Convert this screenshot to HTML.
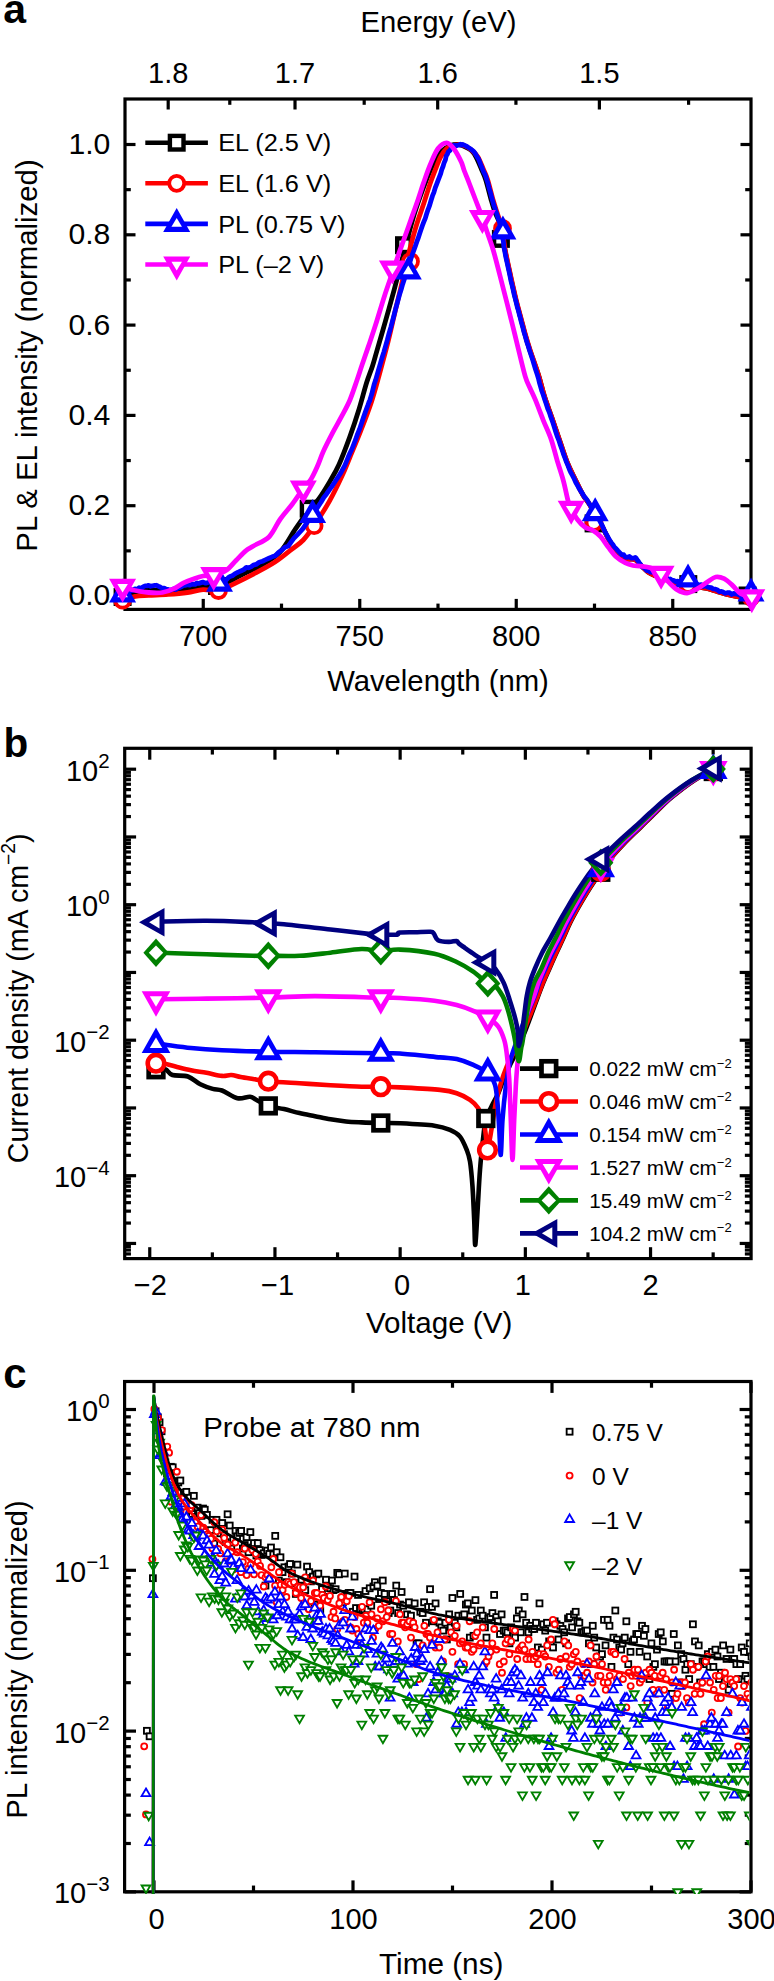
<!DOCTYPE html>
<html><head><meta charset="utf-8"><style>
html,body{margin:0;padding:0;background:#fff;}
svg{display:block;}
text{font-family:"Liberation Sans",sans-serif;fill:#000;}
</style></head><body>
<svg width="774" height="1981" viewBox="0 0 774 1981">
<defs><clipPath id="clipa"><rect x="100" y="99" width="670" height="520"/></clipPath><clipPath id="clipb"><rect x="126" y="749" width="623" height="508"/></clipPath></defs>
<rect width="774" height="1981" fill="#fff"/>
<rect x="125" y="99" width="626" height="510.4" fill="none" stroke="#000" stroke-width="3.2" stroke-linejoin="miter"/>
<line x1="203.25" y1="609.4" x2="203.25" y2="598.9" stroke="#000" stroke-width="3.2"/>
<text x="203.25" y="645.5" font-size="29" text-anchor="middle" >700</text>
<line x1="359.75" y1="609.4" x2="359.75" y2="598.9" stroke="#000" stroke-width="3.2"/>
<text x="359.75" y="645.5" font-size="29" text-anchor="middle" >750</text>
<line x1="516.25" y1="609.4" x2="516.25" y2="598.9" stroke="#000" stroke-width="3.2"/>
<text x="516.25" y="645.5" font-size="29" text-anchor="middle" >800</text>
<line x1="672.75" y1="609.4" x2="672.75" y2="598.9" stroke="#000" stroke-width="3.2"/>
<text x="672.75" y="645.5" font-size="29" text-anchor="middle" >850</text>
<line x1="281.5" y1="609.4" x2="281.5" y2="603.6" stroke="#000" stroke-width="3.2"/>
<line x1="438" y1="609.4" x2="438" y2="603.6" stroke="#000" stroke-width="3.2"/>
<line x1="594.5" y1="609.4" x2="594.5" y2="603.6" stroke="#000" stroke-width="3.2"/>
<line x1="168.19" y1="99" x2="168.19" y2="109.5" stroke="#000" stroke-width="3.2"/>
<text x="168.19" y="83.3" font-size="29" text-anchor="middle" >1.8</text>
<line x1="295.01" y1="99" x2="295.01" y2="109.5" stroke="#000" stroke-width="3.2"/>
<text x="295.01" y="83.3" font-size="29" text-anchor="middle" >1.7</text>
<line x1="437.69" y1="99" x2="437.69" y2="109.5" stroke="#000" stroke-width="3.2"/>
<text x="437.69" y="83.3" font-size="29" text-anchor="middle" >1.6</text>
<line x1="599.38" y1="99" x2="599.38" y2="109.5" stroke="#000" stroke-width="3.2"/>
<text x="599.38" y="83.3" font-size="29" text-anchor="middle" >1.5</text>
<line x1="229.79" y1="99" x2="229.79" y2="104.8" stroke="#000" stroke-width="3.2"/>
<line x1="364.19" y1="99" x2="364.19" y2="104.8" stroke="#000" stroke-width="3.2"/>
<line x1="515.93" y1="99" x2="515.93" y2="104.8" stroke="#000" stroke-width="3.2"/>
<line x1="688.59" y1="99" x2="688.59" y2="104.8" stroke="#000" stroke-width="3.2"/>
<line x1="125" y1="596" x2="135.5" y2="596" stroke="#000" stroke-width="3.2"/>
<line x1="751" y1="596" x2="740.5" y2="596" stroke="#000" stroke-width="3.2"/>
<text transform="translate(110.3,605.4) scale(1.04,1)" font-size="29" text-anchor="end" >0.0</text>
<line x1="125" y1="505.7" x2="135.5" y2="505.7" stroke="#000" stroke-width="3.2"/>
<line x1="751" y1="505.7" x2="740.5" y2="505.7" stroke="#000" stroke-width="3.2"/>
<text transform="translate(110.3,515.1) scale(1.04,1)" font-size="29" text-anchor="end" >0.2</text>
<line x1="125" y1="415.4" x2="135.5" y2="415.4" stroke="#000" stroke-width="3.2"/>
<line x1="751" y1="415.4" x2="740.5" y2="415.4" stroke="#000" stroke-width="3.2"/>
<text transform="translate(110.3,424.8) scale(1.04,1)" font-size="29" text-anchor="end" >0.4</text>
<line x1="125" y1="325.1" x2="135.5" y2="325.1" stroke="#000" stroke-width="3.2"/>
<line x1="751" y1="325.1" x2="740.5" y2="325.1" stroke="#000" stroke-width="3.2"/>
<text transform="translate(110.3,334.5) scale(1.04,1)" font-size="29" text-anchor="end" >0.6</text>
<line x1="125" y1="234.8" x2="135.5" y2="234.8" stroke="#000" stroke-width="3.2"/>
<line x1="751" y1="234.8" x2="740.5" y2="234.8" stroke="#000" stroke-width="3.2"/>
<text transform="translate(110.3,244.2) scale(1.04,1)" font-size="29" text-anchor="end" >0.8</text>
<line x1="125" y1="144.5" x2="135.5" y2="144.5" stroke="#000" stroke-width="3.2"/>
<line x1="751" y1="144.5" x2="740.5" y2="144.5" stroke="#000" stroke-width="3.2"/>
<text transform="translate(110.3,153.9) scale(1.04,1)" font-size="29" text-anchor="end" >1.0</text>
<line x1="125" y1="550.85" x2="130.8" y2="550.85" stroke="#000" stroke-width="3.2"/>
<line x1="751" y1="550.85" x2="745.2" y2="550.85" stroke="#000" stroke-width="3.2"/>
<line x1="125" y1="460.55" x2="130.8" y2="460.55" stroke="#000" stroke-width="3.2"/>
<line x1="751" y1="460.55" x2="745.2" y2="460.55" stroke="#000" stroke-width="3.2"/>
<line x1="125" y1="370.25" x2="130.8" y2="370.25" stroke="#000" stroke-width="3.2"/>
<line x1="751" y1="370.25" x2="745.2" y2="370.25" stroke="#000" stroke-width="3.2"/>
<line x1="125" y1="279.95" x2="130.8" y2="279.95" stroke="#000" stroke-width="3.2"/>
<line x1="751" y1="279.95" x2="745.2" y2="279.95" stroke="#000" stroke-width="3.2"/>
<line x1="125" y1="189.65" x2="130.8" y2="189.65" stroke="#000" stroke-width="3.2"/>
<line x1="751" y1="189.65" x2="745.2" y2="189.65" stroke="#000" stroke-width="3.2"/>
<text transform="translate(438.4,32) scale(1.008,1)" font-size="29" text-anchor="middle" >Energy (eV)</text>
<text transform="translate(438,691) scale(1.009,1)" font-size="29" text-anchor="middle" >Wavelength (nm)</text>
<text transform="translate(36.6,355.5) rotate(-90) scale(1.012,1)" font-size="29" text-anchor="middle">PL &amp; EL intensity (normalized)</text>
<text x="3.3" y="22.6" font-size="41" text-anchor="start" font-weight="bold" >a</text>
<g clip-path="url(#clipa)">
<path d="M122.6,597C124.67,596.17 130.43,593.17 135,592C139.57,590.83 145,590.25 150,590C155,589.75 160,590.5 165,590.5C170,590.5 175,590.58 180,590C185,589.42 190,587.67 195,587C200,586.33 205.83,586.25 210,586C214.17,585.75 216.33,586.5 220,585.5C223.67,584.5 227.83,582.08 232,580C236.17,577.92 240.33,575.33 245,573C249.67,570.67 254.17,569.5 260,566C265.83,562.5 274.08,558.2 280,552C285.92,545.8 290.85,535.5 295.5,528.8C300.15,522.1 304.02,516.78 307.9,511.8C311.78,506.82 315.18,503.88 318.8,498.9C322.42,493.92 326.25,487.58 329.6,481.9C332.95,476.22 335.53,472.3 338.9,464.8C342.27,457.3 346.43,446.2 349.8,436.9C353.17,427.6 356.32,417.98 359.1,409C361.88,400.02 364.27,390.17 366.5,383C368.73,375.83 370.73,371.48 372.5,366C374.27,360.52 374.92,357.65 377.1,350.1C379.28,342.55 382.77,330.68 385.6,320.7C388.43,310.72 391.61,299.32 394.08,290.2C396.54,281.08 398.37,273.87 400.42,266C402.46,258.13 404.29,250.83 406.36,243C408.42,235.17 410.59,226.5 412.81,219C415.02,211.5 417.33,204.67 419.65,198C421.96,191.33 424.29,185 426.71,179C429.14,173 431.63,166.67 434.18,162C436.73,157.33 439.25,153.75 442.01,151C444.78,148.25 448.11,146.58 450.77,145.5C453.44,144.42 455.88,144.42 458,144.5C460.12,144.58 461.23,144.98 463.5,146C465.77,147.02 469.52,148.78 471.6,150.6C473.68,152.42 474.3,153.67 476,156.9C477.7,160.13 480.17,166.15 481.8,170C483.43,173.85 484.23,175 485.8,180C487.37,185 489.62,194.5 491.2,200C492.78,205.5 493.72,208.83 495.3,213C496.88,217.17 499.42,221 500.7,225C501.98,229 502.3,232.83 503,237C503.7,241.17 503.95,244.83 504.9,250C505.85,255.17 507.48,262.33 508.7,268C509.92,273.67 511,278.67 512.2,284C513.4,289.33 514.48,294.33 515.9,300C517.32,305.67 519.15,312.17 520.7,318C522.25,323.83 523.68,329.67 525.2,335C526.72,340.33 527.58,343.33 529.8,350C532.02,356.67 536.05,367.25 538.5,375C540.95,382.75 542.25,389.33 544.5,396.5C546.75,403.67 549.42,410.5 552,418C554.58,425.5 557.42,434 560,441.5C562.58,449 564.92,456.58 567.5,463C570.08,469.42 572.92,474.67 575.5,480C578.08,485.33 580.75,491.08 583,495C585.25,498.92 586.83,500 589,503.5C591.17,507 593.92,512.42 596,516C598.08,519.58 599.33,521 601.5,525C603.67,529 606.42,535.67 609,540C611.58,544.33 614.17,547.92 617,551C619.83,554.08 623,557.08 626,558.5C629,559.92 632.5,558.33 635,559.5C637.5,560.67 638.83,563.42 641,565.5C643.17,567.58 645.5,570.25 648,572C650.5,573.75 653.33,574.83 656,576C658.67,577.17 661.33,578 664,579C666.67,580 669.33,581.17 672,582C674.67,582.83 677.33,583.5 680,584C682.67,584.5 685.17,584.58 688,585C690.83,585.42 693.83,585.92 697,586.5C700.17,587.08 703.67,587.67 707,588.5C710.33,589.33 713.67,590.5 717,591.5C720.33,592.5 723.67,593.67 727,594.5C730.33,595.33 733.67,596.08 737,596.5C740.33,596.92 744.5,596.92 747,597C749.5,597.08 751.17,597 752,597" fill="none" stroke="#000" stroke-width="4.8" stroke-linejoin="round" stroke-linecap="butt"/>
<rect x="115.8" y="590.2" width="13.6" height="13.6" fill="#fff" stroke="#000" stroke-width="4.4"/>
<rect x="210.2" y="579.2" width="13.6" height="13.6" fill="#fff" stroke="#000" stroke-width="4.4"/>
<rect x="301.9" y="501.9" width="13.6" height="13.6" fill="#fff" stroke="#000" stroke-width="4.4"/>
<rect x="397.2" y="238.4" width="13.6" height="13.6" fill="#fff" stroke="#000" stroke-width="4.4"/>
<rect x="494.1" y="232.1" width="13.6" height="13.6" fill="#fff" stroke="#000" stroke-width="4.4"/>
<rect x="586.8" y="516.6" width="13.6" height="13.6" fill="#fff" stroke="#000" stroke-width="4.4"/>
<rect x="681.5" y="577.3" width="13.6" height="13.6" fill="#fff" stroke="#000" stroke-width="4.4"/>
<rect x="740.8" y="588.7" width="13.6" height="13.6" fill="#fff" stroke="#000" stroke-width="4.4"/>
<path d="M122.6,600.2C124.7,599.57 130.83,597.2 135.2,596.4C139.57,595.6 143.32,595.73 148.8,595.4C154.28,595.07 161.65,594.88 168.1,594.4C174.55,593.92 181.68,593.3 187.5,592.5C193.32,591.7 197.83,589.93 203,589.6C208.17,589.27 213.33,591.47 218.5,590.5C223.67,589.53 228.18,586.53 234,583.8C239.82,581.07 246.57,577.73 253.4,574.1C260.23,570.47 268.57,566.18 275,562C281.43,557.82 287.28,552.67 292,549C296.72,545.33 299.62,543.88 303.3,540C306.98,536.12 309.72,532.22 314.1,525.7C318.48,519.18 324.95,509.17 329.6,500.9C334.25,492.63 338.63,483.33 342,476.1C345.37,468.87 346.7,464.98 349.8,457.5C352.9,450.02 356.98,440.5 360.6,431.2C364.22,421.9 368.27,411.57 371.5,401.7C374.73,391.83 377.25,381.95 380,372C382.75,362.05 385.5,352 388,342C390.5,332 392.84,321.17 395,312C397.16,302.83 399.15,294.83 400.97,287C402.79,279.17 404.26,272 405.91,265C407.56,258 409.05,251.83 410.86,245C412.68,238.17 414.63,231 416.81,224C418.99,217 421.72,209.67 423.91,203C426.11,196.33 427.88,190.07 429.99,184C432.1,177.93 434.7,171.27 436.55,166.6C438.4,161.93 439.36,159.02 441.09,156C442.82,152.98 444.61,150.33 446.93,148.5C449.24,146.67 452.24,145.53 455,145C457.76,144.47 460.73,144.43 463.5,145.3C466.27,146.17 469.2,148.27 471.6,150.2C474,152.13 475.88,153.6 477.9,156.9C479.92,160.2 482.07,166.15 483.7,170C485.33,173.85 486.13,175 487.7,180C489.27,185 491.52,194.5 493.1,200C494.68,205.5 495.88,208.83 497.2,213C498.52,217.17 499.98,221 501,225C502.02,229 502.6,232.83 503.3,237C504,241.17 504.25,244.83 505.2,250C506.15,255.17 507.78,262.33 509,268C510.22,273.67 511.3,278.67 512.5,284C513.7,289.33 514.78,294.33 516.2,300C517.62,305.67 519.45,312.17 521,318C522.55,323.83 523.98,329.67 525.5,335C527.02,340.33 527.93,343.33 530.1,350C532.27,356.67 536.1,367.25 538.5,375C540.9,382.75 542.25,389.33 544.5,396.5C546.75,403.67 549.42,410.5 552,418C554.58,425.5 557.42,434 560,441.5C562.58,449 564.92,456.58 567.5,463C570.08,469.42 572.92,474.67 575.5,480C578.08,485.33 580.75,491.08 583,495C585.25,498.92 586.83,500 589,503.5C591.17,507 593.92,512.42 596,516C598.08,519.58 599.33,521 601.5,525C603.67,529 606.42,535.67 609,540C611.58,544.33 614.17,547.92 617,551C619.83,554.08 623,557.08 626,558.5C629,559.92 632.5,558.33 635,559.5C637.5,560.67 638.83,563.42 641,565.5C643.17,567.58 645.5,570.25 648,572C650.5,573.75 653.33,574.83 656,576C658.67,577.17 661.33,578 664,579C666.67,580 669.33,581.17 672,582C674.67,582.83 677.33,583.5 680,584C682.67,584.5 685.17,584.58 688,585C690.83,585.42 693.83,585.92 697,586.5C700.17,587.08 703.67,587.67 707,588.5C710.33,589.33 713.67,590.5 717,591.5C720.33,592.5 723.67,593.67 727,594.5C730.33,595.33 733.67,596.08 737,596.5C740.33,596.92 744.5,596.92 747,597C749.5,597.08 751.17,597 752,597" fill="none" stroke="#f00" stroke-width="4.8" stroke-linejoin="round" stroke-linecap="butt"/>
<circle cx="122.6" cy="600.2" r="7.5" fill="#fff" stroke="#f00" stroke-width="3.8"/>
<circle cx="218.5" cy="590.5" r="7.5" fill="#fff" stroke="#f00" stroke-width="3.8"/>
<circle cx="314.1" cy="525.7" r="7.5" fill="#fff" stroke="#f00" stroke-width="3.8"/>
<circle cx="410.5" cy="261.5" r="7.5" fill="#fff" stroke="#f00" stroke-width="3.8"/>
<circle cx="502.5" cy="228.5" r="7.5" fill="#fff" stroke="#f00" stroke-width="3.8"/>
<circle cx="594" cy="522.5" r="7.5" fill="#fff" stroke="#f00" stroke-width="3.8"/>
<circle cx="688" cy="584.5" r="7.5" fill="#fff" stroke="#f00" stroke-width="3.8"/>
<circle cx="751" cy="597" r="7.5" fill="#fff" stroke="#f00" stroke-width="3.8"/>
<path d="M122.5,593.77 L124.44,592.95 L126.89,592.49 L129.53,591.63 L132.41,590.4 L134.97,588.86 L137.28,589.46 L139.09,587.71 L141.23,588.44 L143.05,586.94 L145.16,585.88 L147.03,585.94 L148.59,585.29 L150.62,586.3 L152.49,585.77 L154.68,585.47 L156.57,585.27 L158.24,586.14 L160.52,587.26 L162.26,588.23 L164.27,588.24 L166.4,589.36 L168.05,589.51 L170.14,590.32 L172.19,589.36 L174.26,588.91 L175.88,589.56 L177.65,588.28 L179.51,587.65 L181.82,586.56 L183.8,585.36 L185.64,585.35 L187.52,584.67 L189.6,585.2 L191.34,584.39 L193.06,584.16 L195.21,584.43 L197.03,582.94 L198.57,583.45 L200.37,582.9 L202.82,582.11 L205.72,583.18 L209.19,582.21 L212.93,583.28 L216.24,582.33 L219.53,582.69 L222.17,581.95 L224.03,580.24 L226.06,580.02 L228.34,577.55 L230.03,576.52 L232.32,575.7 L234.82,573.89 L236.85,572.72 L239.39,571.59 L242.04,570.54 L244.06,569.33 L246.33,567.37 L248.67,567.78 L251.01,566.88 L253.34,565.12 L256.08,564.43 L259.18,562.29 L262.52,561.25 L265.89,559.69 L268.93,558.27 L272.15,556.85 L275.29,555.79 L278.78,552.32 L281.74,550.31 L284.93,547.32 L288.31,546.01 L291.24,541.95 L294.13,537.94 L297.26,534.84 L300.27,531.66 L302.74,528.94 L305.3,525.12 L307.68,521.72 L310.07,518.92 L312.68,515.04 L315.26,510.76 L318.05,506.7 L320.98,502.25 L323.76,497.49 L326.57,493.94 L329.2,490.09 L331.78,486.55 L334.18,483.01 L336.61,479.28 L338.8,475.95 L340.91,472.66 L342.94,468.92 L344.72,465.67 L346.49,461.44 L348.14,457.31 L350,453 L351.95,448.99 L353.85,444.02 L355.67,439.43 L357.41,434.41 L359.54,429.16 L361.54,423.16 L363.42,417.63 L365.26,412.39 L366.9,407.83 L367.83,405.39 L368.59,403.17 L369,401.9 L369.75,400.8 L370.43,398.23 L371.7,394.36 L372.81,389.85 L374.11,384.57 L375.71,379.84 L377.11,374.8 L378.66,369.44 L380.43,363.43 L382.06,357.76 L383.82,352.1 L385.55,346.04 L387.25,340.22 L389.04,333.49 L390.82,327.33 L392.47,321.03 L394.1,314.82 L395.61,308.92 L397.02,303.76 L398.31,299.13 L399.71,293.99 L401.22,289.24 L402.59,284.41 L404.14,279.83 L405.52,275.1 L406.93,270.64 L408.27,267.01 L409.22,264.11 L410.08,261.43 L410.73,259.27 L411.5,257.04 L412.47,254.02 L413.71,250.76 L415.14,246.77 L416.67,242.17 L418.09,238.43 L419.61,233.75 L420.87,229.98 L422.28,225.88 L423.7,222.21 L425.27,218.33 L426.57,214.05 L428.12,209.29 L429.63,205.34 L430.96,200.76 L432.45,195.99 L433.99,192.03 L435.22,187.87 L436.68,184.13 L437.98,180.58 L439.43,176.88 L440.68,173.62 L441.67,169.78 L443.09,166.24 L443.98,163.2 L445.4,159.77 L446.23,155.87 L447.32,154.22 L448.52,151.35 L449.69,150.83 L450.94,148.55 L451.74,148.29 L452.97,147.03 L453.8,145.46 L455.08,145.51 L455.86,145.89 L457.16,145.42 L457.98,145.24 L459,145.05 L460.23,144.24 L461.42,145.17 L462.6,144.38 L464.23,145.13 L465.76,145.84 L467.51,146.88 L469.35,148.14 L471.11,149.31 L472.38,150.35 L473.59,151.38 L474.74,152.76 L476.07,155.06 L477.13,156.88 L478.51,158.92 L479.7,161.82 L480.83,164.94 L481.94,167.49 L483.04,170.34 L483.86,172.27 L484.71,173.84 L485.37,175.32 L486.05,177.15 L486.91,180.17 L487.96,183.24 L489.03,187.85 L490.34,192.14 L491.34,196.11 L492.36,199.97 L493.24,203.03 L494.1,206.08 L495.04,208.24 L495.67,210.9 L496.46,212.9 L497.2,215.38 L498.11,217.87 L498.84,220.25 L499.54,222.45 L500.21,224.93 L500.77,227.05 L501.31,229.56 L501.8,232.15 L502.24,234.65 L502.65,237.27 L502.95,239.33 L503.4,241.64 L503.67,244.49 L503.91,247.3 L504.58,250.09 L505.19,253.53 L505.82,256.95 L506.71,260.94 L507.59,264.68 L508.32,268.27 L509.05,271.46 L509.66,274.22 L510.32,277.6 L511.01,281.07 L511.81,284.09 L512.54,287.29 L513.21,289.96 L513.99,293.63 L514.69,296.7 L515.53,299.7 L516.44,303.31 L517.27,306.94 L518.4,310.57 L519.39,314.77 L520.3,317.92 L521.21,321.62 L522.17,325.05 L523.04,328.1 L523.82,331.57 L524.85,334.86 L525.68,337.64 L526.39,340.55 L527.37,343.58 L528.32,346.31 L529.4,349.98 L530.76,354 L532.41,358.86 L534.08,364.45 L535.51,369.19 L537.17,374.33 L538.4,378.29 L539.56,383.08 L540.72,387.06 L541.91,391.24 L543.4,395.24 L544.81,399.81 L546.35,404.23 L547.78,408.67 L549.43,412.42 L550.9,417.19 L552.54,421.64 L554.04,426.37 L555.64,431.46 L557.14,436.09 L558.87,440.23 L560.43,445.17 L561.97,449.37 L563.39,453.86 L565.06,458.25 L566.47,462.15 L568.01,465.63 L569.53,469.72 L571.14,473.15 L572.69,475.9 L574.3,478.98 L575.84,482.59 L577.54,485.48 L579.06,488.41 L580.65,490.82 L582.05,492.88 L583.37,495.22 L584.6,497.08 L585.69,498.23 L587.02,499.9 L588.19,501.89 L589.53,504.3 L591.12,506.27 L592.51,508.66 L593.9,511.05 L595.13,513.06 L596.28,515.47 L597.36,516.67 L598.43,518.88 L599.38,520.12 L600.54,522.31 L601.97,525.09 L603.5,528.41 L605.19,532.2 L606.86,535.13 L608.38,538.12 L609.89,540.51 L611.32,542.79 L613.01,544.83 L614.46,547.19 L616.18,548.8 L617.8,550.67 L619.67,552.58 L621.83,554.87 L623.7,554.77 L625.15,557.08 L627.59,557.24 L629.48,556.53 L631.41,558.18 L633.54,558.12 L635.26,557.45 L636.07,558.11 L637.3,560.14 L638.4,561.43 L639.13,562.8 L640.08,563.69 L641.06,565.44 L642.44,567.12 L644,567.46 L645.12,568.71 L646.87,570.66 L648.16,570.42 L650.05,572.05 L651.7,572.01 L653.55,572.2 L655.09,573.63 L657.13,574.63 L658.77,574.98 L660.1,575.22 L662.17,576.7 L663.5,576.14 L665.28,578.01 L666.92,578 L668.73,579.92 L670.17,578.99 L671.91,580.26 L673.79,580.34 L675.56,581.74 L677.1,581.14 L679.02,581.6 L680.57,581.62 L681.8,582.55 L683.31,582.7 L684.88,581.09 L686.24,581.33 L688.09,582.31 L689.53,581.55 L691.37,582.97 L693.19,581.79 L695.04,582.95 L697.42,584.39 L699.29,585.2 L701.41,584.67 L703.05,586.47 L705.41,585.56 L707.39,586.88 L709.24,587.49 L711.12,587.61 L713.18,588.94 L715.54,589.2 L717.55,589.97 L719.24,591.65 L721.51,591.48 L723.11,592.05 L725.31,593.32 L727.23,592.76 L729.63,592.6 L731.39,594.46 L733.6,593.47 L735.23,593.8 L737.73,594.26 L739.74,595.28 L741.73,593.82 L744.22,594 L745.82,593.77 L747.5,592.7 L748.65,593.44 L750.21,593.19 L751.07,592.1 L751.35,592.94 L752.25,593.82" fill="none" stroke="#00f" stroke-width="4.8" stroke-linejoin="round"/>
<path d="M122.6,578.4 L136.1,602.4 L109.1,602.4Z" fill="#00f"/><path d="M122.6,588.5 L127.85,597.2 L117.35,597.2Z" fill="#fff"/>
<path d="M219.5,567.8 L233,591.8 L206,591.8Z" fill="#00f"/><path d="M219.5,577.9 L224.75,586.6 L214.25,586.6Z" fill="#fff"/>
<path d="M312.6,498.9 L326.1,522.9 L299.1,522.9Z" fill="#00f"/><path d="M312.6,509 L317.85,517.7 L307.35,517.7Z" fill="#fff"/>
<path d="M408.3,255.5 L421.8,279.5 L394.8,279.5Z" fill="#00f"/><path d="M408.3,265.6 L413.55,274.3 L403.05,274.3Z" fill="#fff"/>
<path d="M502.9,215.4 L516.4,239.4 L489.4,239.4Z" fill="#00f"/><path d="M502.9,225.5 L508.15,234.2 L497.65,234.2Z" fill="#fff"/>
<path d="M595.2,497.3 L608.7,521.3 L581.7,521.3Z" fill="#00f"/><path d="M595.2,507.4 L600.45,516.1 L589.95,516.1Z" fill="#fff"/>
<path d="M688,563.5 L701.5,587.5 L674.5,587.5Z" fill="#00f"/><path d="M688,573.6 L693.25,582.3 L682.75,582.3Z" fill="#fff"/>
<path d="M751,577.5 L764.5,601.5 L737.5,601.5Z" fill="#00f"/><path d="M751,587.6 L756.25,596.3 L745.75,596.3Z" fill="#fff"/>
<path d="M122.6,586.7C124.7,587.33 130.83,589.53 135.2,590.5C139.57,591.47 144.28,592.17 148.8,592.5C153.32,592.83 158.1,593.15 162.3,592.5C166.5,591.85 170.45,590.22 174,588.6C177.55,586.98 180.38,584.42 183.6,582.8C186.82,581.18 190.07,580.03 193.3,578.9C196.53,577.77 199.6,576.65 203,576C206.4,575.35 209.82,575.97 213.7,575C217.58,574.03 222.58,572.62 226.3,570.2C230.02,567.78 232.77,563.73 236,560.5C239.23,557.27 242.8,553.22 245.7,550.8C248.6,548.38 249.48,548.35 253.4,546C257.32,543.65 264.77,541.12 269.2,536.7C273.63,532.28 276.13,524.95 280,519.5C283.87,514.05 288.52,509.17 292.4,504C296.28,498.83 300.2,492.63 303.3,488.5C306.4,484.37 308.68,482.82 311,479.2C313.32,475.58 315.13,471.45 317.2,466.8C319.27,462.15 320.82,456.98 323.4,451.3C325.98,445.62 329.6,438.63 332.7,432.7C335.8,426.77 339.15,421.12 342,415.7C344.85,410.28 347.35,405.98 349.8,400.2C352.25,394.42 354.67,386.87 356.7,381C358.73,375.13 360.03,370.82 362,365C363.97,359.18 366.23,352.8 368.5,346.1C370.77,339.4 372.96,333.08 375.6,324.8C378.24,316.52 381.3,305.77 384.34,296.4C387.38,287.03 391.5,275.5 393.84,268.6C396.17,261.7 396.69,259.85 398.36,255C400.03,250.15 401.78,245.4 403.88,239.5C405.98,233.6 408.59,226.23 410.94,219.6C413.29,212.97 415.88,205.87 418,199.7C420.12,193.53 421.57,188.52 423.64,182.6C425.71,176.68 428.01,169.88 430.41,164.2C432.81,158.52 435.34,152.07 438.05,148.5C440.76,144.93 444.01,142.68 446.7,142.8C449.39,142.92 451.77,146 454.2,149.2C456.63,152.4 459.67,158.53 461.3,162C462.93,165.47 462.63,166.33 464,170C465.37,173.67 467.57,179 469.5,184C471.43,189 473.93,195.67 475.6,200C477.27,204.33 478.37,207.02 479.5,210C480.63,212.98 481.22,214.48 482.4,217.9C483.58,221.32 484.8,225.15 486.6,230.5C488.4,235.85 491,242.58 493.2,250C495.4,257.42 497.63,266.67 499.8,275C501.97,283.33 504.08,291.67 506.2,300C508.32,308.33 510.43,316.67 512.5,325C514.57,333.33 516.47,341.4 518.6,350C520.73,358.6 523.4,370.27 525.3,376.6C527.2,382.93 528.3,384.07 530,388C531.7,391.93 533.28,394.82 535.5,400.2C537.72,405.58 540.72,413.85 543.3,420.3C545.88,426.75 548.68,432.18 551,438.9C553.32,445.62 555.13,453.62 557.2,460.6C559.27,467.58 561.58,474.08 563.4,480.8C565.22,487.52 566.8,496.25 568.1,500.9C569.4,505.55 569.65,505.6 571.2,508.7C572.75,511.8 575.08,516.4 577.4,519.5C579.72,522.6 582.52,525.48 585.1,527.3C587.68,529.12 590.32,528.85 592.9,530.4C595.48,531.95 598.02,533.77 600.6,536.6C603.18,539.43 605.82,544.05 608.4,547.4C610.98,550.75 613.27,554.12 616.1,556.7C618.93,559.28 622.58,561.43 625.4,562.9C628.22,564.37 630.55,564.97 633,565.5C635.45,566.03 637.23,565.72 640.1,566.1C642.97,566.48 646.7,566.53 650.2,567.8C653.7,569.07 658.03,571.32 661.1,573.7C664.17,576.08 665.95,579.45 668.6,582.1C671.25,584.75 673.92,587.78 677,589.6C680.08,591.42 683.73,593.13 687.1,593C690.47,592.87 693.83,590.62 697.2,588.8C700.57,586.98 704.22,584.07 707.3,582.1C710.38,580.13 712.9,577.57 715.7,577C718.5,576.43 721.3,577.3 724.1,578.7C726.9,580.1 729.72,582.88 732.5,585.4C735.28,587.92 737.58,591.83 740.8,593.8C744.02,595.77 749.97,596.63 751.8,597.2" fill="none" stroke="#f0f" stroke-width="4.8" stroke-linejoin="round" stroke-linecap="butt"/>
<path d="M122.6,602.7 L136.1,578.7 L109.1,578.7Z" fill="#f0f"/><path d="M122.6,592.6 L127.85,583.9 L117.35,583.9Z" fill="#fff"/>
<path d="M213.7,591 L227.2,567 L200.2,567Z" fill="#f0f"/><path d="M213.7,580.9 L218.95,572.2 L208.45,572.2Z" fill="#fff"/>
<path d="M303.3,504.5 L316.8,480.5 L289.8,480.5Z" fill="#f0f"/><path d="M303.3,494.4 L308.55,485.7 L298.05,485.7Z" fill="#fff"/>
<path d="M392.4,284.6 L405.9,260.6 L378.9,260.6Z" fill="#f0f"/><path d="M392.4,274.5 L397.65,265.8 L387.15,265.8Z" fill="#fff"/>
<path d="M482.4,233.9 L495.9,209.9 L468.9,209.9Z" fill="#f0f"/><path d="M482.4,223.8 L487.65,215.1 L477.15,215.1Z" fill="#fff"/>
<path d="M571.2,524.7 L584.7,500.7 L557.7,500.7Z" fill="#f0f"/><path d="M571.2,514.6 L576.45,505.9 L565.95,505.9Z" fill="#fff"/>
<path d="M661.1,589.7 L674.6,565.7 L647.6,565.7Z" fill="#f0f"/><path d="M661.1,579.6 L666.35,570.9 L655.85,570.9Z" fill="#fff"/>
<path d="M751.8,613.2 L765.3,589.2 L738.3,589.2Z" fill="#f0f"/><path d="M751.8,603.1 L757.05,594.4 L746.55,594.4Z" fill="#fff"/>
</g>
<line x1="145.3" y1="142.7" x2="207.9" y2="142.7" stroke="#000" stroke-width="4.6"/>
<rect x="169.9" y="135.9" width="13.6" height="13.6" fill="#fff" stroke="#000" stroke-width="4.4"/>
<text transform="translate(218.2,151.3) scale(1.038,1)" font-size="24.4" text-anchor="start" >EL (2.5 V)</text>
<line x1="145.3" y1="183.3" x2="207.9" y2="183.3" stroke="#f00" stroke-width="4.6"/>
<circle cx="176.7" cy="183.3" r="7.5" fill="#fff" stroke="#f00" stroke-width="3.8"/>
<text transform="translate(218.2,191.9) scale(1.038,1)" font-size="24.4" text-anchor="start" >EL (1.6 V)</text>
<line x1="145.3" y1="223.9" x2="207.9" y2="223.9" stroke="#00f" stroke-width="4.6"/>
<path d="M176.7,207.9 L190.2,231.9 L163.2,231.9Z" fill="#00f"/><path d="M176.7,218 L181.95,226.7 L171.45,226.7Z" fill="#fff"/>
<text transform="translate(218.2,232.5) scale(1.038,1)" font-size="24.4" text-anchor="start" >PL (0.75 V)</text>
<line x1="145.3" y1="264.5" x2="207.9" y2="264.5" stroke="#f0f" stroke-width="4.6"/>
<path d="M176.7,280.5 L190.2,256.5 L163.2,256.5Z" fill="#f0f"/><path d="M176.7,270.4 L181.95,261.7 L171.45,261.7Z" fill="#fff"/>
<text transform="translate(218.2,273.1) scale(1.038,1)" font-size="24.4" text-anchor="start" >PL (&#8211;2 V)</text>
<rect x="124.7" y="748.3" width="626.4" height="510.3" fill="none" stroke="#000" stroke-width="3.2" stroke-linejoin="miter"/>
<line x1="149.75" y1="1258.6" x2="149.75" y2="1247.2" stroke="#000" stroke-width="3.2"/>
<line x1="149.75" y1="748.3" x2="149.75" y2="759.7" stroke="#000" stroke-width="3.2"/>
<text x="150.25" y="1295.3" font-size="29" text-anchor="middle" >&#8722;2</text>
<line x1="274.95" y1="1258.6" x2="274.95" y2="1247.2" stroke="#000" stroke-width="3.2"/>
<line x1="274.95" y1="748.3" x2="274.95" y2="759.7" stroke="#000" stroke-width="3.2"/>
<text x="277.55" y="1295.3" font-size="29" text-anchor="middle" >&#8722;1</text>
<line x1="400.15" y1="1258.6" x2="400.15" y2="1247.2" stroke="#000" stroke-width="3.2"/>
<line x1="400.15" y1="748.3" x2="400.15" y2="759.7" stroke="#000" stroke-width="3.2"/>
<text x="402.15" y="1295.3" font-size="29" text-anchor="middle" >0</text>
<line x1="525.35" y1="1258.6" x2="525.35" y2="1247.2" stroke="#000" stroke-width="3.2"/>
<line x1="525.35" y1="748.3" x2="525.35" y2="759.7" stroke="#000" stroke-width="3.2"/>
<text x="522.85" y="1295.3" font-size="29" text-anchor="middle" >1</text>
<line x1="650.55" y1="1258.6" x2="650.55" y2="1247.2" stroke="#000" stroke-width="3.2"/>
<line x1="650.55" y1="748.3" x2="650.55" y2="759.7" stroke="#000" stroke-width="3.2"/>
<text x="650.55" y="1295.3" font-size="29" text-anchor="middle" >2</text>
<line x1="212.35" y1="1258.6" x2="212.35" y2="1252.35" stroke="#000" stroke-width="3.2"/>
<line x1="212.35" y1="748.3" x2="212.35" y2="754.55" stroke="#000" stroke-width="3.2"/>
<line x1="337.55" y1="1258.6" x2="337.55" y2="1252.35" stroke="#000" stroke-width="3.2"/>
<line x1="337.55" y1="748.3" x2="337.55" y2="754.55" stroke="#000" stroke-width="3.2"/>
<line x1="462.75" y1="1258.6" x2="462.75" y2="1252.35" stroke="#000" stroke-width="3.2"/>
<line x1="462.75" y1="748.3" x2="462.75" y2="754.55" stroke="#000" stroke-width="3.2"/>
<line x1="587.95" y1="1258.6" x2="587.95" y2="1252.35" stroke="#000" stroke-width="3.2"/>
<line x1="587.95" y1="748.3" x2="587.95" y2="754.55" stroke="#000" stroke-width="3.2"/>
<line x1="713.15" y1="1258.6" x2="713.15" y2="1252.35" stroke="#000" stroke-width="3.2"/>
<line x1="713.15" y1="748.3" x2="713.15" y2="754.55" stroke="#000" stroke-width="3.2"/>
<line x1="124.7" y1="1253.94" x2="130.95" y2="1253.94" stroke="#000" stroke-width="3.2"/>
<line x1="751.1" y1="1253.94" x2="744.85" y2="1253.94" stroke="#000" stroke-width="3.2"/>
<line x1="124.7" y1="1250.02" x2="130.95" y2="1250.02" stroke="#000" stroke-width="3.2"/>
<line x1="751.1" y1="1250.02" x2="744.85" y2="1250.02" stroke="#000" stroke-width="3.2"/>
<line x1="124.7" y1="1246.55" x2="130.95" y2="1246.55" stroke="#000" stroke-width="3.2"/>
<line x1="751.1" y1="1246.55" x2="744.85" y2="1246.55" stroke="#000" stroke-width="3.2"/>
<line x1="124.7" y1="1243.45" x2="136.1" y2="1243.45" stroke="#000" stroke-width="3.2"/>
<line x1="751.1" y1="1243.45" x2="739.7" y2="1243.45" stroke="#000" stroke-width="3.2"/>
<line x1="124.7" y1="1223.06" x2="130.95" y2="1223.06" stroke="#000" stroke-width="3.2"/>
<line x1="751.1" y1="1223.06" x2="744.85" y2="1223.06" stroke="#000" stroke-width="3.2"/>
<line x1="124.7" y1="1211.13" x2="130.95" y2="1211.13" stroke="#000" stroke-width="3.2"/>
<line x1="751.1" y1="1211.13" x2="744.85" y2="1211.13" stroke="#000" stroke-width="3.2"/>
<line x1="124.7" y1="1202.66" x2="130.95" y2="1202.66" stroke="#000" stroke-width="3.2"/>
<line x1="751.1" y1="1202.66" x2="744.85" y2="1202.66" stroke="#000" stroke-width="3.2"/>
<line x1="124.7" y1="1196.09" x2="130.95" y2="1196.09" stroke="#000" stroke-width="3.2"/>
<line x1="751.1" y1="1196.09" x2="744.85" y2="1196.09" stroke="#000" stroke-width="3.2"/>
<line x1="124.7" y1="1190.73" x2="130.95" y2="1190.73" stroke="#000" stroke-width="3.2"/>
<line x1="751.1" y1="1190.73" x2="744.85" y2="1190.73" stroke="#000" stroke-width="3.2"/>
<line x1="124.7" y1="1186.19" x2="130.95" y2="1186.19" stroke="#000" stroke-width="3.2"/>
<line x1="751.1" y1="1186.19" x2="744.85" y2="1186.19" stroke="#000" stroke-width="3.2"/>
<line x1="124.7" y1="1182.27" x2="130.95" y2="1182.27" stroke="#000" stroke-width="3.2"/>
<line x1="751.1" y1="1182.27" x2="744.85" y2="1182.27" stroke="#000" stroke-width="3.2"/>
<line x1="124.7" y1="1178.8" x2="130.95" y2="1178.8" stroke="#000" stroke-width="3.2"/>
<line x1="751.1" y1="1178.8" x2="744.85" y2="1178.8" stroke="#000" stroke-width="3.2"/>
<line x1="124.7" y1="1175.7" x2="136.1" y2="1175.7" stroke="#000" stroke-width="3.2"/>
<line x1="751.1" y1="1175.7" x2="739.7" y2="1175.7" stroke="#000" stroke-width="3.2"/>
<line x1="124.7" y1="1155.31" x2="130.95" y2="1155.31" stroke="#000" stroke-width="3.2"/>
<line x1="751.1" y1="1155.31" x2="744.85" y2="1155.31" stroke="#000" stroke-width="3.2"/>
<line x1="124.7" y1="1143.38" x2="130.95" y2="1143.38" stroke="#000" stroke-width="3.2"/>
<line x1="751.1" y1="1143.38" x2="744.85" y2="1143.38" stroke="#000" stroke-width="3.2"/>
<line x1="124.7" y1="1134.91" x2="130.95" y2="1134.91" stroke="#000" stroke-width="3.2"/>
<line x1="751.1" y1="1134.91" x2="744.85" y2="1134.91" stroke="#000" stroke-width="3.2"/>
<line x1="124.7" y1="1128.34" x2="130.95" y2="1128.34" stroke="#000" stroke-width="3.2"/>
<line x1="751.1" y1="1128.34" x2="744.85" y2="1128.34" stroke="#000" stroke-width="3.2"/>
<line x1="124.7" y1="1122.98" x2="130.95" y2="1122.98" stroke="#000" stroke-width="3.2"/>
<line x1="751.1" y1="1122.98" x2="744.85" y2="1122.98" stroke="#000" stroke-width="3.2"/>
<line x1="124.7" y1="1118.44" x2="130.95" y2="1118.44" stroke="#000" stroke-width="3.2"/>
<line x1="751.1" y1="1118.44" x2="744.85" y2="1118.44" stroke="#000" stroke-width="3.2"/>
<line x1="124.7" y1="1114.52" x2="130.95" y2="1114.52" stroke="#000" stroke-width="3.2"/>
<line x1="751.1" y1="1114.52" x2="744.85" y2="1114.52" stroke="#000" stroke-width="3.2"/>
<line x1="124.7" y1="1111.05" x2="130.95" y2="1111.05" stroke="#000" stroke-width="3.2"/>
<line x1="751.1" y1="1111.05" x2="744.85" y2="1111.05" stroke="#000" stroke-width="3.2"/>
<line x1="124.7" y1="1107.95" x2="136.1" y2="1107.95" stroke="#000" stroke-width="3.2"/>
<line x1="751.1" y1="1107.95" x2="739.7" y2="1107.95" stroke="#000" stroke-width="3.2"/>
<line x1="124.7" y1="1087.56" x2="130.95" y2="1087.56" stroke="#000" stroke-width="3.2"/>
<line x1="751.1" y1="1087.56" x2="744.85" y2="1087.56" stroke="#000" stroke-width="3.2"/>
<line x1="124.7" y1="1075.63" x2="130.95" y2="1075.63" stroke="#000" stroke-width="3.2"/>
<line x1="751.1" y1="1075.63" x2="744.85" y2="1075.63" stroke="#000" stroke-width="3.2"/>
<line x1="124.7" y1="1067.16" x2="130.95" y2="1067.16" stroke="#000" stroke-width="3.2"/>
<line x1="751.1" y1="1067.16" x2="744.85" y2="1067.16" stroke="#000" stroke-width="3.2"/>
<line x1="124.7" y1="1060.59" x2="130.95" y2="1060.59" stroke="#000" stroke-width="3.2"/>
<line x1="751.1" y1="1060.59" x2="744.85" y2="1060.59" stroke="#000" stroke-width="3.2"/>
<line x1="124.7" y1="1055.23" x2="130.95" y2="1055.23" stroke="#000" stroke-width="3.2"/>
<line x1="751.1" y1="1055.23" x2="744.85" y2="1055.23" stroke="#000" stroke-width="3.2"/>
<line x1="124.7" y1="1050.69" x2="130.95" y2="1050.69" stroke="#000" stroke-width="3.2"/>
<line x1="751.1" y1="1050.69" x2="744.85" y2="1050.69" stroke="#000" stroke-width="3.2"/>
<line x1="124.7" y1="1046.77" x2="130.95" y2="1046.77" stroke="#000" stroke-width="3.2"/>
<line x1="751.1" y1="1046.77" x2="744.85" y2="1046.77" stroke="#000" stroke-width="3.2"/>
<line x1="124.7" y1="1043.3" x2="130.95" y2="1043.3" stroke="#000" stroke-width="3.2"/>
<line x1="751.1" y1="1043.3" x2="744.85" y2="1043.3" stroke="#000" stroke-width="3.2"/>
<line x1="124.7" y1="1040.2" x2="136.1" y2="1040.2" stroke="#000" stroke-width="3.2"/>
<line x1="751.1" y1="1040.2" x2="739.7" y2="1040.2" stroke="#000" stroke-width="3.2"/>
<line x1="124.7" y1="1019.81" x2="130.95" y2="1019.81" stroke="#000" stroke-width="3.2"/>
<line x1="751.1" y1="1019.81" x2="744.85" y2="1019.81" stroke="#000" stroke-width="3.2"/>
<line x1="124.7" y1="1007.88" x2="130.95" y2="1007.88" stroke="#000" stroke-width="3.2"/>
<line x1="751.1" y1="1007.88" x2="744.85" y2="1007.88" stroke="#000" stroke-width="3.2"/>
<line x1="124.7" y1="999.41" x2="130.95" y2="999.41" stroke="#000" stroke-width="3.2"/>
<line x1="751.1" y1="999.41" x2="744.85" y2="999.41" stroke="#000" stroke-width="3.2"/>
<line x1="124.7" y1="992.84" x2="130.95" y2="992.84" stroke="#000" stroke-width="3.2"/>
<line x1="751.1" y1="992.84" x2="744.85" y2="992.84" stroke="#000" stroke-width="3.2"/>
<line x1="124.7" y1="987.48" x2="130.95" y2="987.48" stroke="#000" stroke-width="3.2"/>
<line x1="751.1" y1="987.48" x2="744.85" y2="987.48" stroke="#000" stroke-width="3.2"/>
<line x1="124.7" y1="982.94" x2="130.95" y2="982.94" stroke="#000" stroke-width="3.2"/>
<line x1="751.1" y1="982.94" x2="744.85" y2="982.94" stroke="#000" stroke-width="3.2"/>
<line x1="124.7" y1="979.02" x2="130.95" y2="979.02" stroke="#000" stroke-width="3.2"/>
<line x1="751.1" y1="979.02" x2="744.85" y2="979.02" stroke="#000" stroke-width="3.2"/>
<line x1="124.7" y1="975.55" x2="130.95" y2="975.55" stroke="#000" stroke-width="3.2"/>
<line x1="751.1" y1="975.55" x2="744.85" y2="975.55" stroke="#000" stroke-width="3.2"/>
<line x1="124.7" y1="972.45" x2="136.1" y2="972.45" stroke="#000" stroke-width="3.2"/>
<line x1="751.1" y1="972.45" x2="739.7" y2="972.45" stroke="#000" stroke-width="3.2"/>
<line x1="124.7" y1="952.06" x2="130.95" y2="952.06" stroke="#000" stroke-width="3.2"/>
<line x1="751.1" y1="952.06" x2="744.85" y2="952.06" stroke="#000" stroke-width="3.2"/>
<line x1="124.7" y1="940.13" x2="130.95" y2="940.13" stroke="#000" stroke-width="3.2"/>
<line x1="751.1" y1="940.13" x2="744.85" y2="940.13" stroke="#000" stroke-width="3.2"/>
<line x1="124.7" y1="931.66" x2="130.95" y2="931.66" stroke="#000" stroke-width="3.2"/>
<line x1="751.1" y1="931.66" x2="744.85" y2="931.66" stroke="#000" stroke-width="3.2"/>
<line x1="124.7" y1="925.09" x2="130.95" y2="925.09" stroke="#000" stroke-width="3.2"/>
<line x1="751.1" y1="925.09" x2="744.85" y2="925.09" stroke="#000" stroke-width="3.2"/>
<line x1="124.7" y1="919.73" x2="130.95" y2="919.73" stroke="#000" stroke-width="3.2"/>
<line x1="751.1" y1="919.73" x2="744.85" y2="919.73" stroke="#000" stroke-width="3.2"/>
<line x1="124.7" y1="915.19" x2="130.95" y2="915.19" stroke="#000" stroke-width="3.2"/>
<line x1="751.1" y1="915.19" x2="744.85" y2="915.19" stroke="#000" stroke-width="3.2"/>
<line x1="124.7" y1="911.27" x2="130.95" y2="911.27" stroke="#000" stroke-width="3.2"/>
<line x1="751.1" y1="911.27" x2="744.85" y2="911.27" stroke="#000" stroke-width="3.2"/>
<line x1="124.7" y1="907.8" x2="130.95" y2="907.8" stroke="#000" stroke-width="3.2"/>
<line x1="751.1" y1="907.8" x2="744.85" y2="907.8" stroke="#000" stroke-width="3.2"/>
<line x1="124.7" y1="904.7" x2="136.1" y2="904.7" stroke="#000" stroke-width="3.2"/>
<line x1="751.1" y1="904.7" x2="739.7" y2="904.7" stroke="#000" stroke-width="3.2"/>
<line x1="124.7" y1="884.31" x2="130.95" y2="884.31" stroke="#000" stroke-width="3.2"/>
<line x1="751.1" y1="884.31" x2="744.85" y2="884.31" stroke="#000" stroke-width="3.2"/>
<line x1="124.7" y1="872.38" x2="130.95" y2="872.38" stroke="#000" stroke-width="3.2"/>
<line x1="751.1" y1="872.38" x2="744.85" y2="872.38" stroke="#000" stroke-width="3.2"/>
<line x1="124.7" y1="863.91" x2="130.95" y2="863.91" stroke="#000" stroke-width="3.2"/>
<line x1="751.1" y1="863.91" x2="744.85" y2="863.91" stroke="#000" stroke-width="3.2"/>
<line x1="124.7" y1="857.34" x2="130.95" y2="857.34" stroke="#000" stroke-width="3.2"/>
<line x1="751.1" y1="857.34" x2="744.85" y2="857.34" stroke="#000" stroke-width="3.2"/>
<line x1="124.7" y1="851.98" x2="130.95" y2="851.98" stroke="#000" stroke-width="3.2"/>
<line x1="751.1" y1="851.98" x2="744.85" y2="851.98" stroke="#000" stroke-width="3.2"/>
<line x1="124.7" y1="847.44" x2="130.95" y2="847.44" stroke="#000" stroke-width="3.2"/>
<line x1="751.1" y1="847.44" x2="744.85" y2="847.44" stroke="#000" stroke-width="3.2"/>
<line x1="124.7" y1="843.52" x2="130.95" y2="843.52" stroke="#000" stroke-width="3.2"/>
<line x1="751.1" y1="843.52" x2="744.85" y2="843.52" stroke="#000" stroke-width="3.2"/>
<line x1="124.7" y1="840.05" x2="130.95" y2="840.05" stroke="#000" stroke-width="3.2"/>
<line x1="751.1" y1="840.05" x2="744.85" y2="840.05" stroke="#000" stroke-width="3.2"/>
<line x1="124.7" y1="836.95" x2="136.1" y2="836.95" stroke="#000" stroke-width="3.2"/>
<line x1="751.1" y1="836.95" x2="739.7" y2="836.95" stroke="#000" stroke-width="3.2"/>
<line x1="124.7" y1="816.56" x2="130.95" y2="816.56" stroke="#000" stroke-width="3.2"/>
<line x1="751.1" y1="816.56" x2="744.85" y2="816.56" stroke="#000" stroke-width="3.2"/>
<line x1="124.7" y1="804.63" x2="130.95" y2="804.63" stroke="#000" stroke-width="3.2"/>
<line x1="751.1" y1="804.63" x2="744.85" y2="804.63" stroke="#000" stroke-width="3.2"/>
<line x1="124.7" y1="796.16" x2="130.95" y2="796.16" stroke="#000" stroke-width="3.2"/>
<line x1="751.1" y1="796.16" x2="744.85" y2="796.16" stroke="#000" stroke-width="3.2"/>
<line x1="124.7" y1="789.59" x2="130.95" y2="789.59" stroke="#000" stroke-width="3.2"/>
<line x1="751.1" y1="789.59" x2="744.85" y2="789.59" stroke="#000" stroke-width="3.2"/>
<line x1="124.7" y1="784.23" x2="130.95" y2="784.23" stroke="#000" stroke-width="3.2"/>
<line x1="751.1" y1="784.23" x2="744.85" y2="784.23" stroke="#000" stroke-width="3.2"/>
<line x1="124.7" y1="779.69" x2="130.95" y2="779.69" stroke="#000" stroke-width="3.2"/>
<line x1="751.1" y1="779.69" x2="744.85" y2="779.69" stroke="#000" stroke-width="3.2"/>
<line x1="124.7" y1="775.77" x2="130.95" y2="775.77" stroke="#000" stroke-width="3.2"/>
<line x1="751.1" y1="775.77" x2="744.85" y2="775.77" stroke="#000" stroke-width="3.2"/>
<line x1="124.7" y1="772.3" x2="130.95" y2="772.3" stroke="#000" stroke-width="3.2"/>
<line x1="751.1" y1="772.3" x2="744.85" y2="772.3" stroke="#000" stroke-width="3.2"/>
<line x1="124.7" y1="769.2" x2="136.1" y2="769.2" stroke="#000" stroke-width="3.2"/>
<line x1="751.1" y1="769.2" x2="739.7" y2="769.2" stroke="#000" stroke-width="3.2"/>
<text x="109.6" y="780.7" font-size="29" text-anchor="end">10<tspan font-size="20.5" dy="-12.6">2</tspan></text>
<text x="109.6" y="916.2" font-size="29" text-anchor="end">10<tspan font-size="20.5" dy="-12.6">0</tspan></text>
<text x="109.6" y="1051.7" font-size="29" text-anchor="end">10<tspan font-size="20.5" dy="-12.6">&#8722;2</tspan></text>
<text x="109.6" y="1187.2" font-size="29" text-anchor="end">10<tspan font-size="20.5" dy="-12.6">&#8722;4</tspan></text>
<text transform="translate(439.1,1333) scale(1.02,1)" font-size="29" text-anchor="middle" >Voltage (V)</text>
<text transform="translate(27.6,998.4) rotate(-90) scale(0.985,1)" font-size="29" text-anchor="middle">Current density (mA cm<tspan font-size="19.5" dy="-12.5">&#8722;2</tspan><tspan dy="12.5">)</tspan></text>
<text x="3.4" y="756.6" font-size="40.5" text-anchor="start" font-weight="bold" >b</text>
<g clip-path="url(#clipb)">
<path d="M155.8,1069.7C156.5,1069.92 158.33,1071.03 160,1071C161.67,1070.97 163.73,1068.83 165.8,1069.5C167.87,1070.17 168.72,1073.83 172.4,1075C176.08,1076.17 183.25,1074.95 187.9,1076.5C192.55,1078.05 196.17,1082.23 200.3,1084.3C204.43,1086.37 209.08,1087.87 212.7,1088.9C216.32,1089.93 217.87,1088.95 222,1090.5C226.13,1092.05 232.85,1097.17 237.5,1098.2C242.15,1099.23 246.8,1096.43 249.9,1096.7C253,1096.97 253,1098.25 256.1,1099.8C259.2,1101.35 263.85,1104.45 268.5,1106C273.15,1107.55 278.83,1107.92 284,1109.1C289.17,1110.28 294.33,1111.92 299.5,1113.1C304.67,1114.28 309.83,1115.17 315,1116.2C320.17,1117.23 325.33,1118.42 330.5,1119.3C335.67,1120.18 340.82,1120.98 346,1121.5C351.18,1122.02 355.8,1122.15 361.6,1122.4C367.4,1122.65 374.4,1122.85 380.8,1123C387.2,1123.15 391.07,1122.85 400,1123.3C408.93,1123.75 426.07,1124.6 434.4,1125.7C442.73,1126.8 445.73,1128.08 450,1129.9C454.27,1131.72 457.22,1133.27 460,1136.6C462.78,1139.93 465.03,1145.75 466.7,1149.9C468.37,1154.05 469.03,1155.4 470,1161.5C470.97,1167.6 471.8,1176.77 472.5,1186.5C473.2,1196.23 473.73,1210.18 474.2,1219.9C474.67,1229.62 474.75,1246.2 475.3,1244.8C475.85,1243.4 476.72,1223.98 477.5,1211.5C478.28,1199.02 479.03,1182.38 480,1169.9C480.97,1157.42 482.33,1144.92 483.3,1136.6C484.27,1128.28 484.4,1125.1 485.8,1120C487.2,1114.9 489.62,1110.47 491.7,1106C493.78,1101.53 496.37,1097.55 498.3,1093.2C500.23,1088.85 501.35,1084.62 503.3,1079.9C505.25,1075.18 507.77,1069.62 510,1064.9C512.23,1060.18 514.87,1055.58 516.7,1051.6C518.53,1047.62 519.45,1044.77 521,1041C522.55,1037.23 523.13,1036.5 526,1029C528.87,1021.5 535.26,1003.83 538.2,996C541.14,988.17 541.74,986.58 543.61,982C545.49,977.42 547.34,973.33 549.46,968.5C551.59,963.67 554.03,958.07 556.35,953C558.67,947.93 561.08,943.1 563.36,938.1C565.65,933.1 567.6,928.03 570.06,923C572.51,917.97 575.4,912.73 578.1,907.9C580.8,903.07 583.5,898.48 586.25,894C589,889.52 591.92,885 594.61,881C597.3,877 599.81,873.63 602.4,870C604.99,866.37 606.42,863.7 610.15,859.2C613.88,854.7 619.68,848.32 624.77,843C629.86,837.68 635.47,832.47 640.7,827.3C645.94,822.13 650.96,817.03 656.19,812C661.43,806.97 665.75,802.38 672.11,797.1C678.48,791.82 687.19,785.07 694.39,780.3C701.6,775.53 711.85,770.47 715.34,768.5" fill="none" stroke="#000" stroke-width="4.6" stroke-linejoin="round" stroke-linecap="butt"/>
<path d="M155.7,1063.2C156.42,1063.1 156.7,1062.03 160,1062.6C163.3,1063.17 170.33,1065.32 175.5,1066.6C180.67,1067.88 185.83,1069.27 191,1070.3C196.17,1071.33 201.33,1071.87 206.5,1072.8C211.67,1073.73 217.87,1075.53 222,1075.9C226.13,1076.27 228.2,1074.8 231.3,1075C234.4,1075.2 236.98,1076.43 240.6,1077.1C244.22,1077.77 248.35,1078.32 253,1079C257.65,1079.68 260.75,1080.48 268.5,1081.2C276.25,1081.92 289.17,1082.63 299.5,1083.3C309.83,1083.97 320.15,1084.63 330.5,1085.2C340.85,1085.77 353.22,1086.45 361.6,1086.7C369.98,1086.95 374.4,1086.58 380.8,1086.7C387.2,1086.82 390.13,1086.87 400,1087.4C409.87,1087.93 430.55,1088.93 440,1089.9C449.45,1090.87 451.7,1091.53 456.7,1093.2C461.7,1094.87 466.4,1097.4 470,1099.9C473.6,1102.4 476.08,1104.87 478.3,1108.2C480.52,1111.53 482.05,1115.45 483.3,1119.9C484.55,1124.35 485.1,1129.9 485.8,1134.9C486.5,1139.9 486.52,1151.02 487.5,1149.9C488.48,1148.78 490.32,1135.98 491.7,1128.2C493.08,1120.42 494.28,1110.68 495.8,1103.2C497.32,1095.72 498.98,1089.4 500.8,1083.3C502.62,1077.2 504.62,1071.6 506.7,1066.6C508.78,1061.6 511.25,1057.57 513.3,1053.3C515.35,1049.03 517.22,1044.88 519,1041C520.78,1037.12 520.88,1037.5 524,1030C527.12,1022.5 534.51,1004 537.7,996C540.89,988 541.24,986.58 543.11,982C544.99,977.42 546.84,973.33 548.96,968.5C551.09,963.67 553.53,958.07 555.85,953C558.17,947.93 560.58,943.1 562.86,938.1C565.15,933.1 567.1,928.03 569.56,923C572.01,917.97 574.9,912.73 577.6,907.9C580.3,903.07 583,898.48 585.75,894C588.5,889.52 591.42,885 594.11,881C596.8,877 599.31,873.63 601.9,870C604.49,866.37 605.92,863.7 609.65,859.2C613.38,854.7 619.18,848.32 624.27,843C629.36,837.68 634.97,832.47 640.2,827.3C645.44,822.13 650.46,817.03 655.69,812C660.93,806.97 665.25,802.38 671.61,797.1C677.98,791.82 686.69,785.07 693.89,780.3C701.1,775.53 711.35,770.47 714.84,768.5" fill="none" stroke="#f00" stroke-width="4.6" stroke-linejoin="round" stroke-linecap="butt"/>
<path d="M156,1044.4C156.67,1044.33 154.17,1043.4 160,1044C165.83,1044.6 180.67,1046.97 191,1048C201.33,1049.03 209.08,1049.58 222,1050.2C234.92,1050.82 253,1051.35 268.5,1051.7C284,1052.05 296.28,1052.03 315,1052.3C333.72,1052.57 366.63,1053.1 380.8,1053.3C394.97,1053.5 390.13,1052.82 400,1053.5C409.87,1054.18 430.55,1056.47 440,1057.4C449.45,1058.33 451.15,1057.85 456.7,1059.1C462.25,1060.35 468.03,1062.53 473.3,1064.9C478.57,1067.27 484.68,1069.97 488.3,1073.3C491.92,1076.63 493.47,1079.92 495,1084.9C496.53,1089.88 496.8,1095.98 497.5,1103.2C498.2,1110.42 498.65,1119.58 499.2,1128.2C499.75,1136.82 500.25,1156.28 500.8,1154.9C501.35,1153.52 501.67,1131.28 502.5,1119.9C503.33,1108.52 504.55,1096.32 505.8,1086.6C507.05,1076.88 508.6,1067.98 510,1061.6C511.4,1055.22 512.7,1052.73 514.2,1048.3C515.7,1043.87 517.53,1039.05 519,1035C520.47,1030.95 521.54,1027.67 523,1024C524.46,1020.33 525.81,1017.67 527.78,1013C529.74,1008.33 532.84,1001.17 534.8,996C536.76,990.83 537.77,986.58 539.56,982C541.34,977.42 543.35,973.33 545.53,968.5C547.7,963.67 550.16,958.07 552.59,953C555.03,947.93 557.67,943.1 560.13,938.1C562.59,933.1 564.77,928.03 567.35,923C569.93,917.97 572.87,912.73 575.6,907.9C578.33,903.07 581,898.48 583.75,894C586.5,889.52 589.41,885 592.11,881C594.8,877 597.29,873.63 599.93,870C602.56,866.37 604.1,863.7 607.94,859.2C611.77,854.7 617.74,848.32 622.95,843C628.17,837.68 633.91,832.47 639.23,827.3C644.54,822.13 649.56,817.03 654.84,812C660.11,806.97 664.47,802.38 670.88,797.1C677.29,791.82 686.05,785.07 693.29,780.3C700.54,775.53 710.83,770.47 714.33,768.5" fill="none" stroke="#00f" stroke-width="4.6" stroke-linejoin="round" stroke-linecap="butt"/>
<path d="M156,999.8C156.67,999.7 151.58,999.4 160,999.2C168.42,999 188.42,998.85 206.5,998.6C224.58,998.35 250.42,998.12 268.5,997.7C286.58,997.28 296.28,996.1 315,996.1C333.72,996.1 366.63,997.38 380.8,997.7C394.97,998.02 391.07,997.5 400,998C408.93,998.5 424.95,999.53 434.4,1000.7C443.85,1001.87 450.22,1003.32 456.7,1005C463.18,1006.68 468.03,1008.58 473.3,1010.8C478.57,1013.02 484.13,1015.67 488.3,1018.3C492.47,1020.93 495.65,1023 498.3,1026.6C500.95,1030.2 502.8,1035.45 504.2,1039.9C505.6,1044.35 505.87,1046.9 506.7,1053.3C507.53,1059.7 508.52,1067.2 509.2,1078.3C509.88,1089.4 510.25,1106.3 510.8,1119.9C511.35,1133.5 511.93,1159.9 512.5,1159.9C513.07,1159.9 513.65,1132.12 514.2,1119.9C514.75,1107.68 515.25,1096.03 515.8,1086.6C516.35,1077.17 516.85,1070.23 517.5,1063.3C518.15,1056.37 518.87,1050.55 519.7,1045C520.53,1039.45 521.21,1035.33 522.5,1030C523.79,1024.67 525.53,1018.67 527.45,1013C529.37,1007.33 532.14,1001.17 534,996C535.86,990.83 536.92,986.58 538.6,982C540.28,977.42 542.03,973.33 544.05,968.5C546.08,963.67 548.36,958.07 550.76,953C553.15,947.93 555.92,943.1 558.43,938.1C560.94,933.1 563.2,928.03 565.79,923C568.39,917.97 571.3,912.73 574,907.9C576.7,903.07 579.3,898.48 582,894C584.7,889.52 587.56,885 590.22,881C592.88,877 595.28,873.63 597.95,870C600.62,866.37 602.28,863.7 606.22,859.2C610.17,854.7 616.3,848.32 621.63,843C626.97,837.68 632.86,832.47 638.25,827.3C643.64,822.13 648.67,817.03 653.98,812C659.3,806.97 663.69,802.38 670.14,797.1C676.59,791.82 685.41,785.07 692.69,780.3C699.98,775.53 710.31,770.47 713.83,768.5" fill="none" stroke="#f0f" stroke-width="4.6" stroke-linejoin="round" stroke-linecap="butt"/>
<path d="M154.7,952.8C155.58,952.78 151.37,952.45 160,952.7C168.63,952.95 191,953.78 206.5,954.3C222,954.82 242.67,955.55 253,955.8C263.33,956.05 260.75,955.8 268.5,955.8C276.25,955.8 289.17,956.32 299.5,955.8C309.83,955.28 320.15,953.83 330.5,952.7C340.85,951.57 353.22,949.25 361.6,949C369.98,948.75 374.4,951.1 380.8,951.2C387.2,951.3 391.07,949.18 400,949.6C408.93,950.02 424.95,951.63 434.4,953.7C443.85,955.77 450.22,959.02 456.7,962C463.18,964.98 468.17,968.05 473.3,971.6C478.43,975.15 483.97,981.02 487.5,983.3C491.03,985.58 491.97,983.15 494.5,985.3C497.03,987.45 500.43,991.98 502.7,996.2C504.97,1000.42 506.3,1004.57 508.1,1010.6C509.9,1016.63 512.1,1026 513.5,1032.4C514.9,1038.8 515.6,1044.18 516.5,1049C517.4,1053.82 518.12,1061.47 518.9,1061.3C519.68,1061.13 520.58,1051.32 521.2,1048C521.82,1044.68 521.64,1047.23 522.6,1041.4C523.56,1035.57 525.71,1020.57 526.97,1013C528.23,1005.43 528.9,1001.17 530.15,996C531.4,990.83 532.58,986.58 534.45,982C536.33,977.42 539.14,973.33 541.4,968.5C543.66,963.67 545.65,958.07 548.01,953C550.37,947.93 553.11,943.1 555.58,938.1C558.05,933.1 560.26,928.03 562.83,923C565.41,917.97 568.31,912.73 571,907.9C573.7,903.07 576.3,898.48 579,894C581.7,889.52 584.55,885 587.22,881C589.88,877 592.26,873.63 594.98,870C597.69,866.37 599.46,863.7 603.51,859.2C607.57,854.7 613.85,848.32 619.32,843C624.78,837.68 630.8,832.47 636.31,827.3C641.83,822.13 646.98,817.03 652.42,812C657.86,806.97 662.36,802.38 668.94,797.1C675.52,791.82 684.5,785.07 691.9,780.3C699.29,775.53 709.75,770.47 713.32,768.5" fill="none" stroke="#008000" stroke-width="4.6" stroke-linejoin="round" stroke-linecap="butt"/>
<path d="M156.2,922.2C156.83,922.12 151.62,921.93 160,921.7C168.38,921.47 191,920.7 206.5,920.8C222,920.9 242.92,921.88 253,922.3C263.08,922.72 261.83,922.98 267,923.3C272.17,923.62 273.42,923.17 284,924.2C294.58,925.23 316.02,927.85 330.5,929.5C344.98,931.15 362.52,933.23 370.9,934.1C379.28,934.97 377.58,934.58 380.8,934.7C384.02,934.82 387.37,934.85 390.2,934.8C393.03,934.75 396.27,934.77 397.8,934.4C399.33,934.03 396.53,932.97 399.4,932.6C402.27,932.23 409.82,932.33 415,932.2C420.18,932.07 427.37,931.58 430.5,931.8C433.63,932.02 432.55,932.1 433.8,933.5C435.05,934.9 435.48,938.8 438,940.2C440.52,941.6 445.82,941.77 448.9,941.9C451.98,942.03 454.82,940.72 456.5,941C458.18,941.28 457.62,942.47 459,943.6C460.38,944.73 462.83,946.4 464.8,947.8C466.77,949.2 468.13,950.18 470.8,952C473.47,953.82 477.97,956.95 480.8,958.7C483.63,960.45 485.37,960.78 487.8,962.5C490.23,964.22 492.77,965.65 495.4,969C498.03,972.35 501.18,977.32 503.6,982.6C506.02,987.88 507.95,994.67 509.9,1000.7C511.85,1006.73 513.95,1013.52 515.3,1018.8C516.65,1024.08 517.4,1027.88 518,1032.4C518.6,1036.92 518.18,1046.3 518.9,1045.9C519.62,1045.5 521.37,1035.48 522.3,1030C523.23,1024.52 523.75,1018.67 524.5,1013C525.25,1007.33 525.88,1001.17 526.8,996C527.72,990.83 528.63,986.58 530,982C531.37,977.42 533,973.33 535,968.5C537,963.67 539.43,958.07 542,953C544.57,947.93 547.65,943.1 550.4,938.1C553.15,933.1 555.7,928.03 558.5,923C561.3,917.97 564.37,912.73 567.2,907.9C570.03,903.07 572.7,898.48 575.5,894C578.3,889.52 581.25,885 584,881C586.75,877 589.2,873.63 592,870C594.8,866.37 596.63,863.7 600.8,859.2C604.97,854.7 611.4,848.32 617,843C622.6,837.68 628.73,832.47 634.4,827.3C640.07,822.13 645.4,817.03 651,812C656.6,806.97 661.25,802.38 668,797.1C674.75,791.82 683.95,785.07 691.5,780.3C699.05,775.53 709.67,770.47 713.3,768.5" fill="none" stroke="#000080" stroke-width="4.6" stroke-linejoin="round" stroke-linecap="butt"/>
<rect x="148.7" y="1062.46" width="14.6" height="14.6" fill="#fff" stroke="#000" stroke-width="4.7"/>
<rect x="261" y="1098.6" width="14.6" height="14.6" fill="#fff" stroke="#000" stroke-width="4.7"/>
<rect x="373.5" y="1115.7" width="14.6" height="14.6" fill="#fff" stroke="#000" stroke-width="4.7"/>
<rect x="478.5" y="1111.2" width="14.6" height="14.6" fill="#fff" stroke="#000" stroke-width="4.7"/>
<rect x="593.5" y="864.96" width="14.6" height="14.6" fill="#fff" stroke="#000" stroke-width="4.7"/>
<rect x="706" y="764.2" width="14.6" height="14.6" fill="#fff" stroke="#000" stroke-width="4.7"/>
<circle cx="156" cy="1063.16" r="8.3" fill="#fff" stroke="#f00" stroke-width="4.6"/>
<circle cx="268.3" cy="1081.17" r="8.3" fill="#fff" stroke="#f00" stroke-width="4.6"/>
<circle cx="380.8" cy="1086.7" r="8.3" fill="#fff" stroke="#f00" stroke-width="4.6"/>
<circle cx="487.5" cy="1149.9" r="8.3" fill="#fff" stroke="#f00" stroke-width="4.6"/>
<circle cx="600.8" cy="871.56" r="8.3" fill="#fff" stroke="#f00" stroke-width="4.6"/>
<circle cx="713.3" cy="771" r="8.3" fill="#fff" stroke="#f00" stroke-width="4.6"/>
<path d="M156,1027.4 L170.3,1052.9 L141.7,1052.9Z" fill="#00f"/><path d="M156,1037.5 L162.2,1047.9 L149.8,1047.9Z" fill="#fff"/>
<path d="M268.3,1034.69 L282.6,1060.19 L254,1060.19Z" fill="#00f"/><path d="M268.3,1044.79 L274.5,1055.19 L262.1,1055.19Z" fill="#fff"/>
<path d="M380.8,1036.3 L395.1,1061.8 L366.5,1061.8Z" fill="#00f"/><path d="M380.8,1046.4 L387,1056.8 L374.6,1056.8Z" fill="#fff"/>
<path d="M487.8,1056.02 L502.1,1081.52 L473.5,1081.52Z" fill="#00f"/><path d="M487.8,1066.12 L494,1076.52 L481.6,1076.52Z" fill="#fff"/>
<path d="M600.8,851.82 L615.1,877.32 L586.5,877.32Z" fill="#00f"/><path d="M600.8,861.92 L607,872.32 L594.6,872.32Z" fill="#fff"/>
<path d="M713.3,753.5 L727.6,779 L699,779Z" fill="#00f"/><path d="M713.3,763.6 L719.5,774 L707.1,774Z" fill="#fff"/>
<path d="M156,1016.8 L170.3,991.3 L141.7,991.3Z" fill="#f0f"/><path d="M156,1006.7 L162.2,996.3 L149.8,996.3Z" fill="#fff"/>
<path d="M268.3,1014.7 L282.6,989.2 L254,989.2Z" fill="#f0f"/><path d="M268.3,1004.6 L274.5,994.2 L262.1,994.2Z" fill="#fff"/>
<path d="M380.8,1014.7 L395.1,989.2 L366.5,989.2Z" fill="#f0f"/><path d="M380.8,1004.6 L387,994.2 L374.6,994.2Z" fill="#fff"/>
<path d="M487.8,1035.05 L502.1,1009.55 L473.5,1009.55Z" fill="#f0f"/><path d="M487.8,1024.95 L494,1014.55 L481.6,1014.55Z" fill="#fff"/>
<path d="M600.8,883.28 L615.1,857.78 L586.5,857.78Z" fill="#f0f"/><path d="M600.8,873.18 L607,862.78 L594.6,862.78Z" fill="#fff"/>
<path d="M713.3,786.5 L727.6,761 L699,761Z" fill="#f0f"/><path d="M713.3,776.4 L719.5,766 L707.1,766Z" fill="#fff"/>
<path d="M156,938.58 L168.6,952.78 L156,966.98 L143.4,952.78Z" fill="#008000"/><path d="M156,945.58 L163.2,952.78 L156,959.98 L148.8,952.78Z" fill="#fff"/>
<path d="M268.3,941.6 L280.9,955.8 L268.3,970 L255.7,955.8Z" fill="#008000"/><path d="M268.3,948.6 L275.5,955.8 L268.3,963 L261.1,955.8Z" fill="#fff"/>
<path d="M380.8,937 L393.4,951.2 L380.8,965.4 L368.2,951.2Z" fill="#008000"/><path d="M380.8,944 L388,951.2 L380.8,958.4 L373.6,951.2Z" fill="#fff"/>
<path d="M487.8,969.19 L500.4,983.39 L487.8,997.59 L475.2,983.39Z" fill="#008000"/><path d="M487.8,976.19 L495,983.39 L487.8,990.59 L480.6,983.39Z" fill="#fff"/>
<path d="M600.8,848.43 L613.4,862.63 L600.8,876.83 L588.2,862.63Z" fill="#008000"/><path d="M600.8,855.43 L608,862.63 L600.8,869.83 L593.6,862.63Z" fill="#fff"/>
<path d="M713.3,754.8 L725.9,769 L713.3,783.2 L700.7,769Z" fill="#008000"/><path d="M713.3,761.8 L720.5,769 L713.3,776.2 L706.1,769Z" fill="#fff"/>
<path d="M139,922.2 L164.5,936.5 L164.5,907.9Z" fill="#000080"/><path d="M149.1,922.2 L159.5,928.4 L159.5,916Z" fill="#fff"/>
<path d="M251.3,923.37 L276.8,937.67 L276.8,909.07Z" fill="#000080"/><path d="M261.4,923.37 L271.8,929.57 L271.8,917.17Z" fill="#fff"/>
<path d="M363.8,934.7 L389.3,949 L389.3,920.4Z" fill="#000080"/><path d="M373.9,934.7 L384.3,940.9 L384.3,928.5Z" fill="#fff"/>
<path d="M470.8,962.5 L496.3,976.8 L496.3,948.2Z" fill="#000080"/><path d="M480.9,962.5 L491.3,968.7 L491.3,956.3Z" fill="#fff"/>
<path d="M583.8,859.2 L609.3,873.5 L609.3,844.9Z" fill="#000080"/><path d="M593.9,859.2 L604.3,865.4 L604.3,853Z" fill="#fff"/>
<path d="M696.3,768.5 L721.8,782.8 L721.8,754.2Z" fill="#000080"/><path d="M706.4,768.5 L716.8,774.7 L716.8,762.3Z" fill="#fff"/>
</g>
<line x1="520" y1="1068.6" x2="578" y2="1068.6" stroke="#000" stroke-width="4.6"/>
<rect x="541.5" y="1061.3" width="14.6" height="14.6" fill="#fff" stroke="#000" stroke-width="4.7"/>
<text x="589.2" y="1076" font-size="20.7">0.022 mW cm<tspan font-size="13" dy="-8.3">&#8722;2</tspan></text>
<line x1="520" y1="1101.55" x2="578" y2="1101.55" stroke="#f00" stroke-width="4.6"/>
<circle cx="548.8" cy="1101.55" r="8.3" fill="#fff" stroke="#f00" stroke-width="4.6"/>
<text x="589.2" y="1108.95" font-size="20.7">0.046 mW cm<tspan font-size="13" dy="-8.3">&#8722;2</tspan></text>
<line x1="520" y1="1134.5" x2="578" y2="1134.5" stroke="#00f" stroke-width="4.6"/>
<path d="M548.8,1117.5 L563.1,1143 L534.5,1143Z" fill="#00f"/><path d="M548.8,1127.6 L555,1138 L542.6,1138Z" fill="#fff"/>
<text x="589.2" y="1141.9" font-size="20.7">0.154 mW cm<tspan font-size="13" dy="-8.3">&#8722;2</tspan></text>
<line x1="520" y1="1167.45" x2="578" y2="1167.45" stroke="#f0f" stroke-width="4.6"/>
<path d="M548.8,1184.45 L563.1,1158.95 L534.5,1158.95Z" fill="#f0f"/><path d="M548.8,1174.35 L555,1163.95 L542.6,1163.95Z" fill="#fff"/>
<text x="589.2" y="1174.85" font-size="20.7">1.527 mW cm<tspan font-size="13" dy="-8.3">&#8722;2</tspan></text>
<line x1="520" y1="1200.4" x2="578" y2="1200.4" stroke="#008000" stroke-width="4.6"/>
<path d="M548.8,1186.2 L561.4,1200.4 L548.8,1214.6 L536.2,1200.4Z" fill="#008000"/><path d="M548.8,1193.2 L556,1200.4 L548.8,1207.6 L541.6,1200.4Z" fill="#fff"/>
<text x="589.2" y="1207.8" font-size="20.7">15.49 mW cm<tspan font-size="13" dy="-8.3">&#8722;2</tspan></text>
<line x1="520" y1="1233.35" x2="578" y2="1233.35" stroke="#000080" stroke-width="4.6"/>
<path d="M531.8,1233.35 L557.3,1247.65 L557.3,1219.05Z" fill="#000080"/><path d="M541.9,1233.35 L552.3,1239.55 L552.3,1227.15Z" fill="#fff"/>
<text x="589.2" y="1240.75" font-size="20.7">104.2 mW cm<tspan font-size="13" dy="-8.3">&#8722;2</tspan></text>
<rect x="124.6" y="1381.5" width="626.4" height="510.3" fill="none" stroke="#000" stroke-width="3.2" stroke-linejoin="miter"/>
<line x1="154" y1="1891.8" x2="154" y2="1880.4" stroke="#000" stroke-width="3.2"/>
<line x1="154" y1="1381.5" x2="154" y2="1392.9" stroke="#000" stroke-width="3.2"/>
<text x="156.5" y="1928.7" font-size="29" text-anchor="middle" >0</text>
<line x1="353" y1="1891.8" x2="353" y2="1880.4" stroke="#000" stroke-width="3.2"/>
<line x1="353" y1="1381.5" x2="353" y2="1392.9" stroke="#000" stroke-width="3.2"/>
<text x="353.5" y="1928.7" font-size="29" text-anchor="middle" >100</text>
<line x1="552" y1="1891.8" x2="552" y2="1880.4" stroke="#000" stroke-width="3.2"/>
<line x1="552" y1="1381.5" x2="552" y2="1392.9" stroke="#000" stroke-width="3.2"/>
<text x="552.5" y="1928.7" font-size="29" text-anchor="middle" >200</text>
<line x1="751" y1="1891.8" x2="751" y2="1880.4" stroke="#000" stroke-width="3.2"/>
<line x1="751" y1="1381.5" x2="751" y2="1392.9" stroke="#000" stroke-width="3.2"/>
<text x="751.5" y="1928.7" font-size="29" text-anchor="middle" >300</text>
<line x1="253.5" y1="1891.8" x2="253.5" y2="1885.55" stroke="#000" stroke-width="3.2"/>
<line x1="253.5" y1="1381.5" x2="253.5" y2="1387.75" stroke="#000" stroke-width="3.2"/>
<line x1="452.5" y1="1891.8" x2="452.5" y2="1885.55" stroke="#000" stroke-width="3.2"/>
<line x1="452.5" y1="1381.5" x2="452.5" y2="1387.75" stroke="#000" stroke-width="3.2"/>
<line x1="651.5" y1="1891.8" x2="651.5" y2="1885.55" stroke="#000" stroke-width="3.2"/>
<line x1="651.5" y1="1381.5" x2="651.5" y2="1387.75" stroke="#000" stroke-width="3.2"/>
<line x1="124.6" y1="1891.9" x2="136" y2="1891.9" stroke="#000" stroke-width="3.2"/>
<line x1="751" y1="1891.9" x2="739.6" y2="1891.9" stroke="#000" stroke-width="3.2"/>
<line x1="124.6" y1="1843.49" x2="130.85" y2="1843.49" stroke="#000" stroke-width="3.2"/>
<line x1="751" y1="1843.49" x2="744.75" y2="1843.49" stroke="#000" stroke-width="3.2"/>
<line x1="124.6" y1="1815.18" x2="130.85" y2="1815.18" stroke="#000" stroke-width="3.2"/>
<line x1="751" y1="1815.18" x2="744.75" y2="1815.18" stroke="#000" stroke-width="3.2"/>
<line x1="124.6" y1="1795.09" x2="130.85" y2="1795.09" stroke="#000" stroke-width="3.2"/>
<line x1="751" y1="1795.09" x2="744.75" y2="1795.09" stroke="#000" stroke-width="3.2"/>
<line x1="124.6" y1="1779.51" x2="130.85" y2="1779.51" stroke="#000" stroke-width="3.2"/>
<line x1="751" y1="1779.51" x2="744.75" y2="1779.51" stroke="#000" stroke-width="3.2"/>
<line x1="124.6" y1="1766.77" x2="130.85" y2="1766.77" stroke="#000" stroke-width="3.2"/>
<line x1="751" y1="1766.77" x2="744.75" y2="1766.77" stroke="#000" stroke-width="3.2"/>
<line x1="124.6" y1="1756.01" x2="130.85" y2="1756.01" stroke="#000" stroke-width="3.2"/>
<line x1="751" y1="1756.01" x2="744.75" y2="1756.01" stroke="#000" stroke-width="3.2"/>
<line x1="124.6" y1="1746.68" x2="130.85" y2="1746.68" stroke="#000" stroke-width="3.2"/>
<line x1="751" y1="1746.68" x2="744.75" y2="1746.68" stroke="#000" stroke-width="3.2"/>
<line x1="124.6" y1="1738.46" x2="130.85" y2="1738.46" stroke="#000" stroke-width="3.2"/>
<line x1="751" y1="1738.46" x2="744.75" y2="1738.46" stroke="#000" stroke-width="3.2"/>
<line x1="124.6" y1="1731.1" x2="136" y2="1731.1" stroke="#000" stroke-width="3.2"/>
<line x1="751" y1="1731.1" x2="739.6" y2="1731.1" stroke="#000" stroke-width="3.2"/>
<line x1="124.6" y1="1682.69" x2="130.85" y2="1682.69" stroke="#000" stroke-width="3.2"/>
<line x1="751" y1="1682.69" x2="744.75" y2="1682.69" stroke="#000" stroke-width="3.2"/>
<line x1="124.6" y1="1654.38" x2="130.85" y2="1654.38" stroke="#000" stroke-width="3.2"/>
<line x1="751" y1="1654.38" x2="744.75" y2="1654.38" stroke="#000" stroke-width="3.2"/>
<line x1="124.6" y1="1634.29" x2="130.85" y2="1634.29" stroke="#000" stroke-width="3.2"/>
<line x1="751" y1="1634.29" x2="744.75" y2="1634.29" stroke="#000" stroke-width="3.2"/>
<line x1="124.6" y1="1618.71" x2="130.85" y2="1618.71" stroke="#000" stroke-width="3.2"/>
<line x1="751" y1="1618.71" x2="744.75" y2="1618.71" stroke="#000" stroke-width="3.2"/>
<line x1="124.6" y1="1605.97" x2="130.85" y2="1605.97" stroke="#000" stroke-width="3.2"/>
<line x1="751" y1="1605.97" x2="744.75" y2="1605.97" stroke="#000" stroke-width="3.2"/>
<line x1="124.6" y1="1595.21" x2="130.85" y2="1595.21" stroke="#000" stroke-width="3.2"/>
<line x1="751" y1="1595.21" x2="744.75" y2="1595.21" stroke="#000" stroke-width="3.2"/>
<line x1="124.6" y1="1585.88" x2="130.85" y2="1585.88" stroke="#000" stroke-width="3.2"/>
<line x1="751" y1="1585.88" x2="744.75" y2="1585.88" stroke="#000" stroke-width="3.2"/>
<line x1="124.6" y1="1577.66" x2="130.85" y2="1577.66" stroke="#000" stroke-width="3.2"/>
<line x1="751" y1="1577.66" x2="744.75" y2="1577.66" stroke="#000" stroke-width="3.2"/>
<line x1="124.6" y1="1570.3" x2="136" y2="1570.3" stroke="#000" stroke-width="3.2"/>
<line x1="751" y1="1570.3" x2="739.6" y2="1570.3" stroke="#000" stroke-width="3.2"/>
<line x1="124.6" y1="1521.89" x2="130.85" y2="1521.89" stroke="#000" stroke-width="3.2"/>
<line x1="751" y1="1521.89" x2="744.75" y2="1521.89" stroke="#000" stroke-width="3.2"/>
<line x1="124.6" y1="1493.58" x2="130.85" y2="1493.58" stroke="#000" stroke-width="3.2"/>
<line x1="751" y1="1493.58" x2="744.75" y2="1493.58" stroke="#000" stroke-width="3.2"/>
<line x1="124.6" y1="1473.49" x2="130.85" y2="1473.49" stroke="#000" stroke-width="3.2"/>
<line x1="751" y1="1473.49" x2="744.75" y2="1473.49" stroke="#000" stroke-width="3.2"/>
<line x1="124.6" y1="1457.91" x2="130.85" y2="1457.91" stroke="#000" stroke-width="3.2"/>
<line x1="751" y1="1457.91" x2="744.75" y2="1457.91" stroke="#000" stroke-width="3.2"/>
<line x1="124.6" y1="1445.17" x2="130.85" y2="1445.17" stroke="#000" stroke-width="3.2"/>
<line x1="751" y1="1445.17" x2="744.75" y2="1445.17" stroke="#000" stroke-width="3.2"/>
<line x1="124.6" y1="1434.41" x2="130.85" y2="1434.41" stroke="#000" stroke-width="3.2"/>
<line x1="751" y1="1434.41" x2="744.75" y2="1434.41" stroke="#000" stroke-width="3.2"/>
<line x1="124.6" y1="1425.08" x2="130.85" y2="1425.08" stroke="#000" stroke-width="3.2"/>
<line x1="751" y1="1425.08" x2="744.75" y2="1425.08" stroke="#000" stroke-width="3.2"/>
<line x1="124.6" y1="1416.86" x2="130.85" y2="1416.86" stroke="#000" stroke-width="3.2"/>
<line x1="751" y1="1416.86" x2="744.75" y2="1416.86" stroke="#000" stroke-width="3.2"/>
<line x1="124.6" y1="1409.5" x2="136" y2="1409.5" stroke="#000" stroke-width="3.2"/>
<line x1="751" y1="1409.5" x2="739.6" y2="1409.5" stroke="#000" stroke-width="3.2"/>
<text x="109.6" y="1421" font-size="29" text-anchor="end">10<tspan font-size="20.5" dy="-12.6">0</tspan></text>
<text x="109.6" y="1581.8" font-size="29" text-anchor="end">10<tspan font-size="20.5" dy="-12.6">&#8722;1</tspan></text>
<text x="109.6" y="1742.6" font-size="29" text-anchor="end">10<tspan font-size="20.5" dy="-12.6">&#8722;2</tspan></text>
<text x="109.6" y="1903.4" font-size="29" text-anchor="end">10<tspan font-size="20.5" dy="-12.6">&#8722;3</tspan></text>
<text transform="translate(441.2,1973.5) scale(1.025,1)" font-size="29" text-anchor="middle" >Time (ns)</text>
<text transform="translate(27.4,1659.4) rotate(-90)" font-size="29" text-anchor="middle">PL intensity (normalized)</text>
<text x="3.3" y="1388.3" font-size="42" text-anchor="start" font-weight="bold" >c</text>
<text transform="translate(203.2,1437.3) scale(1.035,1)" font-size="28.4" text-anchor="start" >Probe at 780 nm</text>
<defs><clipPath id="clipc"><rect x="126.9" y="1384" width="622.5" height="510"/></clipPath></defs>
<g clip-path="url(#clipc)">
<rect x="152.66" y="1408.28" width="5.9" height="5.9" fill="#fff" stroke="#000" stroke-width="1.85"/><rect x="154.9" y="1414.37" width="5.9" height="5.9" fill="#fff" stroke="#000" stroke-width="1.85"/><rect x="156.59" y="1419.34" width="5.9" height="5.9" fill="#fff" stroke="#000" stroke-width="1.85"/><rect x="158.62" y="1428.33" width="5.9" height="5.9" fill="#fff" stroke="#000" stroke-width="1.85"/><rect x="160.33" y="1444.46" width="5.9" height="5.9" fill="#fff" stroke="#000" stroke-width="1.85"/><rect x="162.45" y="1463.52" width="5.9" height="5.9" fill="#fff" stroke="#000" stroke-width="1.85"/><rect x="164.06" y="1470.53" width="5.9" height="5.9" fill="#fff" stroke="#000" stroke-width="1.85"/><rect x="166.41" y="1468.62" width="5.9" height="5.9" fill="#fff" stroke="#000" stroke-width="1.85"/><rect x="167.89" y="1463.84" width="5.9" height="5.9" fill="#fff" stroke="#000" stroke-width="1.85"/><rect x="169.78" y="1464.32" width="5.9" height="5.9" fill="#fff" stroke="#000" stroke-width="1.85"/><rect x="171.96" y="1484.05" width="5.9" height="5.9" fill="#fff" stroke="#000" stroke-width="1.85"/><rect x="174.03" y="1478.13" width="5.9" height="5.9" fill="#fff" stroke="#000" stroke-width="1.85"/><rect x="175.35" y="1479.51" width="5.9" height="5.9" fill="#fff" stroke="#000" stroke-width="1.85"/><rect x="177.41" y="1477.54" width="5.9" height="5.9" fill="#fff" stroke="#000" stroke-width="1.85"/><rect x="179.61" y="1498.69" width="5.9" height="5.9" fill="#fff" stroke="#000" stroke-width="1.85"/><rect x="181.04" y="1489.82" width="5.9" height="5.9" fill="#fff" stroke="#000" stroke-width="1.85"/><rect x="183.37" y="1488.9" width="5.9" height="5.9" fill="#fff" stroke="#000" stroke-width="1.85"/><rect x="184.95" y="1502.19" width="5.9" height="5.9" fill="#fff" stroke="#000" stroke-width="1.85"/><rect x="186.8" y="1508.54" width="5.9" height="5.9" fill="#fff" stroke="#000" stroke-width="1.85"/><rect x="189.12" y="1511.01" width="5.9" height="5.9" fill="#fff" stroke="#000" stroke-width="1.85"/><rect x="190.9" y="1492.89" width="5.9" height="5.9" fill="#fff" stroke="#000" stroke-width="1.85"/><rect x="192.49" y="1513.89" width="5.9" height="5.9" fill="#fff" stroke="#000" stroke-width="1.85"/><rect x="194.63" y="1504.72" width="5.9" height="5.9" fill="#fff" stroke="#000" stroke-width="1.85"/><rect x="196.21" y="1510.38" width="5.9" height="5.9" fill="#fff" stroke="#000" stroke-width="1.85"/><rect x="198.48" y="1512.91" width="5.9" height="5.9" fill="#fff" stroke="#000" stroke-width="1.85"/><rect x="200.12" y="1505.58" width="5.9" height="5.9" fill="#fff" stroke="#000" stroke-width="1.85"/><rect x="201.83" y="1506.75" width="5.9" height="5.9" fill="#fff" stroke="#000" stroke-width="1.85"/><rect x="203.98" y="1511.95" width="5.9" height="5.9" fill="#fff" stroke="#000" stroke-width="1.85"/><rect x="205.6" y="1531.21" width="5.9" height="5.9" fill="#fff" stroke="#000" stroke-width="1.85"/><rect x="207.66" y="1527.15" width="5.9" height="5.9" fill="#fff" stroke="#000" stroke-width="1.85"/><rect x="209.54" y="1516.89" width="5.9" height="5.9" fill="#fff" stroke="#000" stroke-width="1.85"/><rect x="211.3" y="1540.61" width="5.9" height="5.9" fill="#fff" stroke="#000" stroke-width="1.85"/><rect x="213.56" y="1516.89" width="5.9" height="5.9" fill="#fff" stroke="#000" stroke-width="1.85"/><rect x="215.11" y="1525.98" width="5.9" height="5.9" fill="#fff" stroke="#000" stroke-width="1.85"/><rect x="217.35" y="1530.38" width="5.9" height="5.9" fill="#fff" stroke="#000" stroke-width="1.85"/><rect x="219.28" y="1520.03" width="5.9" height="5.9" fill="#fff" stroke="#000" stroke-width="1.85"/><rect x="221" y="1531.21" width="5.9" height="5.9" fill="#fff" stroke="#000" stroke-width="1.85"/><rect x="222.73" y="1539.18" width="5.9" height="5.9" fill="#fff" stroke="#000" stroke-width="1.85"/><rect x="224.65" y="1511.32" width="5.9" height="5.9" fill="#fff" stroke="#000" stroke-width="1.85"/><rect x="226.77" y="1522.57" width="5.9" height="5.9" fill="#fff" stroke="#000" stroke-width="1.85"/><rect x="228.32" y="1545.56" width="5.9" height="5.9" fill="#fff" stroke="#000" stroke-width="1.85"/><rect x="230.24" y="1536.43" width="5.9" height="5.9" fill="#fff" stroke="#000" stroke-width="1.85"/><rect x="232.58" y="1527.95" width="5.9" height="5.9" fill="#fff" stroke="#000" stroke-width="1.85"/><rect x="234.14" y="1533.34" width="5.9" height="5.9" fill="#fff" stroke="#000" stroke-width="1.85"/><rect x="236.35" y="1529.97" width="5.9" height="5.9" fill="#fff" stroke="#000" stroke-width="1.85"/><rect x="238.18" y="1527.95" width="5.9" height="5.9" fill="#fff" stroke="#000" stroke-width="1.85"/><rect x="239.94" y="1545.56" width="5.9" height="5.9" fill="#fff" stroke="#000" stroke-width="1.85"/><rect x="241.79" y="1542.06" width="5.9" height="5.9" fill="#fff" stroke="#000" stroke-width="1.85"/><rect x="243.61" y="1534.21" width="5.9" height="5.9" fill="#fff" stroke="#000" stroke-width="1.85"/><rect x="245.53" y="1549.26" width="5.9" height="5.9" fill="#fff" stroke="#000" stroke-width="1.85"/><rect x="247.41" y="1529.15" width="5.9" height="5.9" fill="#fff" stroke="#000" stroke-width="1.85"/><rect x="249.36" y="1544.54" width="5.9" height="5.9" fill="#fff" stroke="#000" stroke-width="1.85"/><rect x="250.99" y="1540.13" width="5.9" height="5.9" fill="#fff" stroke="#000" stroke-width="1.85"/><rect x="253.43" y="1552.58" width="5.9" height="5.9" fill="#fff" stroke="#000" stroke-width="1.85"/><rect x="254.85" y="1540.13" width="5.9" height="5.9" fill="#fff" stroke="#000" stroke-width="1.85"/><rect x="256.77" y="1547.12" width="5.9" height="5.9" fill="#fff" stroke="#000" stroke-width="1.85"/><rect x="258.75" y="1552.02" width="5.9" height="5.9" fill="#fff" stroke="#000" stroke-width="1.85"/><rect x="260.7" y="1550.35" width="5.9" height="5.9" fill="#fff" stroke="#000" stroke-width="1.85"/><rect x="262.52" y="1582.64" width="5.9" height="5.9" fill="#fff" stroke="#000" stroke-width="1.85"/><rect x="264.21" y="1547.65" width="5.9" height="5.9" fill="#fff" stroke="#000" stroke-width="1.85"/><rect x="266.29" y="1550.9" width="5.9" height="5.9" fill="#fff" stroke="#000" stroke-width="1.85"/><rect x="268.05" y="1544.54" width="5.9" height="5.9" fill="#fff" stroke="#000" stroke-width="1.85"/><rect x="270.34" y="1551.46" width="5.9" height="5.9" fill="#fff" stroke="#000" stroke-width="1.85"/><rect x="272.28" y="1532.91" width="5.9" height="5.9" fill="#fff" stroke="#000" stroke-width="1.85"/><rect x="273.74" y="1549.26" width="5.9" height="5.9" fill="#fff" stroke="#000" stroke-width="1.85"/><rect x="275.94" y="1577.59" width="5.9" height="5.9" fill="#fff" stroke="#000" stroke-width="1.85"/><rect x="277.51" y="1554.31" width="5.9" height="5.9" fill="#fff" stroke="#000" stroke-width="1.85"/><rect x="279.6" y="1569.18" width="5.9" height="5.9" fill="#fff" stroke="#000" stroke-width="1.85"/><rect x="281.43" y="1564.31" width="5.9" height="5.9" fill="#fff" stroke="#000" stroke-width="1.85"/><rect x="283.43" y="1579.23" width="5.9" height="5.9" fill="#fff" stroke="#000" stroke-width="1.85"/><rect x="285.54" y="1563.64" width="5.9" height="5.9" fill="#fff" stroke="#000" stroke-width="1.85"/><rect x="287.1" y="1561.03" width="5.9" height="5.9" fill="#fff" stroke="#000" stroke-width="1.85"/><rect x="288.9" y="1570.63" width="5.9" height="5.9" fill="#fff" stroke="#000" stroke-width="1.85"/><rect x="291.04" y="1580.07" width="5.9" height="5.9" fill="#fff" stroke="#000" stroke-width="1.85"/><rect x="292.86" y="1590.98" width="5.9" height="5.9" fill="#fff" stroke="#000" stroke-width="1.85"/><rect x="294.44" y="1561.67" width="5.9" height="5.9" fill="#fff" stroke="#000" stroke-width="1.85"/><rect x="296.54" y="1580.92" width="5.9" height="5.9" fill="#fff" stroke="#000" stroke-width="1.85"/><rect x="298.43" y="1576.78" width="5.9" height="5.9" fill="#fff" stroke="#000" stroke-width="1.85"/><rect x="300.33" y="1583.52" width="5.9" height="5.9" fill="#fff" stroke="#000" stroke-width="1.85"/><rect x="302.32" y="1587.15" width="5.9" height="5.9" fill="#fff" stroke="#000" stroke-width="1.85"/><rect x="304.09" y="1563.64" width="5.9" height="5.9" fill="#fff" stroke="#000" stroke-width="1.85"/><rect x="306.3" y="1569.18" width="5.9" height="5.9" fill="#fff" stroke="#000" stroke-width="1.85"/><rect x="307.91" y="1578.41" width="5.9" height="5.9" fill="#fff" stroke="#000" stroke-width="1.85"/><rect x="310.01" y="1573.64" width="5.9" height="5.9" fill="#fff" stroke="#000" stroke-width="1.85"/><rect x="311.59" y="1601.59" width="5.9" height="5.9" fill="#fff" stroke="#000" stroke-width="1.85"/><rect x="313.51" y="1571.37" width="5.9" height="5.9" fill="#fff" stroke="#000" stroke-width="1.85"/><rect x="315.37" y="1570.63" width="5.9" height="5.9" fill="#fff" stroke="#000" stroke-width="1.85"/><rect x="317.3" y="1607.57" width="5.9" height="5.9" fill="#fff" stroke="#000" stroke-width="1.85"/><rect x="319.02" y="1586.23" width="5.9" height="5.9" fill="#fff" stroke="#000" stroke-width="1.85"/><rect x="321.06" y="1594" width="5.9" height="5.9" fill="#fff" stroke="#000" stroke-width="1.85"/><rect x="323.01" y="1576.78" width="5.9" height="5.9" fill="#fff" stroke="#000" stroke-width="1.85"/><rect x="324.78" y="1583.52" width="5.9" height="5.9" fill="#fff" stroke="#000" stroke-width="1.85"/><rect x="327.1" y="1585.31" width="5.9" height="5.9" fill="#fff" stroke="#000" stroke-width="1.85"/><rect x="328.99" y="1577.59" width="5.9" height="5.9" fill="#fff" stroke="#000" stroke-width="1.85"/><rect x="330.58" y="1587.15" width="5.9" height="5.9" fill="#fff" stroke="#000" stroke-width="1.85"/><rect x="332.66" y="1586.23" width="5.9" height="5.9" fill="#fff" stroke="#000" stroke-width="1.85"/><rect x="334.35" y="1569.9" width="5.9" height="5.9" fill="#fff" stroke="#000" stroke-width="1.85"/><rect x="336.07" y="1571.37" width="5.9" height="5.9" fill="#fff" stroke="#000" stroke-width="1.85"/><rect x="338.44" y="1596.09" width="5.9" height="5.9" fill="#fff" stroke="#000" stroke-width="1.85"/><rect x="339.89" y="1599.34" width="5.9" height="5.9" fill="#fff" stroke="#000" stroke-width="1.85"/><rect x="341.8" y="1570.63" width="5.9" height="5.9" fill="#fff" stroke="#000" stroke-width="1.85"/><rect x="343.95" y="1590.98" width="5.9" height="5.9" fill="#fff" stroke="#000" stroke-width="1.85"/><rect x="345.69" y="1590.01" width="5.9" height="5.9" fill="#fff" stroke="#000" stroke-width="1.85"/><rect x="347.52" y="1590.01" width="5.9" height="5.9" fill="#fff" stroke="#000" stroke-width="1.85"/><rect x="349.84" y="1608.83" width="5.9" height="5.9" fill="#fff" stroke="#000" stroke-width="1.85"/><rect x="351.58" y="1573.64" width="5.9" height="5.9" fill="#fff" stroke="#000" stroke-width="1.85"/><rect x="353.05" y="1605.11" width="5.9" height="5.9" fill="#fff" stroke="#000" stroke-width="1.85"/><rect x="355.08" y="1591.97" width="5.9" height="5.9" fill="#fff" stroke="#000" stroke-width="1.85"/><rect x="357.03" y="1606.33" width="5.9" height="5.9" fill="#fff" stroke="#000" stroke-width="1.85"/><rect x="359.26" y="1607.57" width="5.9" height="5.9" fill="#fff" stroke="#000" stroke-width="1.85"/><rect x="361.04" y="1606.33" width="5.9" height="5.9" fill="#fff" stroke="#000" stroke-width="1.85"/><rect x="362.54" y="1588.09" width="5.9" height="5.9" fill="#fff" stroke="#000" stroke-width="1.85"/><rect x="364.57" y="1606.33" width="5.9" height="5.9" fill="#fff" stroke="#000" stroke-width="1.85"/><rect x="366.77" y="1585.31" width="5.9" height="5.9" fill="#fff" stroke="#000" stroke-width="1.85"/><rect x="368.29" y="1602.75" width="5.9" height="5.9" fill="#fff" stroke="#000" stroke-width="1.85"/><rect x="370.46" y="1583.52" width="5.9" height="5.9" fill="#fff" stroke="#000" stroke-width="1.85"/><rect x="371.97" y="1579.23" width="5.9" height="5.9" fill="#fff" stroke="#000" stroke-width="1.85"/><rect x="374.37" y="1582.64" width="5.9" height="5.9" fill="#fff" stroke="#000" stroke-width="1.85"/><rect x="376.08" y="1596.09" width="5.9" height="5.9" fill="#fff" stroke="#000" stroke-width="1.85"/><rect x="377.99" y="1590.01" width="5.9" height="5.9" fill="#fff" stroke="#000" stroke-width="1.85"/><rect x="379.81" y="1577.59" width="5.9" height="5.9" fill="#fff" stroke="#000" stroke-width="1.85"/><rect x="381.65" y="1590.98" width="5.9" height="5.9" fill="#fff" stroke="#000" stroke-width="1.85"/><rect x="383.71" y="1598.24" width="5.9" height="5.9" fill="#fff" stroke="#000" stroke-width="1.85"/><rect x="385.74" y="1610.11" width="5.9" height="5.9" fill="#fff" stroke="#000" stroke-width="1.85"/><rect x="387.33" y="1607.57" width="5.9" height="5.9" fill="#fff" stroke="#000" stroke-width="1.85"/><rect x="389.12" y="1590.98" width="5.9" height="5.9" fill="#fff" stroke="#000" stroke-width="1.85"/><rect x="391.05" y="1597.15" width="5.9" height="5.9" fill="#fff" stroke="#000" stroke-width="1.85"/><rect x="393.29" y="1582.64" width="5.9" height="5.9" fill="#fff" stroke="#000" stroke-width="1.85"/><rect x="395.16" y="1610.11" width="5.9" height="5.9" fill="#fff" stroke="#000" stroke-width="1.85"/><rect x="397.11" y="1601.59" width="5.9" height="5.9" fill="#fff" stroke="#000" stroke-width="1.85"/><rect x="398.64" y="1589.04" width="5.9" height="5.9" fill="#fff" stroke="#000" stroke-width="1.85"/><rect x="400.31" y="1602.75" width="5.9" height="5.9" fill="#fff" stroke="#000" stroke-width="1.85"/><rect x="402.75" y="1622.85" width="5.9" height="5.9" fill="#fff" stroke="#000" stroke-width="1.85"/><rect x="404.13" y="1611.41" width="5.9" height="5.9" fill="#fff" stroke="#000" stroke-width="1.85"/><rect x="405.97" y="1599.34" width="5.9" height="5.9" fill="#fff" stroke="#000" stroke-width="1.85"/><rect x="408.01" y="1612.75" width="5.9" height="5.9" fill="#fff" stroke="#000" stroke-width="1.85"/><rect x="409.85" y="1621.31" width="5.9" height="5.9" fill="#fff" stroke="#000" stroke-width="1.85"/><rect x="411.71" y="1600.45" width="5.9" height="5.9" fill="#fff" stroke="#000" stroke-width="1.85"/><rect x="413.63" y="1640.41" width="5.9" height="5.9" fill="#fff" stroke="#000" stroke-width="1.85"/><rect x="415.71" y="1640.41" width="5.9" height="5.9" fill="#fff" stroke="#000" stroke-width="1.85"/><rect x="417.37" y="1608.83" width="5.9" height="5.9" fill="#fff" stroke="#000" stroke-width="1.85"/><rect x="419.72" y="1610.11" width="5.9" height="5.9" fill="#fff" stroke="#000" stroke-width="1.85"/><rect x="421.13" y="1599.34" width="5.9" height="5.9" fill="#fff" stroke="#000" stroke-width="1.85"/><rect x="423.03" y="1619.81" width="5.9" height="5.9" fill="#fff" stroke="#000" stroke-width="1.85"/><rect x="425.18" y="1603.92" width="5.9" height="5.9" fill="#fff" stroke="#000" stroke-width="1.85"/><rect x="427.1" y="1586.23" width="5.9" height="5.9" fill="#fff" stroke="#000" stroke-width="1.85"/><rect x="429.01" y="1603.92" width="5.9" height="5.9" fill="#fff" stroke="#000" stroke-width="1.85"/><rect x="430.55" y="1618.34" width="5.9" height="5.9" fill="#fff" stroke="#000" stroke-width="1.85"/><rect x="432.61" y="1600.45" width="5.9" height="5.9" fill="#fff" stroke="#000" stroke-width="1.85"/><rect x="434.83" y="1618.34" width="5.9" height="5.9" fill="#fff" stroke="#000" stroke-width="1.85"/><rect x="436.54" y="1619.81" width="5.9" height="5.9" fill="#fff" stroke="#000" stroke-width="1.85"/><rect x="438.31" y="1624.42" width="5.9" height="5.9" fill="#fff" stroke="#000" stroke-width="1.85"/><rect x="440.24" y="1627.67" width="5.9" height="5.9" fill="#fff" stroke="#000" stroke-width="1.85"/><rect x="442.47" y="1619.81" width="5.9" height="5.9" fill="#fff" stroke="#000" stroke-width="1.85"/><rect x="443.91" y="1636.53" width="5.9" height="5.9" fill="#fff" stroke="#000" stroke-width="1.85"/><rect x="446.24" y="1611.41" width="5.9" height="5.9" fill="#fff" stroke="#000" stroke-width="1.85"/><rect x="447.69" y="1624.42" width="5.9" height="5.9" fill="#fff" stroke="#000" stroke-width="1.85"/><rect x="449.48" y="1595.03" width="5.9" height="5.9" fill="#fff" stroke="#000" stroke-width="1.85"/><rect x="451.84" y="1619.81" width="5.9" height="5.9" fill="#fff" stroke="#000" stroke-width="1.85"/><rect x="453.39" y="1624.42" width="5.9" height="5.9" fill="#fff" stroke="#000" stroke-width="1.85"/><rect x="455.36" y="1612.75" width="5.9" height="5.9" fill="#fff" stroke="#000" stroke-width="1.85"/><rect x="457.25" y="1590.98" width="5.9" height="5.9" fill="#fff" stroke="#000" stroke-width="1.85"/><rect x="459.45" y="1612.75" width="5.9" height="5.9" fill="#fff" stroke="#000" stroke-width="1.85"/><rect x="461.34" y="1611.41" width="5.9" height="5.9" fill="#fff" stroke="#000" stroke-width="1.85"/><rect x="462.94" y="1601.59" width="5.9" height="5.9" fill="#fff" stroke="#000" stroke-width="1.85"/><rect x="464.9" y="1600.45" width="5.9" height="5.9" fill="#fff" stroke="#000" stroke-width="1.85"/><rect x="466.87" y="1634.66" width="5.9" height="5.9" fill="#fff" stroke="#000" stroke-width="1.85"/><rect x="468.82" y="1607.57" width="5.9" height="5.9" fill="#fff" stroke="#000" stroke-width="1.85"/><rect x="470.59" y="1632.85" width="5.9" height="5.9" fill="#fff" stroke="#000" stroke-width="1.85"/><rect x="472.48" y="1597.15" width="5.9" height="5.9" fill="#fff" stroke="#000" stroke-width="1.85"/><rect x="474.13" y="1616.9" width="5.9" height="5.9" fill="#fff" stroke="#000" stroke-width="1.85"/><rect x="476.27" y="1615.49" width="5.9" height="5.9" fill="#fff" stroke="#000" stroke-width="1.85"/><rect x="477.85" y="1607.57" width="5.9" height="5.9" fill="#fff" stroke="#000" stroke-width="1.85"/><rect x="479.76" y="1612.75" width="5.9" height="5.9" fill="#fff" stroke="#000" stroke-width="1.85"/><rect x="482.03" y="1624.42" width="5.9" height="5.9" fill="#fff" stroke="#000" stroke-width="1.85"/><rect x="483.52" y="1634.66" width="5.9" height="5.9" fill="#fff" stroke="#000" stroke-width="1.85"/><rect x="485.4" y="1615.49" width="5.9" height="5.9" fill="#fff" stroke="#000" stroke-width="1.85"/><rect x="487.29" y="1614.1" width="5.9" height="5.9" fill="#fff" stroke="#000" stroke-width="1.85"/><rect x="489.47" y="1610.11" width="5.9" height="5.9" fill="#fff" stroke="#000" stroke-width="1.85"/><rect x="491.18" y="1591.97" width="5.9" height="5.9" fill="#fff" stroke="#000" stroke-width="1.85"/><rect x="493.31" y="1614.1" width="5.9" height="5.9" fill="#fff" stroke="#000" stroke-width="1.85"/><rect x="494.87" y="1618.34" width="5.9" height="5.9" fill="#fff" stroke="#000" stroke-width="1.85"/><rect x="497.05" y="1631.08" width="5.9" height="5.9" fill="#fff" stroke="#000" stroke-width="1.85"/><rect x="498.64" y="1611.41" width="5.9" height="5.9" fill="#fff" stroke="#000" stroke-width="1.85"/><rect x="500.76" y="1627.67" width="5.9" height="5.9" fill="#fff" stroke="#000" stroke-width="1.85"/><rect x="502.52" y="1627.67" width="5.9" height="5.9" fill="#fff" stroke="#000" stroke-width="1.85"/><rect x="504.49" y="1629.35" width="5.9" height="5.9" fill="#fff" stroke="#000" stroke-width="1.85"/><rect x="506.52" y="1640.41" width="5.9" height="5.9" fill="#fff" stroke="#000" stroke-width="1.85"/><rect x="508.21" y="1624.42" width="5.9" height="5.9" fill="#fff" stroke="#000" stroke-width="1.85"/><rect x="510.13" y="1632.85" width="5.9" height="5.9" fill="#fff" stroke="#000" stroke-width="1.85"/><rect x="512.15" y="1634.66" width="5.9" height="5.9" fill="#fff" stroke="#000" stroke-width="1.85"/><rect x="513.94" y="1615.49" width="5.9" height="5.9" fill="#fff" stroke="#000" stroke-width="1.85"/><rect x="515.88" y="1607.57" width="5.9" height="5.9" fill="#fff" stroke="#000" stroke-width="1.85"/><rect x="517.84" y="1629.35" width="5.9" height="5.9" fill="#fff" stroke="#000" stroke-width="1.85"/><rect x="519.71" y="1611.41" width="5.9" height="5.9" fill="#fff" stroke="#000" stroke-width="1.85"/><rect x="521.53" y="1594" width="5.9" height="5.9" fill="#fff" stroke="#000" stroke-width="1.85"/><rect x="523.19" y="1619.81" width="5.9" height="5.9" fill="#fff" stroke="#000" stroke-width="1.85"/><rect x="525.45" y="1629.35" width="5.9" height="5.9" fill="#fff" stroke="#000" stroke-width="1.85"/><rect x="527.27" y="1622.85" width="5.9" height="5.9" fill="#fff" stroke="#000" stroke-width="1.85"/><rect x="529.14" y="1626.02" width="5.9" height="5.9" fill="#fff" stroke="#000" stroke-width="1.85"/><rect x="531.26" y="1626.02" width="5.9" height="5.9" fill="#fff" stroke="#000" stroke-width="1.85"/><rect x="533.04" y="1619.81" width="5.9" height="5.9" fill="#fff" stroke="#000" stroke-width="1.85"/><rect x="534.9" y="1644.52" width="5.9" height="5.9" fill="#fff" stroke="#000" stroke-width="1.85"/><rect x="536.54" y="1600.45" width="5.9" height="5.9" fill="#fff" stroke="#000" stroke-width="1.85"/><rect x="538.88" y="1646.67" width="5.9" height="5.9" fill="#fff" stroke="#000" stroke-width="1.85"/><rect x="540.34" y="1621.31" width="5.9" height="5.9" fill="#fff" stroke="#000" stroke-width="1.85"/><rect x="542.26" y="1627.67" width="5.9" height="5.9" fill="#fff" stroke="#000" stroke-width="1.85"/><rect x="544" y="1619.81" width="5.9" height="5.9" fill="#fff" stroke="#000" stroke-width="1.85"/><rect x="546.19" y="1638.44" width="5.9" height="5.9" fill="#fff" stroke="#000" stroke-width="1.85"/><rect x="547.88" y="1640.41" width="5.9" height="5.9" fill="#fff" stroke="#000" stroke-width="1.85"/><rect x="550.1" y="1644.52" width="5.9" height="5.9" fill="#fff" stroke="#000" stroke-width="1.85"/><rect x="551.74" y="1618.34" width="5.9" height="5.9" fill="#fff" stroke="#000" stroke-width="1.85"/><rect x="553.64" y="1621.31" width="5.9" height="5.9" fill="#fff" stroke="#000" stroke-width="1.85"/><rect x="555.52" y="1636.53" width="5.9" height="5.9" fill="#fff" stroke="#000" stroke-width="1.85"/><rect x="557.45" y="1622.85" width="5.9" height="5.9" fill="#fff" stroke="#000" stroke-width="1.85"/><rect x="559.63" y="1626.02" width="5.9" height="5.9" fill="#fff" stroke="#000" stroke-width="1.85"/><rect x="561.19" y="1629.35" width="5.9" height="5.9" fill="#fff" stroke="#000" stroke-width="1.85"/><rect x="563.13" y="1640.41" width="5.9" height="5.9" fill="#fff" stroke="#000" stroke-width="1.85"/><rect x="565.06" y="1615.49" width="5.9" height="5.9" fill="#fff" stroke="#000" stroke-width="1.85"/><rect x="566.84" y="1614.1" width="5.9" height="5.9" fill="#fff" stroke="#000" stroke-width="1.85"/><rect x="569.11" y="1624.42" width="5.9" height="5.9" fill="#fff" stroke="#000" stroke-width="1.85"/><rect x="571" y="1611.41" width="5.9" height="5.9" fill="#fff" stroke="#000" stroke-width="1.85"/><rect x="572.74" y="1608.83" width="5.9" height="5.9" fill="#fff" stroke="#000" stroke-width="1.85"/><rect x="574.56" y="1618.34" width="5.9" height="5.9" fill="#fff" stroke="#000" stroke-width="1.85"/><rect x="576.39" y="1619.81" width="5.9" height="5.9" fill="#fff" stroke="#000" stroke-width="1.85"/><rect x="578.46" y="1629.35" width="5.9" height="5.9" fill="#fff" stroke="#000" stroke-width="1.85"/><rect x="580.09" y="1629.35" width="5.9" height="5.9" fill="#fff" stroke="#000" stroke-width="1.85"/><rect x="582.25" y="1627.67" width="5.9" height="5.9" fill="#fff" stroke="#000" stroke-width="1.85"/><rect x="584.09" y="1627.67" width="5.9" height="5.9" fill="#fff" stroke="#000" stroke-width="1.85"/><rect x="585.97" y="1640.41" width="5.9" height="5.9" fill="#fff" stroke="#000" stroke-width="1.85"/><rect x="587.9" y="1661.18" width="5.9" height="5.9" fill="#fff" stroke="#000" stroke-width="1.85"/><rect x="589.8" y="1622.85" width="5.9" height="5.9" fill="#fff" stroke="#000" stroke-width="1.85"/><rect x="591.27" y="1634.66" width="5.9" height="5.9" fill="#fff" stroke="#000" stroke-width="1.85"/><rect x="593.27" y="1644.52" width="5.9" height="5.9" fill="#fff" stroke="#000" stroke-width="1.85"/><rect x="595.61" y="1658.54" width="5.9" height="5.9" fill="#fff" stroke="#000" stroke-width="1.85"/><rect x="597.15" y="1653.55" width="5.9" height="5.9" fill="#fff" stroke="#000" stroke-width="1.85"/><rect x="599.03" y="1651.18" width="5.9" height="5.9" fill="#fff" stroke="#000" stroke-width="1.85"/><rect x="601.03" y="1616.9" width="5.9" height="5.9" fill="#fff" stroke="#000" stroke-width="1.85"/><rect x="602.61" y="1642.44" width="5.9" height="5.9" fill="#fff" stroke="#000" stroke-width="1.85"/><rect x="604.7" y="1616.9" width="5.9" height="5.9" fill="#fff" stroke="#000" stroke-width="1.85"/><rect x="606.53" y="1622.85" width="5.9" height="5.9" fill="#fff" stroke="#000" stroke-width="1.85"/><rect x="608.51" y="1663.92" width="5.9" height="5.9" fill="#fff" stroke="#000" stroke-width="1.85"/><rect x="610.45" y="1634.66" width="5.9" height="5.9" fill="#fff" stroke="#000" stroke-width="1.85"/><rect x="612.38" y="1607.57" width="5.9" height="5.9" fill="#fff" stroke="#000" stroke-width="1.85"/><rect x="614.08" y="1636.53" width="5.9" height="5.9" fill="#fff" stroke="#000" stroke-width="1.85"/><rect x="616.33" y="1644.52" width="5.9" height="5.9" fill="#fff" stroke="#000" stroke-width="1.85"/><rect x="618.17" y="1646.67" width="5.9" height="5.9" fill="#fff" stroke="#000" stroke-width="1.85"/><rect x="619.61" y="1640.41" width="5.9" height="5.9" fill="#fff" stroke="#000" stroke-width="1.85"/><rect x="621.8" y="1634.66" width="5.9" height="5.9" fill="#fff" stroke="#000" stroke-width="1.85"/><rect x="623.41" y="1618.34" width="5.9" height="5.9" fill="#fff" stroke="#000" stroke-width="1.85"/><rect x="625.31" y="1661.18" width="5.9" height="5.9" fill="#fff" stroke="#000" stroke-width="1.85"/><rect x="627.52" y="1648.89" width="5.9" height="5.9" fill="#fff" stroke="#000" stroke-width="1.85"/><rect x="629.42" y="1638.44" width="5.9" height="5.9" fill="#fff" stroke="#000" stroke-width="1.85"/><rect x="631.08" y="1636.53" width="5.9" height="5.9" fill="#fff" stroke="#000" stroke-width="1.85"/><rect x="633.31" y="1631.08" width="5.9" height="5.9" fill="#fff" stroke="#000" stroke-width="1.85"/><rect x="635.05" y="1631.08" width="5.9" height="5.9" fill="#fff" stroke="#000" stroke-width="1.85"/><rect x="636.72" y="1648.89" width="5.9" height="5.9" fill="#fff" stroke="#000" stroke-width="1.85"/><rect x="639.05" y="1622.85" width="5.9" height="5.9" fill="#fff" stroke="#000" stroke-width="1.85"/><rect x="640.98" y="1632.85" width="5.9" height="5.9" fill="#fff" stroke="#000" stroke-width="1.85"/><rect x="642.45" y="1626.02" width="5.9" height="5.9" fill="#fff" stroke="#000" stroke-width="1.85"/><rect x="644.25" y="1653.55" width="5.9" height="5.9" fill="#fff" stroke="#000" stroke-width="1.85"/><rect x="646.52" y="1676.1" width="5.9" height="5.9" fill="#fff" stroke="#000" stroke-width="1.85"/><rect x="648.48" y="1640.41" width="5.9" height="5.9" fill="#fff" stroke="#000" stroke-width="1.85"/><rect x="650.39" y="1663.92" width="5.9" height="5.9" fill="#fff" stroke="#000" stroke-width="1.85"/><rect x="651.95" y="1661.18" width="5.9" height="5.9" fill="#fff" stroke="#000" stroke-width="1.85"/><rect x="654.03" y="1646.67" width="5.9" height="5.9" fill="#fff" stroke="#000" stroke-width="1.85"/><rect x="655.75" y="1631.08" width="5.9" height="5.9" fill="#fff" stroke="#000" stroke-width="1.85"/><rect x="657.78" y="1629.35" width="5.9" height="5.9" fill="#fff" stroke="#000" stroke-width="1.85"/><rect x="659.85" y="1638.44" width="5.9" height="5.9" fill="#fff" stroke="#000" stroke-width="1.85"/><rect x="661.57" y="1658.54" width="5.9" height="5.9" fill="#fff" stroke="#000" stroke-width="1.85"/><rect x="663.49" y="1658.54" width="5.9" height="5.9" fill="#fff" stroke="#000" stroke-width="1.85"/><rect x="665.39" y="1658.54" width="5.9" height="5.9" fill="#fff" stroke="#000" stroke-width="1.85"/><rect x="667.23" y="1658.54" width="5.9" height="5.9" fill="#fff" stroke="#000" stroke-width="1.85"/><rect x="668.92" y="1690.87" width="5.9" height="5.9" fill="#fff" stroke="#000" stroke-width="1.85"/><rect x="670.82" y="1631.08" width="5.9" height="5.9" fill="#fff" stroke="#000" stroke-width="1.85"/><rect x="672.6" y="1658.54" width="5.9" height="5.9" fill="#fff" stroke="#000" stroke-width="1.85"/><rect x="674.93" y="1642.44" width="5.9" height="5.9" fill="#fff" stroke="#000" stroke-width="1.85"/><rect x="676.48" y="1679.51" width="5.9" height="5.9" fill="#fff" stroke="#000" stroke-width="1.85"/><rect x="678.24" y="1651.18" width="5.9" height="5.9" fill="#fff" stroke="#000" stroke-width="1.85"/><rect x="680.54" y="1656" width="5.9" height="5.9" fill="#fff" stroke="#000" stroke-width="1.85"/><rect x="682.44" y="1666.77" width="5.9" height="5.9" fill="#fff" stroke="#000" stroke-width="1.85"/><rect x="684.22" y="1661.18" width="5.9" height="5.9" fill="#fff" stroke="#000" stroke-width="1.85"/><rect x="686.22" y="1676.1" width="5.9" height="5.9" fill="#fff" stroke="#000" stroke-width="1.85"/><rect x="687.86" y="1661.18" width="5.9" height="5.9" fill="#fff" stroke="#000" stroke-width="1.85"/><rect x="689.96" y="1621.31" width="5.9" height="5.9" fill="#fff" stroke="#000" stroke-width="1.85"/><rect x="692.03" y="1638.44" width="5.9" height="5.9" fill="#fff" stroke="#000" stroke-width="1.85"/><rect x="693.47" y="1663.92" width="5.9" height="5.9" fill="#fff" stroke="#000" stroke-width="1.85"/><rect x="695.77" y="1642.44" width="5.9" height="5.9" fill="#fff" stroke="#000" stroke-width="1.85"/><rect x="697.15" y="1679.51" width="5.9" height="5.9" fill="#fff" stroke="#000" stroke-width="1.85"/><rect x="699.56" y="1658.54" width="5.9" height="5.9" fill="#fff" stroke="#000" stroke-width="1.85"/><rect x="701.29" y="1658.54" width="5.9" height="5.9" fill="#fff" stroke="#000" stroke-width="1.85"/><rect x="703.08" y="1661.18" width="5.9" height="5.9" fill="#fff" stroke="#000" stroke-width="1.85"/><rect x="704.87" y="1651.18" width="5.9" height="5.9" fill="#fff" stroke="#000" stroke-width="1.85"/><rect x="706.71" y="1663.92" width="5.9" height="5.9" fill="#fff" stroke="#000" stroke-width="1.85"/><rect x="709.02" y="1648.89" width="5.9" height="5.9" fill="#fff" stroke="#000" stroke-width="1.85"/><rect x="710.44" y="1663.92" width="5.9" height="5.9" fill="#fff" stroke="#000" stroke-width="1.85"/><rect x="712.46" y="1646.67" width="5.9" height="5.9" fill="#fff" stroke="#000" stroke-width="1.85"/><rect x="714.53" y="1653.55" width="5.9" height="5.9" fill="#fff" stroke="#000" stroke-width="1.85"/><rect x="716.05" y="1676.1" width="5.9" height="5.9" fill="#fff" stroke="#000" stroke-width="1.85"/><rect x="718.01" y="1669.75" width="5.9" height="5.9" fill="#fff" stroke="#000" stroke-width="1.85"/><rect x="720.18" y="1642.44" width="5.9" height="5.9" fill="#fff" stroke="#000" stroke-width="1.85"/><rect x="721.76" y="1679.51" width="5.9" height="5.9" fill="#fff" stroke="#000" stroke-width="1.85"/><rect x="723.58" y="1656" width="5.9" height="5.9" fill="#fff" stroke="#000" stroke-width="1.85"/><rect x="725.7" y="1686.88" width="5.9" height="5.9" fill="#fff" stroke="#000" stroke-width="1.85"/><rect x="727.44" y="1646.67" width="5.9" height="5.9" fill="#fff" stroke="#000" stroke-width="1.85"/><rect x="729.53" y="1656" width="5.9" height="5.9" fill="#fff" stroke="#000" stroke-width="1.85"/><rect x="731.25" y="1656" width="5.9" height="5.9" fill="#fff" stroke="#000" stroke-width="1.85"/><rect x="733.41" y="1661.18" width="5.9" height="5.9" fill="#fff" stroke="#000" stroke-width="1.85"/><rect x="735.48" y="1676.1" width="5.9" height="5.9" fill="#fff" stroke="#000" stroke-width="1.85"/><rect x="737.21" y="1661.18" width="5.9" height="5.9" fill="#fff" stroke="#000" stroke-width="1.85"/><rect x="738.78" y="1644.52" width="5.9" height="5.9" fill="#fff" stroke="#000" stroke-width="1.85"/><rect x="741.04" y="1648.89" width="5.9" height="5.9" fill="#fff" stroke="#000" stroke-width="1.85"/><rect x="742.54" y="1672.85" width="5.9" height="5.9" fill="#fff" stroke="#000" stroke-width="1.85"/><rect x="744.5" y="1676.1" width="5.9" height="5.9" fill="#fff" stroke="#000" stroke-width="1.85"/><rect x="746.8" y="1640.41" width="5.9" height="5.9" fill="#fff" stroke="#000" stroke-width="1.85"/><rect x="748.59" y="1653.55" width="5.9" height="5.9" fill="#fff" stroke="#000" stroke-width="1.85"/><rect x="149.95" y="1575.25" width="5.9" height="5.9" fill="#fff" stroke="#000" stroke-width="1.85"/><rect x="143.95" y="1727.85" width="5.9" height="5.9" fill="#fff" stroke="#000" stroke-width="1.85"/><rect x="146.65" y="1733.35" width="5.9" height="5.9" fill="#fff" stroke="#000" stroke-width="1.85"/>
<circle cx="155.98" cy="1425.66" r="3.0" fill="#fff" stroke="#f00" stroke-width="1.85"/><circle cx="157.98" cy="1417.95" r="3.0" fill="#fff" stroke="#f00" stroke-width="1.85"/><circle cx="159.4" cy="1437.19" r="3.0" fill="#fff" stroke="#f00" stroke-width="1.85"/><circle cx="161.74" cy="1430.14" r="3.0" fill="#fff" stroke="#f00" stroke-width="1.85"/><circle cx="163.7" cy="1461.41" r="3.0" fill="#fff" stroke="#f00" stroke-width="1.85"/><circle cx="165.35" cy="1452.55" r="3.0" fill="#fff" stroke="#f00" stroke-width="1.85"/><circle cx="167.25" cy="1446.56" r="3.0" fill="#fff" stroke="#f00" stroke-width="1.85"/><circle cx="169.07" cy="1452.68" r="3.0" fill="#fff" stroke="#f00" stroke-width="1.85"/><circle cx="171.15" cy="1501.64" r="3.0" fill="#fff" stroke="#f00" stroke-width="1.85"/><circle cx="172.94" cy="1487.21" r="3.0" fill="#fff" stroke="#f00" stroke-width="1.85"/><circle cx="174.92" cy="1490.71" r="3.0" fill="#fff" stroke="#f00" stroke-width="1.85"/><circle cx="176.8" cy="1471.74" r="3.0" fill="#fff" stroke="#f00" stroke-width="1.85"/><circle cx="178.85" cy="1501.64" r="3.0" fill="#fff" stroke="#f00" stroke-width="1.85"/><circle cx="180.46" cy="1511.49" r="3.0" fill="#fff" stroke="#f00" stroke-width="1.85"/><circle cx="182.24" cy="1498.55" r="3.0" fill="#fff" stroke="#f00" stroke-width="1.85"/><circle cx="184.12" cy="1506.53" r="3.0" fill="#fff" stroke="#f00" stroke-width="1.85"/><circle cx="186.43" cy="1503.5" r="3.0" fill="#fff" stroke="#f00" stroke-width="1.85"/><circle cx="188.19" cy="1506.53" r="3.0" fill="#fff" stroke="#f00" stroke-width="1.85"/><circle cx="189.8" cy="1509.12" r="3.0" fill="#fff" stroke="#f00" stroke-width="1.85"/><circle cx="191.58" cy="1505.14" r="3.0" fill="#fff" stroke="#f00" stroke-width="1.85"/><circle cx="193.58" cy="1521.91" r="3.0" fill="#fff" stroke="#f00" stroke-width="1.85"/><circle cx="195.38" cy="1522.27" r="3.0" fill="#fff" stroke="#f00" stroke-width="1.85"/><circle cx="197.69" cy="1526.64" r="3.0" fill="#fff" stroke="#f00" stroke-width="1.85"/><circle cx="199.31" cy="1535.01" r="3.0" fill="#fff" stroke="#f00" stroke-width="1.85"/><circle cx="201.08" cy="1515.22" r="3.0" fill="#fff" stroke="#f00" stroke-width="1.85"/><circle cx="203.45" cy="1527.77" r="3.0" fill="#fff" stroke="#f00" stroke-width="1.85"/><circle cx="205.09" cy="1531.7" r="3.0" fill="#fff" stroke="#f00" stroke-width="1.85"/><circle cx="206.84" cy="1534.58" r="3.0" fill="#fff" stroke="#f00" stroke-width="1.85"/><circle cx="208.87" cy="1535.86" r="3.0" fill="#fff" stroke="#f00" stroke-width="1.85"/><circle cx="210.82" cy="1538.93" r="3.0" fill="#fff" stroke="#f00" stroke-width="1.85"/><circle cx="212.39" cy="1548.51" r="3.0" fill="#fff" stroke="#f00" stroke-width="1.85"/><circle cx="214.39" cy="1522.27" r="3.0" fill="#fff" stroke="#f00" stroke-width="1.85"/><circle cx="216.69" cy="1531.3" r="3.0" fill="#fff" stroke="#f00" stroke-width="1.85"/><circle cx="218.22" cy="1549.03" r="3.0" fill="#fff" stroke="#f00" stroke-width="1.85"/><circle cx="220.23" cy="1553.3" r="3.0" fill="#fff" stroke="#f00" stroke-width="1.85"/><circle cx="222.27" cy="1529.71" r="3.0" fill="#fff" stroke="#f00" stroke-width="1.85"/><circle cx="224.23" cy="1538.04" r="3.0" fill="#fff" stroke="#f00" stroke-width="1.85"/><circle cx="225.58" cy="1561.46" r="3.0" fill="#fff" stroke="#f00" stroke-width="1.85"/><circle cx="227.64" cy="1544.52" r="3.0" fill="#fff" stroke="#f00" stroke-width="1.85"/><circle cx="229.39" cy="1560.84" r="3.0" fill="#fff" stroke="#f00" stroke-width="1.85"/><circle cx="231.24" cy="1551.67" r="3.0" fill="#fff" stroke="#f00" stroke-width="1.85"/><circle cx="233.6" cy="1569.3" r="3.0" fill="#fff" stroke="#f00" stroke-width="1.85"/><circle cx="235.31" cy="1542.6" r="3.0" fill="#fff" stroke="#f00" stroke-width="1.85"/><circle cx="237.25" cy="1552.21" r="3.0" fill="#fff" stroke="#f00" stroke-width="1.85"/><circle cx="239.3" cy="1565.27" r="3.0" fill="#fff" stroke="#f00" stroke-width="1.85"/><circle cx="240.89" cy="1572.13" r="3.0" fill="#fff" stroke="#f00" stroke-width="1.85"/><circle cx="242.87" cy="1562.08" r="3.0" fill="#fff" stroke="#f00" stroke-width="1.85"/><circle cx="244.78" cy="1548.51" r="3.0" fill="#fff" stroke="#f00" stroke-width="1.85"/><circle cx="246.67" cy="1575.07" r="3.0" fill="#fff" stroke="#f00" stroke-width="1.85"/><circle cx="248.41" cy="1568.62" r="3.0" fill="#fff" stroke="#f00" stroke-width="1.85"/><circle cx="250.59" cy="1564.62" r="3.0" fill="#fff" stroke="#f00" stroke-width="1.85"/><circle cx="252.41" cy="1550.07" r="3.0" fill="#fff" stroke="#f00" stroke-width="1.85"/><circle cx="254.01" cy="1574.32" r="3.0" fill="#fff" stroke="#f00" stroke-width="1.85"/><circle cx="255.8" cy="1553.85" r="3.0" fill="#fff" stroke="#f00" stroke-width="1.85"/><circle cx="257.7" cy="1561.46" r="3.0" fill="#fff" stroke="#f00" stroke-width="1.85"/><circle cx="260.04" cy="1565.93" r="3.0" fill="#fff" stroke="#f00" stroke-width="1.85"/><circle cx="261.51" cy="1575.07" r="3.0" fill="#fff" stroke="#f00" stroke-width="1.85"/><circle cx="263.77" cy="1586.47" r="3.0" fill="#fff" stroke="#f00" stroke-width="1.85"/><circle cx="265.52" cy="1577.36" r="3.0" fill="#fff" stroke="#f00" stroke-width="1.85"/><circle cx="267.4" cy="1575.07" r="3.0" fill="#fff" stroke="#f00" stroke-width="1.85"/><circle cx="269.32" cy="1578.93" r="3.0" fill="#fff" stroke="#f00" stroke-width="1.85"/><circle cx="271.36" cy="1567.26" r="3.0" fill="#fff" stroke="#f00" stroke-width="1.85"/><circle cx="273.25" cy="1559.03" r="3.0" fill="#fff" stroke="#f00" stroke-width="1.85"/><circle cx="275.11" cy="1585.59" r="3.0" fill="#fff" stroke="#f00" stroke-width="1.85"/><circle cx="276.69" cy="1602.29" r="3.0" fill="#fff" stroke="#f00" stroke-width="1.85"/><circle cx="278.99" cy="1572.13" r="3.0" fill="#fff" stroke="#f00" stroke-width="1.85"/><circle cx="280.7" cy="1584.72" r="3.0" fill="#fff" stroke="#f00" stroke-width="1.85"/><circle cx="282.63" cy="1590.1" r="3.0" fill="#fff" stroke="#f00" stroke-width="1.85"/><circle cx="284.7" cy="1584.72" r="3.0" fill="#fff" stroke="#f00" stroke-width="1.85"/><circle cx="286.33" cy="1596.95" r="3.0" fill="#fff" stroke="#f00" stroke-width="1.85"/><circle cx="288.34" cy="1582.18" r="3.0" fill="#fff" stroke="#f00" stroke-width="1.85"/><circle cx="290.31" cy="1583.87" r="3.0" fill="#fff" stroke="#f00" stroke-width="1.85"/><circle cx="291.8" cy="1573.58" r="3.0" fill="#fff" stroke="#f00" stroke-width="1.85"/><circle cx="293.98" cy="1582.18" r="3.0" fill="#fff" stroke="#f00" stroke-width="1.85"/><circle cx="295.82" cy="1592.96" r="3.0" fill="#fff" stroke="#f00" stroke-width="1.85"/><circle cx="297.76" cy="1586.47" r="3.0" fill="#fff" stroke="#f00" stroke-width="1.85"/><circle cx="299.87" cy="1587.36" r="3.0" fill="#fff" stroke="#f00" stroke-width="1.85"/><circle cx="301.18" cy="1597.98" r="3.0" fill="#fff" stroke="#f00" stroke-width="1.85"/><circle cx="303.16" cy="1587.36" r="3.0" fill="#fff" stroke="#f00" stroke-width="1.85"/><circle cx="305.18" cy="1577.36" r="3.0" fill="#fff" stroke="#f00" stroke-width="1.85"/><circle cx="307.28" cy="1581.36" r="3.0" fill="#fff" stroke="#f00" stroke-width="1.85"/><circle cx="308.79" cy="1609.28" r="3.0" fill="#fff" stroke="#f00" stroke-width="1.85"/><circle cx="310.98" cy="1601.19" r="3.0" fill="#fff" stroke="#f00" stroke-width="1.85"/><circle cx="313" cy="1580.54" r="3.0" fill="#fff" stroke="#f00" stroke-width="1.85"/><circle cx="314.84" cy="1592.96" r="3.0" fill="#fff" stroke="#f00" stroke-width="1.85"/><circle cx="316.8" cy="1592.96" r="3.0" fill="#fff" stroke="#f00" stroke-width="1.85"/><circle cx="318.4" cy="1621.29" r="3.0" fill="#fff" stroke="#f00" stroke-width="1.85"/><circle cx="320.18" cy="1605.7" r="3.0" fill="#fff" stroke="#f00" stroke-width="1.85"/><circle cx="322.27" cy="1594.92" r="3.0" fill="#fff" stroke="#f00" stroke-width="1.85"/><circle cx="323.94" cy="1597.98" r="3.0" fill="#fff" stroke="#f00" stroke-width="1.85"/><circle cx="325.79" cy="1586.47" r="3.0" fill="#fff" stroke="#f00" stroke-width="1.85"/><circle cx="327.83" cy="1600.1" r="3.0" fill="#fff" stroke="#f00" stroke-width="1.85"/><circle cx="329.93" cy="1595.93" r="3.0" fill="#fff" stroke="#f00" stroke-width="1.85"/><circle cx="331.47" cy="1617.05" r="3.0" fill="#fff" stroke="#f00" stroke-width="1.85"/><circle cx="333.54" cy="1611.78" r="3.0" fill="#fff" stroke="#f00" stroke-width="1.85"/><circle cx="335.21" cy="1618.44" r="3.0" fill="#fff" stroke="#f00" stroke-width="1.85"/><circle cx="337.28" cy="1628.97" r="3.0" fill="#fff" stroke="#f00" stroke-width="1.85"/><circle cx="339.34" cy="1603.4" r="3.0" fill="#fff" stroke="#f00" stroke-width="1.85"/><circle cx="341.33" cy="1596.95" r="3.0" fill="#fff" stroke="#f00" stroke-width="1.85"/><circle cx="343.21" cy="1621.29" r="3.0" fill="#fff" stroke="#f00" stroke-width="1.85"/><circle cx="344.9" cy="1619.85" r="3.0" fill="#fff" stroke="#f00" stroke-width="1.85"/><circle cx="346.76" cy="1601.19" r="3.0" fill="#fff" stroke="#f00" stroke-width="1.85"/><circle cx="348.83" cy="1595.93" r="3.0" fill="#fff" stroke="#f00" stroke-width="1.85"/><circle cx="350.5" cy="1627.37" r="3.0" fill="#fff" stroke="#f00" stroke-width="1.85"/><circle cx="352.24" cy="1630.62" r="3.0" fill="#fff" stroke="#f00" stroke-width="1.85"/><circle cx="354.61" cy="1617.05" r="3.0" fill="#fff" stroke="#f00" stroke-width="1.85"/><circle cx="356.43" cy="1628.97" r="3.0" fill="#fff" stroke="#f00" stroke-width="1.85"/><circle cx="358.21" cy="1634.03" r="3.0" fill="#fff" stroke="#f00" stroke-width="1.85"/><circle cx="359.83" cy="1639.48" r="3.0" fill="#fff" stroke="#f00" stroke-width="1.85"/><circle cx="362" cy="1606.87" r="3.0" fill="#fff" stroke="#f00" stroke-width="1.85"/><circle cx="363.83" cy="1622.76" r="3.0" fill="#fff" stroke="#f00" stroke-width="1.85"/><circle cx="365.95" cy="1615.7" r="3.0" fill="#fff" stroke="#f00" stroke-width="1.85"/><circle cx="367.38" cy="1622.76" r="3.0" fill="#fff" stroke="#f00" stroke-width="1.85"/><circle cx="369.62" cy="1602.29" r="3.0" fill="#fff" stroke="#f00" stroke-width="1.85"/><circle cx="371.51" cy="1614.36" r="3.0" fill="#fff" stroke="#f00" stroke-width="1.85"/><circle cx="373.01" cy="1637.61" r="3.0" fill="#fff" stroke="#f00" stroke-width="1.85"/><circle cx="375.19" cy="1628.97" r="3.0" fill="#fff" stroke="#f00" stroke-width="1.85"/><circle cx="377.25" cy="1618.44" r="3.0" fill="#fff" stroke="#f00" stroke-width="1.85"/><circle cx="378.72" cy="1625.8" r="3.0" fill="#fff" stroke="#f00" stroke-width="1.85"/><circle cx="380.89" cy="1609.28" r="3.0" fill="#fff" stroke="#f00" stroke-width="1.85"/><circle cx="382.8" cy="1621.29" r="3.0" fill="#fff" stroke="#f00" stroke-width="1.85"/><circle cx="384.84" cy="1602.29" r="3.0" fill="#fff" stroke="#f00" stroke-width="1.85"/><circle cx="386.73" cy="1617.05" r="3.0" fill="#fff" stroke="#f00" stroke-width="1.85"/><circle cx="388.28" cy="1610.52" r="3.0" fill="#fff" stroke="#f00" stroke-width="1.85"/><circle cx="390.08" cy="1634.03" r="3.0" fill="#fff" stroke="#f00" stroke-width="1.85"/><circle cx="392.27" cy="1634.03" r="3.0" fill="#fff" stroke="#f00" stroke-width="1.85"/><circle cx="394.07" cy="1666.87" r="3.0" fill="#fff" stroke="#f00" stroke-width="1.85"/><circle cx="395.9" cy="1601.19" r="3.0" fill="#fff" stroke="#f00" stroke-width="1.85"/><circle cx="397.8" cy="1641.39" r="3.0" fill="#fff" stroke="#f00" stroke-width="1.85"/><circle cx="399.99" cy="1614.36" r="3.0" fill="#fff" stroke="#f00" stroke-width="1.85"/><circle cx="401.72" cy="1622.76" r="3.0" fill="#fff" stroke="#f00" stroke-width="1.85"/><circle cx="403.5" cy="1622.76" r="3.0" fill="#fff" stroke="#f00" stroke-width="1.85"/><circle cx="405.25" cy="1627.37" r="3.0" fill="#fff" stroke="#f00" stroke-width="1.85"/><circle cx="407.33" cy="1624.26" r="3.0" fill="#fff" stroke="#f00" stroke-width="1.85"/><circle cx="409.43" cy="1621.29" r="3.0" fill="#fff" stroke="#f00" stroke-width="1.85"/><circle cx="410.99" cy="1637.61" r="3.0" fill="#fff" stroke="#f00" stroke-width="1.85"/><circle cx="413.17" cy="1622.76" r="3.0" fill="#fff" stroke="#f00" stroke-width="1.85"/><circle cx="414.62" cy="1627.37" r="3.0" fill="#fff" stroke="#f00" stroke-width="1.85"/><circle cx="416.63" cy="1664.13" r="3.0" fill="#fff" stroke="#f00" stroke-width="1.85"/><circle cx="418.68" cy="1679.05" r="3.0" fill="#fff" stroke="#f00" stroke-width="1.85"/><circle cx="420.74" cy="1649.62" r="3.0" fill="#fff" stroke="#f00" stroke-width="1.85"/><circle cx="422.71" cy="1645.39" r="3.0" fill="#fff" stroke="#f00" stroke-width="1.85"/><circle cx="424.36" cy="1625.8" r="3.0" fill="#fff" stroke="#f00" stroke-width="1.85"/><circle cx="426.43" cy="1634.03" r="3.0" fill="#fff" stroke="#f00" stroke-width="1.85"/><circle cx="427.97" cy="1634.03" r="3.0" fill="#fff" stroke="#f00" stroke-width="1.85"/><circle cx="429.89" cy="1637.61" r="3.0" fill="#fff" stroke="#f00" stroke-width="1.85"/><circle cx="432.06" cy="1643.36" r="3.0" fill="#fff" stroke="#f00" stroke-width="1.85"/><circle cx="433.89" cy="1619.85" r="3.0" fill="#fff" stroke="#f00" stroke-width="1.85"/><circle cx="435.58" cy="1647.47" r="3.0" fill="#fff" stroke="#f00" stroke-width="1.85"/><circle cx="437.5" cy="1632.3" r="3.0" fill="#fff" stroke="#f00" stroke-width="1.85"/><circle cx="439.36" cy="1647.47" r="3.0" fill="#fff" stroke="#f00" stroke-width="1.85"/><circle cx="441.29" cy="1689.83" r="3.0" fill="#fff" stroke="#f00" stroke-width="1.85"/><circle cx="443.02" cy="1661.49" r="3.0" fill="#fff" stroke="#f00" stroke-width="1.85"/><circle cx="444.91" cy="1639.48" r="3.0" fill="#fff" stroke="#f00" stroke-width="1.85"/><circle cx="447.27" cy="1675.8" r="3.0" fill="#fff" stroke="#f00" stroke-width="1.85"/><circle cx="448.89" cy="1619.85" r="3.0" fill="#fff" stroke="#f00" stroke-width="1.85"/><circle cx="451.08" cy="1632.3" r="3.0" fill="#fff" stroke="#f00" stroke-width="1.85"/><circle cx="452.43" cy="1651.84" r="3.0" fill="#fff" stroke="#f00" stroke-width="1.85"/><circle cx="454.81" cy="1635.8" r="3.0" fill="#fff" stroke="#f00" stroke-width="1.85"/><circle cx="456.56" cy="1625.8" r="3.0" fill="#fff" stroke="#f00" stroke-width="1.85"/><circle cx="458.13" cy="1664.13" r="3.0" fill="#fff" stroke="#f00" stroke-width="1.85"/><circle cx="459.96" cy="1643.36" r="3.0" fill="#fff" stroke="#f00" stroke-width="1.85"/><circle cx="462.25" cy="1641.39" r="3.0" fill="#fff" stroke="#f00" stroke-width="1.85"/><circle cx="464.03" cy="1664.13" r="3.0" fill="#fff" stroke="#f00" stroke-width="1.85"/><circle cx="465.64" cy="1647.47" r="3.0" fill="#fff" stroke="#f00" stroke-width="1.85"/><circle cx="467.54" cy="1647.47" r="3.0" fill="#fff" stroke="#f00" stroke-width="1.85"/><circle cx="469.63" cy="1621.29" r="3.0" fill="#fff" stroke="#f00" stroke-width="1.85"/><circle cx="471.75" cy="1651.84" r="3.0" fill="#fff" stroke="#f00" stroke-width="1.85"/><circle cx="473.53" cy="1649.62" r="3.0" fill="#fff" stroke="#f00" stroke-width="1.85"/><circle cx="475.32" cy="1635.8" r="3.0" fill="#fff" stroke="#f00" stroke-width="1.85"/><circle cx="477.09" cy="1632.3" r="3.0" fill="#fff" stroke="#f00" stroke-width="1.85"/><circle cx="479.32" cy="1645.39" r="3.0" fill="#fff" stroke="#f00" stroke-width="1.85"/><circle cx="480.77" cy="1643.36" r="3.0" fill="#fff" stroke="#f00" stroke-width="1.85"/><circle cx="482.77" cy="1627.37" r="3.0" fill="#fff" stroke="#f00" stroke-width="1.85"/><circle cx="484.58" cy="1664.13" r="3.0" fill="#fff" stroke="#f00" stroke-width="1.85"/><circle cx="486.5" cy="1661.49" r="3.0" fill="#fff" stroke="#f00" stroke-width="1.85"/><circle cx="488.51" cy="1656.5" r="3.0" fill="#fff" stroke="#f00" stroke-width="1.85"/><circle cx="490.48" cy="1651.84" r="3.0" fill="#fff" stroke="#f00" stroke-width="1.85"/><circle cx="492.35" cy="1643.36" r="3.0" fill="#fff" stroke="#f00" stroke-width="1.85"/><circle cx="494.24" cy="1628.97" r="3.0" fill="#fff" stroke="#f00" stroke-width="1.85"/><circle cx="496.43" cy="1649.62" r="3.0" fill="#fff" stroke="#f00" stroke-width="1.85"/><circle cx="498.25" cy="1707.39" r="3.0" fill="#fff" stroke="#f00" stroke-width="1.85"/><circle cx="499.75" cy="1664.13" r="3.0" fill="#fff" stroke="#f00" stroke-width="1.85"/><circle cx="501.99" cy="1672.7" r="3.0" fill="#fff" stroke="#f00" stroke-width="1.85"/><circle cx="503.81" cy="1661.49" r="3.0" fill="#fff" stroke="#f00" stroke-width="1.85"/><circle cx="505.57" cy="1643.36" r="3.0" fill="#fff" stroke="#f00" stroke-width="1.85"/><circle cx="507.55" cy="1639.48" r="3.0" fill="#fff" stroke="#f00" stroke-width="1.85"/><circle cx="509.39" cy="1654.13" r="3.0" fill="#fff" stroke="#f00" stroke-width="1.85"/><circle cx="511.17" cy="1641.39" r="3.0" fill="#fff" stroke="#f00" stroke-width="1.85"/><circle cx="513.01" cy="1628.97" r="3.0" fill="#fff" stroke="#f00" stroke-width="1.85"/><circle cx="514.95" cy="1630.62" r="3.0" fill="#fff" stroke="#f00" stroke-width="1.85"/><circle cx="517.22" cy="1658.95" r="3.0" fill="#fff" stroke="#f00" stroke-width="1.85"/><circle cx="518.87" cy="1649.62" r="3.0" fill="#fff" stroke="#f00" stroke-width="1.85"/><circle cx="520.84" cy="1647.47" r="3.0" fill="#fff" stroke="#f00" stroke-width="1.85"/><circle cx="522.4" cy="1645.39" r="3.0" fill="#fff" stroke="#f00" stroke-width="1.85"/><circle cx="524.61" cy="1649.62" r="3.0" fill="#fff" stroke="#f00" stroke-width="1.85"/><circle cx="526.37" cy="1658.95" r="3.0" fill="#fff" stroke="#f00" stroke-width="1.85"/><circle cx="528.61" cy="1639.48" r="3.0" fill="#fff" stroke="#f00" stroke-width="1.85"/><circle cx="530.32" cy="1658.95" r="3.0" fill="#fff" stroke="#f00" stroke-width="1.85"/><circle cx="532.36" cy="1651.84" r="3.0" fill="#fff" stroke="#f00" stroke-width="1.85"/><circle cx="533.7" cy="1658.95" r="3.0" fill="#fff" stroke="#f00" stroke-width="1.85"/><circle cx="536.11" cy="1656.5" r="3.0" fill="#fff" stroke="#f00" stroke-width="1.85"/><circle cx="537.85" cy="1664.13" r="3.0" fill="#fff" stroke="#f00" stroke-width="1.85"/><circle cx="539.68" cy="1654.13" r="3.0" fill="#fff" stroke="#f00" stroke-width="1.85"/><circle cx="541.57" cy="1689.83" r="3.0" fill="#fff" stroke="#f00" stroke-width="1.85"/><circle cx="543.66" cy="1654.13" r="3.0" fill="#fff" stroke="#f00" stroke-width="1.85"/><circle cx="545.23" cy="1656.5" r="3.0" fill="#fff" stroke="#f00" stroke-width="1.85"/><circle cx="547.14" cy="1645.39" r="3.0" fill="#fff" stroke="#f00" stroke-width="1.85"/><circle cx="548.82" cy="1666.87" r="3.0" fill="#fff" stroke="#f00" stroke-width="1.85"/><circle cx="551.06" cy="1639.48" r="3.0" fill="#fff" stroke="#f00" stroke-width="1.85"/><circle cx="552.95" cy="1619.85" r="3.0" fill="#fff" stroke="#f00" stroke-width="1.85"/><circle cx="554.67" cy="1624.26" r="3.0" fill="#fff" stroke="#f00" stroke-width="1.85"/><circle cx="556.49" cy="1672.7" r="3.0" fill="#fff" stroke="#f00" stroke-width="1.85"/><circle cx="558.73" cy="1669.72" r="3.0" fill="#fff" stroke="#f00" stroke-width="1.85"/><circle cx="560.39" cy="1658.95" r="3.0" fill="#fff" stroke="#f00" stroke-width="1.85"/><circle cx="562.15" cy="1689.83" r="3.0" fill="#fff" stroke="#f00" stroke-width="1.85"/><circle cx="564.46" cy="1641.39" r="3.0" fill="#fff" stroke="#f00" stroke-width="1.85"/><circle cx="565.99" cy="1656.5" r="3.0" fill="#fff" stroke="#f00" stroke-width="1.85"/><circle cx="568.22" cy="1645.39" r="3.0" fill="#fff" stroke="#f00" stroke-width="1.85"/><circle cx="569.75" cy="1666.87" r="3.0" fill="#fff" stroke="#f00" stroke-width="1.85"/><circle cx="571.74" cy="1664.13" r="3.0" fill="#fff" stroke="#f00" stroke-width="1.85"/><circle cx="573.81" cy="1654.13" r="3.0" fill="#fff" stroke="#f00" stroke-width="1.85"/><circle cx="575.76" cy="1651.84" r="3.0" fill="#fff" stroke="#f00" stroke-width="1.85"/><circle cx="577.34" cy="1661.49" r="3.0" fill="#fff" stroke="#f00" stroke-width="1.85"/><circle cx="579.57" cy="1698.06" r="3.0" fill="#fff" stroke="#f00" stroke-width="1.85"/><circle cx="581.35" cy="1675.8" r="3.0" fill="#fff" stroke="#f00" stroke-width="1.85"/><circle cx="583.22" cy="1664.13" r="3.0" fill="#fff" stroke="#f00" stroke-width="1.85"/><circle cx="584.82" cy="1675.8" r="3.0" fill="#fff" stroke="#f00" stroke-width="1.85"/><circle cx="587.09" cy="1672.7" r="3.0" fill="#fff" stroke="#f00" stroke-width="1.85"/><circle cx="588.83" cy="1661.49" r="3.0" fill="#fff" stroke="#f00" stroke-width="1.85"/><circle cx="590.61" cy="1645.39" r="3.0" fill="#fff" stroke="#f00" stroke-width="1.85"/><circle cx="592.56" cy="1682.46" r="3.0" fill="#fff" stroke="#f00" stroke-width="1.85"/><circle cx="594.2" cy="1664.13" r="3.0" fill="#fff" stroke="#f00" stroke-width="1.85"/><circle cx="596.39" cy="1656.5" r="3.0" fill="#fff" stroke="#f00" stroke-width="1.85"/><circle cx="597.98" cy="1675.8" r="3.0" fill="#fff" stroke="#f00" stroke-width="1.85"/><circle cx="600.44" cy="1675.8" r="3.0" fill="#fff" stroke="#f00" stroke-width="1.85"/><circle cx="602" cy="1664.13" r="3.0" fill="#fff" stroke="#f00" stroke-width="1.85"/><circle cx="603.64" cy="1682.46" r="3.0" fill="#fff" stroke="#f00" stroke-width="1.85"/><circle cx="605.73" cy="1689.83" r="3.0" fill="#fff" stroke="#f00" stroke-width="1.85"/><circle cx="607.91" cy="1682.46" r="3.0" fill="#fff" stroke="#f00" stroke-width="1.85"/><circle cx="609.68" cy="1675.8" r="3.0" fill="#fff" stroke="#f00" stroke-width="1.85"/><circle cx="611.31" cy="1651.84" r="3.0" fill="#fff" stroke="#f00" stroke-width="1.85"/><circle cx="613.4" cy="1651.84" r="3.0" fill="#fff" stroke="#f00" stroke-width="1.85"/><circle cx="615.22" cy="1654.13" r="3.0" fill="#fff" stroke="#f00" stroke-width="1.85"/><circle cx="616.92" cy="1679.05" r="3.0" fill="#fff" stroke="#f00" stroke-width="1.85"/><circle cx="619.31" cy="1675.8" r="3.0" fill="#fff" stroke="#f00" stroke-width="1.85"/><circle cx="621.12" cy="1712.57" r="3.0" fill="#fff" stroke="#f00" stroke-width="1.85"/><circle cx="622.97" cy="1679.05" r="3.0" fill="#fff" stroke="#f00" stroke-width="1.85"/><circle cx="624.56" cy="1658.95" r="3.0" fill="#fff" stroke="#f00" stroke-width="1.85"/><circle cx="626.34" cy="1707.39" r="3.0" fill="#fff" stroke="#f00" stroke-width="1.85"/><circle cx="628.79" cy="1672.7" r="3.0" fill="#fff" stroke="#f00" stroke-width="1.85"/><circle cx="630.67" cy="1686.05" r="3.0" fill="#fff" stroke="#f00" stroke-width="1.85"/><circle cx="632.02" cy="1675.8" r="3.0" fill="#fff" stroke="#f00" stroke-width="1.85"/><circle cx="634.42" cy="1669.72" r="3.0" fill="#fff" stroke="#f00" stroke-width="1.85"/><circle cx="635.9" cy="1675.8" r="3.0" fill="#fff" stroke="#f00" stroke-width="1.85"/><circle cx="637.97" cy="1669.72" r="3.0" fill="#fff" stroke="#f00" stroke-width="1.85"/><circle cx="639.85" cy="1682.46" r="3.0" fill="#fff" stroke="#f00" stroke-width="1.85"/><circle cx="641.87" cy="1679.05" r="3.0" fill="#fff" stroke="#f00" stroke-width="1.85"/><circle cx="643.58" cy="1675.8" r="3.0" fill="#fff" stroke="#f00" stroke-width="1.85"/><circle cx="645.67" cy="1672.7" r="3.0" fill="#fff" stroke="#f00" stroke-width="1.85"/><circle cx="647.31" cy="1702.57" r="3.0" fill="#fff" stroke="#f00" stroke-width="1.85"/><circle cx="649.44" cy="1669.72" r="3.0" fill="#fff" stroke="#f00" stroke-width="1.85"/><circle cx="651.41" cy="1672.7" r="3.0" fill="#fff" stroke="#f00" stroke-width="1.85"/><circle cx="653.07" cy="1689.83" r="3.0" fill="#fff" stroke="#f00" stroke-width="1.85"/><circle cx="654.79" cy="1675.8" r="3.0" fill="#fff" stroke="#f00" stroke-width="1.85"/><circle cx="656.75" cy="1693.82" r="3.0" fill="#fff" stroke="#f00" stroke-width="1.85"/><circle cx="658.94" cy="1689.83" r="3.0" fill="#fff" stroke="#f00" stroke-width="1.85"/><circle cx="660.38" cy="1675.8" r="3.0" fill="#fff" stroke="#f00" stroke-width="1.85"/><circle cx="662.71" cy="1672.7" r="3.0" fill="#fff" stroke="#f00" stroke-width="1.85"/><circle cx="664.25" cy="1689.83" r="3.0" fill="#fff" stroke="#f00" stroke-width="1.85"/><circle cx="666.1" cy="1679.05" r="3.0" fill="#fff" stroke="#f00" stroke-width="1.85"/><circle cx="667.92" cy="1707.39" r="3.0" fill="#fff" stroke="#f00" stroke-width="1.85"/><circle cx="669.89" cy="1702.57" r="3.0" fill="#fff" stroke="#f00" stroke-width="1.85"/><circle cx="672.07" cy="1682.46" r="3.0" fill="#fff" stroke="#f00" stroke-width="1.85"/><circle cx="674.12" cy="1669.72" r="3.0" fill="#fff" stroke="#f00" stroke-width="1.85"/><circle cx="675.96" cy="1698.06" r="3.0" fill="#fff" stroke="#f00" stroke-width="1.85"/><circle cx="677.55" cy="1693.82" r="3.0" fill="#fff" stroke="#f00" stroke-width="1.85"/><circle cx="679.84" cy="1686.05" r="3.0" fill="#fff" stroke="#f00" stroke-width="1.85"/><circle cx="681.24" cy="1682.46" r="3.0" fill="#fff" stroke="#f00" stroke-width="1.85"/><circle cx="683.38" cy="1686.05" r="3.0" fill="#fff" stroke="#f00" stroke-width="1.85"/><circle cx="684.98" cy="1682.46" r="3.0" fill="#fff" stroke="#f00" stroke-width="1.85"/><circle cx="686.98" cy="1698.06" r="3.0" fill="#fff" stroke="#f00" stroke-width="1.85"/><circle cx="688.74" cy="1702.57" r="3.0" fill="#fff" stroke="#f00" stroke-width="1.85"/><circle cx="690.95" cy="1664.13" r="3.0" fill="#fff" stroke="#f00" stroke-width="1.85"/><circle cx="692.94" cy="1669.72" r="3.0" fill="#fff" stroke="#f00" stroke-width="1.85"/><circle cx="694.7" cy="1693.82" r="3.0" fill="#fff" stroke="#f00" stroke-width="1.85"/><circle cx="696.78" cy="1686.05" r="3.0" fill="#fff" stroke="#f00" stroke-width="1.85"/><circle cx="698.35" cy="1666.87" r="3.0" fill="#fff" stroke="#f00" stroke-width="1.85"/><circle cx="700.48" cy="1693.82" r="3.0" fill="#fff" stroke="#f00" stroke-width="1.85"/><circle cx="702.31" cy="1682.46" r="3.0" fill="#fff" stroke="#f00" stroke-width="1.85"/><circle cx="704.08" cy="1724.24" r="3.0" fill="#fff" stroke="#f00" stroke-width="1.85"/><circle cx="705.73" cy="1661.49" r="3.0" fill="#fff" stroke="#f00" stroke-width="1.85"/><circle cx="707.64" cy="1656.5" r="3.0" fill="#fff" stroke="#f00" stroke-width="1.85"/><circle cx="710.05" cy="1682.46" r="3.0" fill="#fff" stroke="#f00" stroke-width="1.85"/><circle cx="711.78" cy="1712.57" r="3.0" fill="#fff" stroke="#f00" stroke-width="1.85"/><circle cx="713.74" cy="1689.83" r="3.0" fill="#fff" stroke="#f00" stroke-width="1.85"/><circle cx="715.75" cy="1675.8" r="3.0" fill="#fff" stroke="#f00" stroke-width="1.85"/><circle cx="717.65" cy="1698.06" r="3.0" fill="#fff" stroke="#f00" stroke-width="1.85"/><circle cx="719.13" cy="1675.8" r="3.0" fill="#fff" stroke="#f00" stroke-width="1.85"/><circle cx="720.89" cy="1698.06" r="3.0" fill="#fff" stroke="#f00" stroke-width="1.85"/><circle cx="722.97" cy="1686.05" r="3.0" fill="#fff" stroke="#f00" stroke-width="1.85"/><circle cx="725.04" cy="1672.7" r="3.0" fill="#fff" stroke="#f00" stroke-width="1.85"/><circle cx="726.55" cy="1679.05" r="3.0" fill="#fff" stroke="#f00" stroke-width="1.85"/><circle cx="728.6" cy="1712.57" r="3.0" fill="#fff" stroke="#f00" stroke-width="1.85"/><circle cx="730.33" cy="1679.05" r="3.0" fill="#fff" stroke="#f00" stroke-width="1.85"/><circle cx="732.47" cy="1682.46" r="3.0" fill="#fff" stroke="#f00" stroke-width="1.85"/><circle cx="734.18" cy="1686.05" r="3.0" fill="#fff" stroke="#f00" stroke-width="1.85"/><circle cx="736.23" cy="1679.05" r="3.0" fill="#fff" stroke="#f00" stroke-width="1.85"/><circle cx="738.08" cy="1746.49" r="3.0" fill="#fff" stroke="#f00" stroke-width="1.85"/><circle cx="740.21" cy="1698.06" r="3.0" fill="#fff" stroke="#f00" stroke-width="1.85"/><circle cx="742.14" cy="1702.57" r="3.0" fill="#fff" stroke="#f00" stroke-width="1.85"/><circle cx="744.03" cy="1686.05" r="3.0" fill="#fff" stroke="#f00" stroke-width="1.85"/><circle cx="745.52" cy="1730.9" r="3.0" fill="#fff" stroke="#f00" stroke-width="1.85"/><circle cx="747.49" cy="1693.82" r="3.0" fill="#fff" stroke="#f00" stroke-width="1.85"/><circle cx="749.71" cy="1698.06" r="3.0" fill="#fff" stroke="#f00" stroke-width="1.85"/><circle cx="751.42" cy="1682.46" r="3.0" fill="#fff" stroke="#f00" stroke-width="1.85"/><circle cx="152.4" cy="1559.1" r="3.0" fill="#fff" stroke="#f00" stroke-width="1.85"/><circle cx="144.2" cy="1746.3" r="3.0" fill="#fff" stroke="#f00" stroke-width="1.85"/><circle cx="146" cy="1814.4" r="3.0" fill="#fff" stroke="#f00" stroke-width="1.85"/><circle cx="154.4" cy="1408.9" r="3.0" fill="#fff" stroke="#f00" stroke-width="1.85"/>
<path d="M155.74,1406.23L160.14,1413.78L151.34,1413.78Z" fill="#fff" stroke="#00f" stroke-width="1.85"/><path d="M157.81,1425.8L162.21,1433.35L153.41,1433.35Z" fill="#fff" stroke="#00f" stroke-width="1.85"/><path d="M159.4,1450.61L163.8,1458.16L155,1458.16Z" fill="#fff" stroke="#00f" stroke-width="1.85"/><path d="M161.73,1448.86L166.13,1456.41L157.33,1456.41Z" fill="#fff" stroke="#00f" stroke-width="1.85"/><path d="M163.41,1446.9L167.81,1454.45L159.01,1454.45Z" fill="#fff" stroke="#00f" stroke-width="1.85"/><path d="M165.22,1476.67L169.62,1484.22L160.82,1484.22Z" fill="#fff" stroke="#00f" stroke-width="1.85"/><path d="M167.08,1477.46L171.48,1485.01L162.68,1485.01Z" fill="#fff" stroke="#00f" stroke-width="1.85"/><path d="M169.31,1471.35L173.71,1478.9L164.91,1478.9Z" fill="#fff" stroke="#00f" stroke-width="1.85"/><path d="M171.14,1491.57L175.54,1499.12L166.74,1499.12Z" fill="#fff" stroke="#00f" stroke-width="1.85"/><path d="M172.91,1487.54L177.31,1495.09L168.51,1495.09Z" fill="#fff" stroke="#00f" stroke-width="1.85"/><path d="M175.08,1501.25L179.48,1508.8L170.68,1508.8Z" fill="#fff" stroke="#00f" stroke-width="1.85"/><path d="M176.81,1493.3L181.21,1500.85L172.41,1500.85Z" fill="#fff" stroke="#00f" stroke-width="1.85"/><path d="M178.36,1502.38L182.76,1509.93L173.96,1509.93Z" fill="#fff" stroke="#00f" stroke-width="1.85"/><path d="M180.41,1509.27L184.81,1516.82L176.01,1516.82Z" fill="#fff" stroke="#00f" stroke-width="1.85"/><path d="M182.57,1513.82L186.97,1521.37L178.17,1521.37Z" fill="#fff" stroke="#00f" stroke-width="1.85"/><path d="M184.55,1498.77L188.95,1506.32L180.15,1506.32Z" fill="#fff" stroke="#00f" stroke-width="1.85"/><path d="M186.35,1512.16L190.75,1519.71L181.95,1519.71Z" fill="#fff" stroke="#00f" stroke-width="1.85"/><path d="M188,1524.71L192.4,1532.26L183.6,1532.26Z" fill="#fff" stroke="#00f" stroke-width="1.85"/><path d="M189.87,1525.9L194.27,1533.45L185.47,1533.45Z" fill="#fff" stroke="#00f" stroke-width="1.85"/><path d="M191.87,1518.33L196.27,1525.88L187.47,1525.88Z" fill="#fff" stroke="#00f" stroke-width="1.85"/><path d="M193.7,1530.43L198.1,1537.98L189.3,1537.98Z" fill="#fff" stroke="#00f" stroke-width="1.85"/><path d="M195.82,1532.16L200.22,1539.71L191.42,1539.71Z" fill="#fff" stroke="#00f" stroke-width="1.85"/><path d="M197.75,1528.75L202.15,1536.3L193.35,1536.3Z" fill="#fff" stroke="#00f" stroke-width="1.85"/><path d="M199.09,1541.49L203.49,1549.04L194.69,1549.04Z" fill="#fff" stroke="#00f" stroke-width="1.85"/><path d="M201.06,1530.43L205.46,1537.98L196.66,1537.98Z" fill="#fff" stroke="#00f" stroke-width="1.85"/><path d="M203.07,1530.86L207.47,1538.41L198.67,1538.41Z" fill="#fff" stroke="#00f" stroke-width="1.85"/><path d="M204.92,1549.41L209.32,1556.96L200.52,1556.96Z" fill="#fff" stroke="#00f" stroke-width="1.85"/><path d="M207.02,1535.74L211.42,1543.29L202.62,1543.29Z" fill="#fff" stroke="#00f" stroke-width="1.85"/><path d="M208.93,1540.01L213.33,1547.56L204.53,1547.56Z" fill="#fff" stroke="#00f" stroke-width="1.85"/><path d="M210.42,1558.34L214.82,1565.89L206.02,1565.89Z" fill="#fff" stroke="#00f" stroke-width="1.85"/><path d="M212.84,1552.84L217.24,1560.39L208.44,1560.39Z" fill="#fff" stroke="#00f" stroke-width="1.85"/><path d="M214.46,1569.32L218.86,1576.87L210.06,1576.87Z" fill="#fff" stroke="#00f" stroke-width="1.85"/><path d="M216.21,1545.6L220.61,1553.15L211.81,1553.15Z" fill="#fff" stroke="#00f" stroke-width="1.85"/><path d="M218.18,1560.27L222.58,1567.82L213.78,1567.82Z" fill="#fff" stroke="#00f" stroke-width="1.85"/><path d="M219.88,1575.54L224.28,1583.09L215.48,1583.09Z" fill="#fff" stroke="#00f" stroke-width="1.85"/><path d="M222.2,1571.59L226.6,1579.14L217.8,1579.14Z" fill="#fff" stroke="#00f" stroke-width="1.85"/><path d="M224.14,1558.98L228.54,1566.53L219.74,1566.53Z" fill="#fff" stroke="#00f" stroke-width="1.85"/><path d="M225.72,1578.02L230.12,1585.57L221.32,1585.57Z" fill="#fff" stroke="#00f" stroke-width="1.85"/><path d="M227.62,1548.85L232.02,1556.4L223.22,1556.4Z" fill="#fff" stroke="#00f" stroke-width="1.85"/><path d="M229.78,1555.84L234.18,1563.39L225.38,1563.39Z" fill="#fff" stroke="#00f" stroke-width="1.85"/><path d="M231.27,1555.23L235.67,1562.78L226.87,1562.78Z" fill="#fff" stroke="#00f" stroke-width="1.85"/><path d="M233.21,1562.26L237.61,1569.81L228.81,1569.81Z" fill="#fff" stroke="#00f" stroke-width="1.85"/><path d="M235.4,1594.04L239.8,1601.59L231,1601.59Z" fill="#fff" stroke="#00f" stroke-width="1.85"/><path d="M236.99,1575.54L241.39,1583.09L232.59,1583.09Z" fill="#fff" stroke="#00f" stroke-width="1.85"/><path d="M239.22,1558.34L243.62,1565.89L234.82,1565.89Z" fill="#fff" stroke="#00f" stroke-width="1.85"/><path d="M241.15,1563.62L245.55,1571.17L236.75,1571.17Z" fill="#fff" stroke="#00f" stroke-width="1.85"/><path d="M243.02,1586.99L247.42,1594.54L238.62,1594.54Z" fill="#fff" stroke="#00f" stroke-width="1.85"/><path d="M244.79,1591.95L249.19,1599.5L240.39,1599.5Z" fill="#fff" stroke="#00f" stroke-width="1.85"/><path d="M246.8,1600.7L251.2,1608.25L242.4,1608.25Z" fill="#fff" stroke="#00f" stroke-width="1.85"/><path d="M248.63,1586.04L253.03,1593.59L244.23,1593.59Z" fill="#fff" stroke="#00f" stroke-width="1.85"/><path d="M250.54,1565L254.94,1572.55L246.14,1572.55Z" fill="#fff" stroke="#00f" stroke-width="1.85"/><path d="M252.01,1590.93L256.41,1598.48L247.61,1598.48Z" fill="#fff" stroke="#00f" stroke-width="1.85"/><path d="M254.21,1597.29L258.61,1604.84L249.81,1604.84Z" fill="#fff" stroke="#00f" stroke-width="1.85"/><path d="M256.35,1585.1L260.75,1592.65L251.95,1592.65Z" fill="#fff" stroke="#00f" stroke-width="1.85"/><path d="M258.2,1606.78L262.6,1614.33L253.8,1614.33Z" fill="#fff" stroke="#00f" stroke-width="1.85"/><path d="M259.76,1617.76L264.16,1625.31L255.36,1625.31Z" fill="#fff" stroke="#00f" stroke-width="1.85"/><path d="M261.47,1613.44L265.87,1620.99L257.07,1620.99Z" fill="#fff" stroke="#00f" stroke-width="1.85"/><path d="M263.71,1605.52L268.11,1613.07L259.31,1613.07Z" fill="#fff" stroke="#00f" stroke-width="1.85"/><path d="M265.56,1592.98L269.96,1600.53L261.16,1600.53Z" fill="#fff" stroke="#00f" stroke-width="1.85"/><path d="M267.47,1595.1L271.87,1602.65L263.07,1602.65Z" fill="#fff" stroke="#00f" stroke-width="1.85"/><path d="M269.21,1573.93L273.61,1581.48L264.81,1581.48Z" fill="#fff" stroke="#00f" stroke-width="1.85"/><path d="M270.99,1592.98L275.39,1600.53L266.59,1600.53Z" fill="#fff" stroke="#00f" stroke-width="1.85"/><path d="M273.18,1614.85L277.58,1622.4L268.78,1622.4Z" fill="#fff" stroke="#00f" stroke-width="1.85"/><path d="M274.86,1586.99L279.26,1594.54L270.46,1594.54Z" fill="#fff" stroke="#00f" stroke-width="1.85"/><path d="M277.14,1610.7L281.54,1618.25L272.74,1618.25Z" fill="#fff" stroke="#00f" stroke-width="1.85"/><path d="M278.74,1599.54L283.14,1607.09L274.34,1607.09Z" fill="#fff" stroke="#00f" stroke-width="1.85"/><path d="M280.4,1591.95L284.8,1599.5L276,1599.5Z" fill="#fff" stroke="#00f" stroke-width="1.85"/><path d="M282.74,1606.78L287.14,1614.33L278.34,1614.33Z" fill="#fff" stroke="#00f" stroke-width="1.85"/><path d="M284.42,1599.54L288.82,1607.09L280.02,1607.09Z" fill="#fff" stroke="#00f" stroke-width="1.85"/><path d="M286.62,1612.05L291.02,1619.6L282.22,1619.6Z" fill="#fff" stroke="#00f" stroke-width="1.85"/><path d="M288.06,1606.78L292.46,1614.33L283.66,1614.33Z" fill="#fff" stroke="#00f" stroke-width="1.85"/><path d="M290.16,1614.85L294.56,1622.4L285.76,1622.4Z" fill="#fff" stroke="#00f" stroke-width="1.85"/><path d="M292.05,1623.97L296.45,1631.52L287.65,1631.52Z" fill="#fff" stroke="#00f" stroke-width="1.85"/><path d="M293.96,1614.85L298.36,1622.4L289.56,1622.4Z" fill="#fff" stroke="#00f" stroke-width="1.85"/><path d="M295.96,1614.85L300.36,1622.4L291.56,1622.4Z" fill="#fff" stroke="#00f" stroke-width="1.85"/><path d="M297.73,1630.8L302.13,1638.35L293.33,1638.35Z" fill="#fff" stroke="#00f" stroke-width="1.85"/><path d="M299.6,1609.36L304,1616.91L295.2,1616.91Z" fill="#fff" stroke="#00f" stroke-width="1.85"/><path d="M301.37,1601.87L305.77,1609.42L296.97,1609.42Z" fill="#fff" stroke="#00f" stroke-width="1.85"/><path d="M303.07,1632.61L307.47,1640.16L298.67,1640.16Z" fill="#fff" stroke="#00f" stroke-width="1.85"/><path d="M305.08,1599.54L309.48,1607.09L300.68,1607.09Z" fill="#fff" stroke="#00f" stroke-width="1.85"/><path d="M306.87,1622.37L311.27,1629.92L302.47,1629.92Z" fill="#fff" stroke="#00f" stroke-width="1.85"/><path d="M309.26,1614.85L313.66,1622.4L304.86,1622.4Z" fill="#fff" stroke="#00f" stroke-width="1.85"/><path d="M310.77,1634.48L315.17,1642.03L306.37,1642.03Z" fill="#fff" stroke="#00f" stroke-width="1.85"/><path d="M312.72,1623.97L317.12,1631.52L308.32,1631.52Z" fill="#fff" stroke="#00f" stroke-width="1.85"/><path d="M314.73,1603.06L319.13,1610.61L310.33,1610.61Z" fill="#fff" stroke="#00f" stroke-width="1.85"/><path d="M316.59,1610.7L320.99,1618.25L312.19,1618.25Z" fill="#fff" stroke="#00f" stroke-width="1.85"/><path d="M318.19,1616.29L322.59,1623.84L313.79,1623.84Z" fill="#fff" stroke="#00f" stroke-width="1.85"/><path d="M320.58,1609.36L324.98,1616.91L316.18,1616.91Z" fill="#fff" stroke="#00f" stroke-width="1.85"/><path d="M322.27,1627.3L326.67,1634.85L317.87,1634.85Z" fill="#fff" stroke="#00f" stroke-width="1.85"/><path d="M324.2,1629.03L328.6,1636.58L319.8,1636.58Z" fill="#fff" stroke="#00f" stroke-width="1.85"/><path d="M325.97,1623.97L330.37,1631.52L321.57,1631.52Z" fill="#fff" stroke="#00f" stroke-width="1.85"/><path d="M327.92,1630.8L332.32,1638.35L323.52,1638.35Z" fill="#fff" stroke="#00f" stroke-width="1.85"/><path d="M329.55,1623.97L333.95,1631.52L325.15,1631.52Z" fill="#fff" stroke="#00f" stroke-width="1.85"/><path d="M331.71,1634.48L336.11,1642.03L327.31,1642.03Z" fill="#fff" stroke="#00f" stroke-width="1.85"/><path d="M333.35,1636.39L337.75,1643.94L328.95,1643.94Z" fill="#fff" stroke="#00f" stroke-width="1.85"/><path d="M335.6,1638.36L340,1645.91L331.2,1645.91Z" fill="#fff" stroke="#00f" stroke-width="1.85"/><path d="M337.65,1630.8L342.05,1638.35L333.25,1638.35Z" fill="#fff" stroke="#00f" stroke-width="1.85"/><path d="M339.06,1620.8L343.46,1628.35L334.66,1628.35Z" fill="#fff" stroke="#00f" stroke-width="1.85"/><path d="M341.27,1646.84L345.67,1654.39L336.87,1654.39Z" fill="#fff" stroke="#00f" stroke-width="1.85"/><path d="M343.1,1617.76L347.5,1625.31L338.7,1625.31Z" fill="#fff" stroke="#00f" stroke-width="1.85"/><path d="M344.66,1605.52L349.06,1613.07L340.26,1613.07Z" fill="#fff" stroke="#00f" stroke-width="1.85"/><path d="M346.72,1640.39L351.12,1647.94L342.32,1647.94Z" fill="#fff" stroke="#00f" stroke-width="1.85"/><path d="M348.8,1646.84L353.2,1654.39L344.4,1654.39Z" fill="#fff" stroke="#00f" stroke-width="1.85"/><path d="M350.46,1623.97L354.86,1631.52L346.06,1631.52Z" fill="#fff" stroke="#00f" stroke-width="1.85"/><path d="M352.33,1612.05L356.73,1619.6L347.93,1619.6Z" fill="#fff" stroke="#00f" stroke-width="1.85"/><path d="M354.2,1659.13L358.6,1666.68L349.8,1666.68Z" fill="#fff" stroke="#00f" stroke-width="1.85"/><path d="M356.44,1640.39L360.84,1647.94L352.04,1647.94Z" fill="#fff" stroke="#00f" stroke-width="1.85"/><path d="M357.98,1656.49L362.38,1664.04L353.58,1664.04Z" fill="#fff" stroke="#00f" stroke-width="1.85"/><path d="M359.93,1632.61L364.33,1640.16L355.53,1640.16Z" fill="#fff" stroke="#00f" stroke-width="1.85"/><path d="M361.85,1640.39L366.25,1647.94L357.45,1647.94Z" fill="#fff" stroke="#00f" stroke-width="1.85"/><path d="M363.85,1649.13L368.25,1656.68L359.45,1656.68Z" fill="#fff" stroke="#00f" stroke-width="1.85"/><path d="M365.69,1623.97L370.09,1631.52L361.29,1631.52Z" fill="#fff" stroke="#00f" stroke-width="1.85"/><path d="M367.52,1644.62L371.92,1652.17L363.12,1652.17Z" fill="#fff" stroke="#00f" stroke-width="1.85"/><path d="M369.66,1625.62L374.06,1633.17L365.26,1633.17Z" fill="#fff" stroke="#00f" stroke-width="1.85"/><path d="M371.54,1636.39L375.94,1643.94L367.14,1643.94Z" fill="#fff" stroke="#00f" stroke-width="1.85"/><path d="M373.3,1625.62L377.7,1633.17L368.9,1633.17Z" fill="#fff" stroke="#00f" stroke-width="1.85"/><path d="M375.24,1661.87L379.64,1669.42L370.84,1669.42Z" fill="#fff" stroke="#00f" stroke-width="1.85"/><path d="M377,1649.13L381.4,1656.68L372.6,1656.68Z" fill="#fff" stroke="#00f" stroke-width="1.85"/><path d="M379.08,1661.87L383.48,1669.42L374.68,1669.42Z" fill="#fff" stroke="#00f" stroke-width="1.85"/><path d="M381.15,1642.47L385.55,1650.02L376.75,1650.02Z" fill="#fff" stroke="#00f" stroke-width="1.85"/><path d="M382.87,1644.62L387.27,1652.17L378.47,1652.17Z" fill="#fff" stroke="#00f" stroke-width="1.85"/><path d="M384.88,1661.87L389.28,1669.42L380.48,1669.42Z" fill="#fff" stroke="#00f" stroke-width="1.85"/><path d="M386.37,1653.95L390.77,1661.5L381.97,1661.5Z" fill="#fff" stroke="#00f" stroke-width="1.85"/><path d="M388.53,1664.72L392.93,1672.27L384.13,1672.27Z" fill="#fff" stroke="#00f" stroke-width="1.85"/><path d="M390.14,1693.06L394.54,1700.61L385.74,1700.61Z" fill="#fff" stroke="#00f" stroke-width="1.85"/><path d="M392.46,1638.36L396.86,1645.91L388.06,1645.91Z" fill="#fff" stroke="#00f" stroke-width="1.85"/><path d="M394.34,1659.13L398.74,1666.68L389.94,1666.68Z" fill="#fff" stroke="#00f" stroke-width="1.85"/><path d="M395.89,1656.49L400.29,1664.04L391.49,1664.04Z" fill="#fff" stroke="#00f" stroke-width="1.85"/><path d="M397.84,1674.05L402.24,1681.6L393.44,1681.6Z" fill="#fff" stroke="#00f" stroke-width="1.85"/><path d="M399.64,1646.84L404.04,1654.39L395.24,1654.39Z" fill="#fff" stroke="#00f" stroke-width="1.85"/><path d="M401.78,1670.8L406.18,1678.35L397.38,1678.35Z" fill="#fff" stroke="#00f" stroke-width="1.85"/><path d="M403.51,1670.8L407.91,1678.35L399.11,1678.35Z" fill="#fff" stroke="#00f" stroke-width="1.85"/><path d="M405.48,1656.49L409.88,1664.04L401.08,1664.04Z" fill="#fff" stroke="#00f" stroke-width="1.85"/><path d="M407.38,1659.13L411.78,1666.68L402.98,1666.68Z" fill="#fff" stroke="#00f" stroke-width="1.85"/><path d="M409.39,1693.06L413.79,1700.61L404.99,1700.61Z" fill="#fff" stroke="#00f" stroke-width="1.85"/><path d="M411.27,1653.95L415.67,1661.5L406.87,1661.5Z" fill="#fff" stroke="#00f" stroke-width="1.85"/><path d="M413.13,1677.46L417.53,1685.01L408.73,1685.01Z" fill="#fff" stroke="#00f" stroke-width="1.85"/><path d="M415.1,1642.47L419.5,1650.02L410.7,1650.02Z" fill="#fff" stroke="#00f" stroke-width="1.85"/><path d="M416.72,1649.13L421.12,1656.68L412.32,1656.68Z" fill="#fff" stroke="#00f" stroke-width="1.85"/><path d="M418.57,1656.49L422.97,1664.04L414.17,1664.04Z" fill="#fff" stroke="#00f" stroke-width="1.85"/><path d="M420.41,1656.49L424.81,1664.04L416.01,1664.04Z" fill="#fff" stroke="#00f" stroke-width="1.85"/><path d="M422.34,1653.95L426.74,1661.5L417.94,1661.5Z" fill="#fff" stroke="#00f" stroke-width="1.85"/><path d="M424.33,1644.62L428.73,1652.17L419.93,1652.17Z" fill="#fff" stroke="#00f" stroke-width="1.85"/><path d="M426.49,1713.16L430.89,1720.71L422.09,1720.71Z" fill="#fff" stroke="#00f" stroke-width="1.85"/><path d="M428.01,1688.82L432.41,1696.37L423.61,1696.37Z" fill="#fff" stroke="#00f" stroke-width="1.85"/><path d="M430.11,1661.87L434.51,1669.42L425.71,1669.42Z" fill="#fff" stroke="#00f" stroke-width="1.85"/><path d="M432.02,1640.39L436.42,1647.94L427.62,1647.94Z" fill="#fff" stroke="#00f" stroke-width="1.85"/><path d="M433.71,1677.46L438.11,1685.01L429.31,1685.01Z" fill="#fff" stroke="#00f" stroke-width="1.85"/><path d="M435.83,1684.83L440.23,1692.38L431.43,1692.38Z" fill="#fff" stroke="#00f" stroke-width="1.85"/><path d="M437.8,1667.7L442.2,1675.25L433.4,1675.25Z" fill="#fff" stroke="#00f" stroke-width="1.85"/><path d="M439.27,1634.48L443.67,1642.03L434.87,1642.03Z" fill="#fff" stroke="#00f" stroke-width="1.85"/><path d="M441.27,1656.49L445.67,1664.04L436.87,1664.04Z" fill="#fff" stroke="#00f" stroke-width="1.85"/><path d="M443.45,1688.82L447.85,1696.37L439.05,1696.37Z" fill="#fff" stroke="#00f" stroke-width="1.85"/><path d="M444.92,1688.82L449.32,1696.37L440.52,1696.37Z" fill="#fff" stroke="#00f" stroke-width="1.85"/><path d="M446.78,1681.05L451.18,1688.6L442.38,1688.6Z" fill="#fff" stroke="#00f" stroke-width="1.85"/><path d="M448.74,1674.05L453.14,1681.6L444.34,1681.6Z" fill="#fff" stroke="#00f" stroke-width="1.85"/><path d="M450.95,1674.05L455.35,1681.6L446.55,1681.6Z" fill="#fff" stroke="#00f" stroke-width="1.85"/><path d="M452.59,1688.82L456.99,1696.37L448.19,1696.37Z" fill="#fff" stroke="#00f" stroke-width="1.85"/><path d="M454.82,1670.8L459.22,1678.35L450.42,1678.35Z" fill="#fff" stroke="#00f" stroke-width="1.85"/><path d="M456.66,1719.24L461.06,1726.79L452.26,1726.79Z" fill="#fff" stroke="#00f" stroke-width="1.85"/><path d="M458.29,1707.57L462.69,1715.12L453.89,1715.12Z" fill="#fff" stroke="#00f" stroke-width="1.85"/><path d="M459.97,1659.13L464.37,1666.68L455.57,1666.68Z" fill="#fff" stroke="#00f" stroke-width="1.85"/><path d="M461.89,1707.57L466.29,1715.12L457.49,1715.12Z" fill="#fff" stroke="#00f" stroke-width="1.85"/><path d="M463.79,1664.72L468.19,1672.27L459.39,1672.27Z" fill="#fff" stroke="#00f" stroke-width="1.85"/><path d="M466.03,1707.57L470.43,1715.12L461.63,1715.12Z" fill="#fff" stroke="#00f" stroke-width="1.85"/><path d="M468.04,1684.83L472.44,1692.38L463.64,1692.38Z" fill="#fff" stroke="#00f" stroke-width="1.85"/><path d="M469.5,1697.57L473.9,1705.12L465.1,1705.12Z" fill="#fff" stroke="#00f" stroke-width="1.85"/><path d="M471.78,1693.06L476.18,1700.61L467.38,1700.61Z" fill="#fff" stroke="#00f" stroke-width="1.85"/><path d="M473.73,1661.87L478.13,1669.42L469.33,1669.42Z" fill="#fff" stroke="#00f" stroke-width="1.85"/><path d="M475.29,1677.46L479.69,1685.01L470.89,1685.01Z" fill="#fff" stroke="#00f" stroke-width="1.85"/><path d="M477.55,1681.05L481.95,1688.6L473.15,1688.6Z" fill="#fff" stroke="#00f" stroke-width="1.85"/><path d="M479.09,1670.8L483.49,1678.35L474.69,1678.35Z" fill="#fff" stroke="#00f" stroke-width="1.85"/><path d="M480.82,1684.83L485.22,1692.38L476.42,1692.38Z" fill="#fff" stroke="#00f" stroke-width="1.85"/><path d="M482.67,1661.87L487.07,1669.42L478.27,1669.42Z" fill="#fff" stroke="#00f" stroke-width="1.85"/><path d="M484.9,1646.84L489.3,1654.39L480.5,1654.39Z" fill="#fff" stroke="#00f" stroke-width="1.85"/><path d="M486.43,1719.24L490.83,1726.79L482.03,1726.79Z" fill="#fff" stroke="#00f" stroke-width="1.85"/><path d="M488.83,1684.83L493.23,1692.38L484.43,1692.38Z" fill="#fff" stroke="#00f" stroke-width="1.85"/><path d="M490.4,1688.82L494.8,1696.37L486,1696.37Z" fill="#fff" stroke="#00f" stroke-width="1.85"/><path d="M492.2,1684.83L496.6,1692.38L487.8,1692.38Z" fill="#fff" stroke="#00f" stroke-width="1.85"/><path d="M494.14,1693.06L498.54,1700.61L489.74,1700.61Z" fill="#fff" stroke="#00f" stroke-width="1.85"/><path d="M496.16,1674.05L500.56,1681.6L491.76,1681.6Z" fill="#fff" stroke="#00f" stroke-width="1.85"/><path d="M498.1,1702.39L502.5,1709.94L493.7,1709.94Z" fill="#fff" stroke="#00f" stroke-width="1.85"/><path d="M499.72,1713.16L504.12,1720.71L495.32,1720.71Z" fill="#fff" stroke="#00f" stroke-width="1.85"/><path d="M501.65,1684.83L506.05,1692.38L497.25,1692.38Z" fill="#fff" stroke="#00f" stroke-width="1.85"/><path d="M503.84,1707.57L508.24,1715.12L499.44,1715.12Z" fill="#fff" stroke="#00f" stroke-width="1.85"/><path d="M505.77,1733.26L510.17,1740.81L501.37,1740.81Z" fill="#fff" stroke="#00f" stroke-width="1.85"/><path d="M507.24,1677.46L511.64,1685.01L502.84,1685.01Z" fill="#fff" stroke="#00f" stroke-width="1.85"/><path d="M509.14,1688.82L513.54,1696.37L504.74,1696.37Z" fill="#fff" stroke="#00f" stroke-width="1.85"/><path d="M511.19,1677.46L515.59,1685.01L506.79,1685.01Z" fill="#fff" stroke="#00f" stroke-width="1.85"/><path d="M513.1,1667.7L517.5,1675.25L508.7,1675.25Z" fill="#fff" stroke="#00f" stroke-width="1.85"/><path d="M514.97,1664.72L519.37,1672.27L510.57,1672.27Z" fill="#fff" stroke="#00f" stroke-width="1.85"/><path d="M517.26,1667.7L521.66,1675.25L512.86,1675.25Z" fill="#fff" stroke="#00f" stroke-width="1.85"/><path d="M518.58,1681.05L522.98,1688.6L514.18,1688.6Z" fill="#fff" stroke="#00f" stroke-width="1.85"/><path d="M520.88,1670.8L525.28,1678.35L516.48,1678.35Z" fill="#fff" stroke="#00f" stroke-width="1.85"/><path d="M522.68,1693.06L527.08,1700.61L518.28,1700.61Z" fill="#fff" stroke="#00f" stroke-width="1.85"/><path d="M524.55,1719.24L528.95,1726.79L520.15,1726.79Z" fill="#fff" stroke="#00f" stroke-width="1.85"/><path d="M526.43,1713.16L530.83,1720.71L522.03,1720.71Z" fill="#fff" stroke="#00f" stroke-width="1.85"/><path d="M528.24,1688.82L532.64,1696.37L523.84,1696.37Z" fill="#fff" stroke="#00f" stroke-width="1.85"/><path d="M530.5,1677.46L534.9,1685.01L526.1,1685.01Z" fill="#fff" stroke="#00f" stroke-width="1.85"/><path d="M531.93,1713.16L536.33,1720.71L527.53,1720.71Z" fill="#fff" stroke="#00f" stroke-width="1.85"/><path d="M533.94,1697.57L538.34,1705.12L529.54,1705.12Z" fill="#fff" stroke="#00f" stroke-width="1.85"/><path d="M535.76,1688.82L540.16,1696.37L531.36,1696.37Z" fill="#fff" stroke="#00f" stroke-width="1.85"/><path d="M537.7,1702.39L542.1,1709.94L533.3,1709.94Z" fill="#fff" stroke="#00f" stroke-width="1.85"/><path d="M539.48,1670.8L543.88,1678.35L535.08,1678.35Z" fill="#fff" stroke="#00f" stroke-width="1.85"/><path d="M541.36,1677.46L545.76,1685.01L536.96,1685.01Z" fill="#fff" stroke="#00f" stroke-width="1.85"/><path d="M543.29,1697.57L547.69,1705.12L538.89,1705.12Z" fill="#fff" stroke="#00f" stroke-width="1.85"/><path d="M545.31,1688.82L549.71,1696.37L540.91,1696.37Z" fill="#fff" stroke="#00f" stroke-width="1.85"/><path d="M547.51,1667.7L551.91,1675.25L543.11,1675.25Z" fill="#fff" stroke="#00f" stroke-width="1.85"/><path d="M549.02,1741.49L553.42,1749.04L544.62,1749.04Z" fill="#fff" stroke="#00f" stroke-width="1.85"/><path d="M551.05,1733.26L555.45,1740.81L546.65,1740.81Z" fill="#fff" stroke="#00f" stroke-width="1.85"/><path d="M553.09,1707.57L557.49,1715.12L548.69,1715.12Z" fill="#fff" stroke="#00f" stroke-width="1.85"/><path d="M554.9,1693.06L559.3,1700.61L550.5,1700.61Z" fill="#fff" stroke="#00f" stroke-width="1.85"/><path d="M556.47,1693.06L560.87,1700.61L552.07,1700.61Z" fill="#fff" stroke="#00f" stroke-width="1.85"/><path d="M558.43,1688.82L562.83,1696.37L554.03,1696.37Z" fill="#fff" stroke="#00f" stroke-width="1.85"/><path d="M560.44,1670.8L564.84,1678.35L556.04,1678.35Z" fill="#fff" stroke="#00f" stroke-width="1.85"/><path d="M562.24,1693.06L566.64,1700.61L557.84,1700.61Z" fill="#fff" stroke="#00f" stroke-width="1.85"/><path d="M564.04,1688.82L568.44,1696.37L559.64,1696.37Z" fill="#fff" stroke="#00f" stroke-width="1.85"/><path d="M566.02,1670.8L570.42,1678.35L561.62,1678.35Z" fill="#fff" stroke="#00f" stroke-width="1.85"/><path d="M567.84,1677.46L572.24,1685.01L563.44,1685.01Z" fill="#fff" stroke="#00f" stroke-width="1.85"/><path d="M570.15,1681.05L574.55,1688.6L565.75,1688.6Z" fill="#fff" stroke="#00f" stroke-width="1.85"/><path d="M571.69,1725.9L576.09,1733.45L567.29,1733.45Z" fill="#fff" stroke="#00f" stroke-width="1.85"/><path d="M573.43,1733.26L577.83,1740.81L569.03,1740.81Z" fill="#fff" stroke="#00f" stroke-width="1.85"/><path d="M575.4,1707.57L579.8,1715.12L571,1715.12Z" fill="#fff" stroke="#00f" stroke-width="1.85"/><path d="M577.66,1667.7L582.06,1675.25L573.26,1675.25Z" fill="#fff" stroke="#00f" stroke-width="1.85"/><path d="M579.11,1681.05L583.51,1688.6L574.71,1688.6Z" fill="#fff" stroke="#00f" stroke-width="1.85"/><path d="M580.98,1677.46L585.38,1685.01L576.58,1685.01Z" fill="#fff" stroke="#00f" stroke-width="1.85"/><path d="M583.32,1697.57L587.72,1705.12L578.92,1705.12Z" fill="#fff" stroke="#00f" stroke-width="1.85"/><path d="M584.83,1733.26L589.23,1740.81L580.43,1740.81Z" fill="#fff" stroke="#00f" stroke-width="1.85"/><path d="M587.01,1659.13L591.41,1666.68L582.61,1666.68Z" fill="#fff" stroke="#00f" stroke-width="1.85"/><path d="M588.89,1674.05L593.29,1681.6L584.49,1681.6Z" fill="#fff" stroke="#00f" stroke-width="1.85"/><path d="M590.54,1713.16L594.94,1720.71L586.14,1720.71Z" fill="#fff" stroke="#00f" stroke-width="1.85"/><path d="M592.43,1719.24L596.83,1726.79L588.03,1726.79Z" fill="#fff" stroke="#00f" stroke-width="1.85"/><path d="M594.72,1688.82L599.12,1696.37L590.32,1696.37Z" fill="#fff" stroke="#00f" stroke-width="1.85"/><path d="M596.67,1707.57L601.07,1715.12L592.27,1715.12Z" fill="#fff" stroke="#00f" stroke-width="1.85"/><path d="M598.46,1719.24L602.86,1726.79L594.06,1726.79Z" fill="#fff" stroke="#00f" stroke-width="1.85"/><path d="M599.89,1725.9L604.29,1733.45L595.49,1733.45Z" fill="#fff" stroke="#00f" stroke-width="1.85"/><path d="M602.01,1702.39L606.41,1709.94L597.61,1709.94Z" fill="#fff" stroke="#00f" stroke-width="1.85"/><path d="M604.18,1719.24L608.58,1726.79L599.78,1726.79Z" fill="#fff" stroke="#00f" stroke-width="1.85"/><path d="M605.87,1741.49L610.27,1749.04L601.47,1749.04Z" fill="#fff" stroke="#00f" stroke-width="1.85"/><path d="M607.8,1719.24L612.2,1726.79L603.4,1726.79Z" fill="#fff" stroke="#00f" stroke-width="1.85"/><path d="M609.73,1697.57L614.13,1705.12L605.33,1705.12Z" fill="#fff" stroke="#00f" stroke-width="1.85"/><path d="M611.24,1702.39L615.64,1709.94L606.84,1709.94Z" fill="#fff" stroke="#00f" stroke-width="1.85"/><path d="M613.31,1684.83L617.71,1692.38L608.91,1692.38Z" fill="#fff" stroke="#00f" stroke-width="1.85"/><path d="M615.18,1713.16L619.58,1720.71L610.78,1720.71Z" fill="#fff" stroke="#00f" stroke-width="1.85"/><path d="M616.94,1677.46L621.34,1685.01L612.54,1685.01Z" fill="#fff" stroke="#00f" stroke-width="1.85"/><path d="M619.26,1707.57L623.66,1715.12L614.86,1715.12Z" fill="#fff" stroke="#00f" stroke-width="1.85"/><path d="M621.07,1702.39L625.47,1709.94L616.67,1709.94Z" fill="#fff" stroke="#00f" stroke-width="1.85"/><path d="M622.82,1725.9L627.22,1733.45L618.42,1733.45Z" fill="#fff" stroke="#00f" stroke-width="1.85"/><path d="M624.86,1693.06L629.26,1700.61L620.46,1700.61Z" fill="#fff" stroke="#00f" stroke-width="1.85"/><path d="M626.84,1693.06L631.24,1700.61L622.44,1700.61Z" fill="#fff" stroke="#00f" stroke-width="1.85"/><path d="M628.6,1741.49L633,1749.04L624.2,1749.04Z" fill="#fff" stroke="#00f" stroke-width="1.85"/><path d="M630.33,1761.6L634.73,1769.15L625.93,1769.15Z" fill="#fff" stroke="#00f" stroke-width="1.85"/><path d="M632.22,1693.06L636.62,1700.61L627.82,1700.61Z" fill="#fff" stroke="#00f" stroke-width="1.85"/><path d="M634.45,1713.16L638.85,1720.71L630.05,1720.71Z" fill="#fff" stroke="#00f" stroke-width="1.85"/><path d="M636.06,1750.82L640.46,1758.37L631.66,1758.37Z" fill="#fff" stroke="#00f" stroke-width="1.85"/><path d="M638.22,1719.24L642.62,1726.79L633.82,1726.79Z" fill="#fff" stroke="#00f" stroke-width="1.85"/><path d="M640.05,1713.16L644.45,1720.71L635.65,1720.71Z" fill="#fff" stroke="#00f" stroke-width="1.85"/><path d="M641.75,1670.8L646.15,1678.35L637.35,1678.35Z" fill="#fff" stroke="#00f" stroke-width="1.85"/><path d="M643.74,1713.16L648.14,1720.71L639.34,1720.71Z" fill="#fff" stroke="#00f" stroke-width="1.85"/><path d="M645.51,1713.16L649.91,1720.71L641.11,1720.71Z" fill="#fff" stroke="#00f" stroke-width="1.85"/><path d="M647.32,1693.06L651.72,1700.61L642.92,1700.61Z" fill="#fff" stroke="#00f" stroke-width="1.85"/><path d="M649.41,1688.82L653.81,1696.37L645.01,1696.37Z" fill="#fff" stroke="#00f" stroke-width="1.85"/><path d="M651.21,1702.39L655.61,1709.94L646.81,1709.94Z" fill="#fff" stroke="#00f" stroke-width="1.85"/><path d="M653.1,1733.26L657.5,1740.81L648.7,1740.81Z" fill="#fff" stroke="#00f" stroke-width="1.85"/><path d="M655.21,1713.16L659.61,1720.71L650.81,1720.71Z" fill="#fff" stroke="#00f" stroke-width="1.85"/><path d="M656.82,1733.26L661.22,1740.81L652.42,1740.81Z" fill="#fff" stroke="#00f" stroke-width="1.85"/><path d="M658.92,1688.82L663.32,1696.37L654.52,1696.37Z" fill="#fff" stroke="#00f" stroke-width="1.85"/><path d="M660.87,1733.26L665.27,1740.81L656.47,1740.81Z" fill="#fff" stroke="#00f" stroke-width="1.85"/><path d="M662.55,1707.57L666.95,1715.12L658.15,1715.12Z" fill="#fff" stroke="#00f" stroke-width="1.85"/><path d="M664.73,1697.57L669.13,1705.12L660.33,1705.12Z" fill="#fff" stroke="#00f" stroke-width="1.85"/><path d="M666.54,1707.57L670.94,1715.12L662.14,1715.12Z" fill="#fff" stroke="#00f" stroke-width="1.85"/><path d="M668.07,1693.06L672.47,1700.61L663.67,1700.61Z" fill="#fff" stroke="#00f" stroke-width="1.85"/><path d="M670.08,1741.49L674.48,1749.04L665.68,1749.04Z" fill="#fff" stroke="#00f" stroke-width="1.85"/><path d="M671.76,1702.39L676.16,1709.94L667.36,1709.94Z" fill="#fff" stroke="#00f" stroke-width="1.85"/><path d="M674.11,1761.6L678.51,1769.15L669.71,1769.15Z" fill="#fff" stroke="#00f" stroke-width="1.85"/><path d="M675.81,1677.46L680.21,1685.01L671.41,1685.01Z" fill="#fff" stroke="#00f" stroke-width="1.85"/><path d="M677.42,1761.6L681.82,1769.15L673.02,1769.15Z" fill="#fff" stroke="#00f" stroke-width="1.85"/><path d="M679.73,1681.05L684.13,1688.6L675.33,1688.6Z" fill="#fff" stroke="#00f" stroke-width="1.85"/><path d="M681.65,1702.39L686.05,1709.94L677.25,1709.94Z" fill="#fff" stroke="#00f" stroke-width="1.85"/><path d="M683.46,1774.34L687.86,1781.89L679.06,1781.89Z" fill="#fff" stroke="#00f" stroke-width="1.85"/><path d="M685.47,1733.26L689.87,1740.81L681.07,1740.81Z" fill="#fff" stroke="#00f" stroke-width="1.85"/><path d="M687.12,1761.6L691.52,1769.15L682.72,1769.15Z" fill="#fff" stroke="#00f" stroke-width="1.85"/><path d="M688.85,1733.26L693.25,1740.81L684.45,1740.81Z" fill="#fff" stroke="#00f" stroke-width="1.85"/><path d="M691.03,1697.57L695.43,1705.12L686.63,1705.12Z" fill="#fff" stroke="#00f" stroke-width="1.85"/><path d="M692.53,1707.57L696.93,1715.12L688.13,1715.12Z" fill="#fff" stroke="#00f" stroke-width="1.85"/><path d="M694.48,1741.49L698.88,1749.04L690.08,1749.04Z" fill="#fff" stroke="#00f" stroke-width="1.85"/><path d="M696.6,1733.26L701,1740.81L692.2,1740.81Z" fill="#fff" stroke="#00f" stroke-width="1.85"/><path d="M698.37,1741.49L702.77,1749.04L693.97,1749.04Z" fill="#fff" stroke="#00f" stroke-width="1.85"/><path d="M700.43,1741.49L704.83,1749.04L696.03,1749.04Z" fill="#fff" stroke="#00f" stroke-width="1.85"/><path d="M702.14,1725.9L706.54,1733.45L697.74,1733.45Z" fill="#fff" stroke="#00f" stroke-width="1.85"/><path d="M704.38,1725.9L708.78,1733.45L699.98,1733.45Z" fill="#fff" stroke="#00f" stroke-width="1.85"/><path d="M706.1,1670.8L710.5,1678.35L701.7,1678.35Z" fill="#fff" stroke="#00f" stroke-width="1.85"/><path d="M707.71,1741.49L712.11,1749.04L703.31,1749.04Z" fill="#fff" stroke="#00f" stroke-width="1.85"/><path d="M709.96,1719.24L714.36,1726.79L705.56,1726.79Z" fill="#fff" stroke="#00f" stroke-width="1.85"/><path d="M711.41,1713.16L715.81,1720.71L707.01,1720.71Z" fill="#fff" stroke="#00f" stroke-width="1.85"/><path d="M713.7,1774.34L718.1,1781.89L709.3,1781.89Z" fill="#fff" stroke="#00f" stroke-width="1.85"/><path d="M715.47,1719.24L719.87,1726.79L711.07,1726.79Z" fill="#fff" stroke="#00f" stroke-width="1.85"/><path d="M717.5,1733.26L721.9,1740.81L713.1,1740.81Z" fill="#fff" stroke="#00f" stroke-width="1.85"/><path d="M719,1725.9L723.4,1733.45L714.6,1733.45Z" fill="#fff" stroke="#00f" stroke-width="1.85"/><path d="M721.35,1719.24L725.75,1726.79L716.95,1726.79Z" fill="#fff" stroke="#00f" stroke-width="1.85"/><path d="M722.74,1719.24L727.14,1726.79L718.34,1726.79Z" fill="#fff" stroke="#00f" stroke-width="1.85"/><path d="M724.69,1750.82L729.09,1758.37L720.29,1758.37Z" fill="#fff" stroke="#00f" stroke-width="1.85"/><path d="M726.58,1707.57L730.98,1715.12L722.18,1715.12Z" fill="#fff" stroke="#00f" stroke-width="1.85"/><path d="M728.6,1774.34L733,1781.89L724.2,1781.89Z" fill="#fff" stroke="#00f" stroke-width="1.85"/><path d="M730.72,1750.82L735.12,1758.37L726.32,1758.37Z" fill="#fff" stroke="#00f" stroke-width="1.85"/><path d="M732.47,1688.82L736.87,1696.37L728.07,1696.37Z" fill="#fff" stroke="#00f" stroke-width="1.85"/><path d="M734.37,1789.93L738.77,1797.48L729.97,1797.48Z" fill="#fff" stroke="#00f" stroke-width="1.85"/><path d="M736.35,1750.82L740.75,1758.37L731.95,1758.37Z" fill="#fff" stroke="#00f" stroke-width="1.85"/><path d="M737.93,1725.9L742.33,1733.45L733.53,1733.45Z" fill="#fff" stroke="#00f" stroke-width="1.85"/><path d="M740.23,1725.9L744.63,1733.45L735.83,1733.45Z" fill="#fff" stroke="#00f" stroke-width="1.85"/><path d="M742.11,1697.57L746.51,1705.12L737.71,1705.12Z" fill="#fff" stroke="#00f" stroke-width="1.85"/><path d="M744,1719.24L748.4,1726.79L739.6,1726.79Z" fill="#fff" stroke="#00f" stroke-width="1.85"/><path d="M745.68,1761.6L750.08,1769.15L741.28,1769.15Z" fill="#fff" stroke="#00f" stroke-width="1.85"/><path d="M747.53,1761.6L751.93,1769.15L743.13,1769.15Z" fill="#fff" stroke="#00f" stroke-width="1.85"/><path d="M749.25,1750.82L753.65,1758.37L744.85,1758.37Z" fill="#fff" stroke="#00f" stroke-width="1.85"/><path d="M751.5,1702.39L755.9,1709.94L747.1,1709.94Z" fill="#fff" stroke="#00f" stroke-width="1.85"/><path d="M152.9,1589.5L157.3,1597.05L148.5,1597.05Z" fill="#fff" stroke="#00f" stroke-width="1.85"/><path d="M146,1788.5L150.4,1796.05L141.6,1796.05Z" fill="#fff" stroke="#00f" stroke-width="1.85"/><path d="M149.6,1837.6L154,1845.15L145.2,1845.15Z" fill="#fff" stroke="#00f" stroke-width="1.85"/><path d="M154.4,1409.4L158.8,1416.95L150,1416.95Z" fill="#fff" stroke="#00f" stroke-width="1.85"/>
<path d="M156.17,1429.52L160.57,1421.97L151.77,1421.97Z" fill="#fff" stroke="#008000" stroke-width="1.85"/><path d="M157.68,1454L162.08,1446.45L153.28,1446.45Z" fill="#fff" stroke="#008000" stroke-width="1.85"/><path d="M159.62,1447.17L164.02,1439.62L155.22,1439.62Z" fill="#fff" stroke="#008000" stroke-width="1.85"/><path d="M161.8,1474.06L166.2,1466.51L157.4,1466.51Z" fill="#fff" stroke="#008000" stroke-width="1.85"/><path d="M163.66,1467.31L168.06,1459.76L159.26,1459.76Z" fill="#fff" stroke="#008000" stroke-width="1.85"/><path d="M165.22,1507.96L169.62,1500.41L160.82,1500.41Z" fill="#fff" stroke="#008000" stroke-width="1.85"/><path d="M167.02,1490.94L171.42,1483.39L162.62,1483.39Z" fill="#fff" stroke="#008000" stroke-width="1.85"/><path d="M168.95,1490.1L173.35,1482.55L164.55,1482.55Z" fill="#fff" stroke="#008000" stroke-width="1.85"/><path d="M170.91,1495.27L175.31,1487.72L166.51,1487.72Z" fill="#fff" stroke="#008000" stroke-width="1.85"/><path d="M172.77,1515.89L177.17,1508.34L168.37,1508.34Z" fill="#fff" stroke="#008000" stroke-width="1.85"/><path d="M174.91,1503.81L179.31,1496.26L170.51,1496.26Z" fill="#fff" stroke="#008000" stroke-width="1.85"/><path d="M176.55,1519.27L180.95,1511.72L172.15,1511.72Z" fill="#fff" stroke="#008000" stroke-width="1.85"/><path d="M178.71,1539.58L183.11,1532.03L174.31,1532.03Z" fill="#fff" stroke="#008000" stroke-width="1.85"/><path d="M180.31,1560.53L184.71,1552.98L175.91,1552.98Z" fill="#fff" stroke="#008000" stroke-width="1.85"/><path d="M182.42,1530.15L186.82,1522.6L178.02,1522.6Z" fill="#fff" stroke="#008000" stroke-width="1.85"/><path d="M184.31,1554.03L188.71,1546.48L179.91,1546.48Z" fill="#fff" stroke="#008000" stroke-width="1.85"/><path d="M186.3,1550.01L190.7,1542.46L181.9,1542.46Z" fill="#fff" stroke="#008000" stroke-width="1.85"/><path d="M187.76,1551.49L192.16,1543.94L183.36,1543.94Z" fill="#fff" stroke="#008000" stroke-width="1.85"/><path d="M189.76,1563.43L194.16,1555.88L185.36,1555.88Z" fill="#fff" stroke="#008000" stroke-width="1.85"/><path d="M191.79,1565.23L196.19,1557.68L187.39,1557.68Z" fill="#fff" stroke="#008000" stroke-width="1.85"/><path d="M193.88,1542.16L198.28,1534.61L189.48,1534.61Z" fill="#fff" stroke="#008000" stroke-width="1.85"/><path d="M195.46,1540.01L199.86,1532.46L191.06,1532.46Z" fill="#fff" stroke="#008000" stroke-width="1.85"/><path d="M197.34,1575L201.74,1567.45L192.94,1567.45Z" fill="#fff" stroke="#008000" stroke-width="1.85"/><path d="M199.49,1564.03L203.89,1556.48L195.09,1556.48Z" fill="#fff" stroke="#008000" stroke-width="1.85"/><path d="M201.02,1601.95L205.42,1594.4L196.62,1594.4Z" fill="#fff" stroke="#008000" stroke-width="1.85"/><path d="M203.35,1565.23L207.75,1557.68L198.95,1557.68Z" fill="#fff" stroke="#008000" stroke-width="1.85"/><path d="M205.24,1568.98L209.64,1561.43L200.84,1561.43Z" fill="#fff" stroke="#008000" stroke-width="1.85"/><path d="M206.71,1575L211.11,1567.45L202.31,1567.45Z" fill="#fff" stroke="#008000" stroke-width="1.85"/><path d="M209.1,1606.19L213.5,1598.64L204.7,1598.64Z" fill="#fff" stroke="#008000" stroke-width="1.85"/><path d="M210.97,1563.43L215.37,1555.88L206.57,1555.88Z" fill="#fff" stroke="#008000" stroke-width="1.85"/><path d="M212.42,1600.93L216.82,1593.38L208.02,1593.38Z" fill="#fff" stroke="#008000" stroke-width="1.85"/><path d="M214.62,1602.98L219.02,1595.43L210.22,1595.43Z" fill="#fff" stroke="#008000" stroke-width="1.85"/><path d="M216.38,1570.27L220.78,1562.72L211.98,1562.72Z" fill="#fff" stroke="#008000" stroke-width="1.85"/><path d="M218.49,1604.04L222.89,1596.49L214.09,1596.49Z" fill="#fff" stroke="#008000" stroke-width="1.85"/><path d="M220.07,1595.1L224.47,1587.55L215.67,1587.55Z" fill="#fff" stroke="#008000" stroke-width="1.85"/><path d="M221.83,1616.78L226.23,1609.23L217.43,1609.23Z" fill="#fff" stroke="#008000" stroke-width="1.85"/><path d="M224.09,1607.29L228.49,1599.74L219.69,1599.74Z" fill="#fff" stroke="#008000" stroke-width="1.85"/><path d="M225.65,1600.93L230.05,1593.38L221.25,1593.38Z" fill="#fff" stroke="#008000" stroke-width="1.85"/><path d="M227.85,1613.06L232.25,1605.51L223.45,1605.51Z" fill="#fff" stroke="#008000" stroke-width="1.85"/><path d="M229.83,1620.7L234.23,1613.15L225.43,1613.15Z" fill="#fff" stroke="#008000" stroke-width="1.85"/><path d="M231.53,1576.41L235.93,1568.86L227.13,1568.86Z" fill="#fff" stroke="#008000" stroke-width="1.85"/><path d="M233.2,1618.06L237.6,1610.51L228.8,1610.51Z" fill="#fff" stroke="#008000" stroke-width="1.85"/><path d="M235.52,1632.37L239.92,1624.82L231.12,1624.82Z" fill="#fff" stroke="#008000" stroke-width="1.85"/><path d="M237.27,1601.95L241.67,1594.4L232.87,1594.4Z" fill="#fff" stroke="#008000" stroke-width="1.85"/><path d="M239.17,1627.76L243.57,1620.21L234.77,1620.21Z" fill="#fff" stroke="#008000" stroke-width="1.85"/><path d="M240.87,1597.96L245.27,1590.41L236.47,1590.41Z" fill="#fff" stroke="#008000" stroke-width="1.85"/><path d="M242.73,1624.85L247.13,1617.3L238.33,1617.3Z" fill="#fff" stroke="#008000" stroke-width="1.85"/><path d="M244.81,1629.26L249.21,1621.71L240.41,1621.71Z" fill="#fff" stroke="#008000" stroke-width="1.85"/><path d="M246.71,1616.78L251.11,1609.23L242.31,1609.23Z" fill="#fff" stroke="#008000" stroke-width="1.85"/><path d="M248.49,1669.13L252.89,1661.58L244.09,1661.58Z" fill="#fff" stroke="#008000" stroke-width="1.85"/><path d="M250.52,1629.26L254.92,1621.71L246.12,1621.71Z" fill="#fff" stroke="#008000" stroke-width="1.85"/><path d="M252.42,1616.78L256.82,1609.23L248.02,1609.23Z" fill="#fff" stroke="#008000" stroke-width="1.85"/><path d="M254.11,1632.37L258.51,1624.82L249.71,1624.82Z" fill="#fff" stroke="#008000" stroke-width="1.85"/><path d="M256.02,1639.03L260.42,1631.48L251.62,1631.48Z" fill="#fff" stroke="#008000" stroke-width="1.85"/><path d="M257.83,1626.29L262.23,1618.74L253.43,1618.74Z" fill="#fff" stroke="#008000" stroke-width="1.85"/><path d="M259.84,1652.47L264.24,1644.92L255.44,1644.92Z" fill="#fff" stroke="#008000" stroke-width="1.85"/><path d="M261.8,1632.37L266.2,1624.82L257.4,1624.82Z" fill="#fff" stroke="#008000" stroke-width="1.85"/><path d="M263.57,1618.06L267.97,1610.51L259.17,1610.51Z" fill="#fff" stroke="#008000" stroke-width="1.85"/><path d="M265.34,1652.47L269.74,1644.92L260.94,1644.92Z" fill="#fff" stroke="#008000" stroke-width="1.85"/><path d="M267.61,1622.05L272.01,1614.5L263.21,1614.5Z" fill="#fff" stroke="#008000" stroke-width="1.85"/><path d="M269.06,1633.97L273.46,1626.42L264.66,1626.42Z" fill="#fff" stroke="#008000" stroke-width="1.85"/><path d="M271.08,1640.8L275.48,1633.25L266.68,1633.25Z" fill="#fff" stroke="#008000" stroke-width="1.85"/><path d="M273.31,1639.03L277.71,1631.48L268.91,1631.48Z" fill="#fff" stroke="#008000" stroke-width="1.85"/><path d="M274.86,1669.13L279.26,1661.58L270.46,1661.58Z" fill="#fff" stroke="#008000" stroke-width="1.85"/><path d="M276.71,1635.62L281.11,1628.07L272.31,1628.07Z" fill="#fff" stroke="#008000" stroke-width="1.85"/><path d="M278.86,1666.49L283.26,1658.94L274.46,1658.94Z" fill="#fff" stroke="#008000" stroke-width="1.85"/><path d="M280.56,1694.83L284.96,1687.28L276.16,1687.28Z" fill="#fff" stroke="#008000" stroke-width="1.85"/><path d="M282.44,1659.13L286.84,1651.58L278.04,1651.58Z" fill="#fff" stroke="#008000" stroke-width="1.85"/><path d="M284.42,1671.87L288.82,1664.32L280.02,1664.32Z" fill="#fff" stroke="#008000" stroke-width="1.85"/><path d="M286.55,1669.13L290.95,1661.58L282.15,1661.58Z" fill="#fff" stroke="#008000" stroke-width="1.85"/><path d="M288.12,1694.83L292.52,1687.28L283.72,1687.28Z" fill="#fff" stroke="#008000" stroke-width="1.85"/><path d="M290.19,1666.49L294.59,1658.94L285.79,1658.94Z" fill="#fff" stroke="#008000" stroke-width="1.85"/><path d="M291.98,1644.48L296.38,1636.93L287.58,1636.93Z" fill="#fff" stroke="#008000" stroke-width="1.85"/><path d="M293.92,1661.5L298.32,1653.95L289.52,1653.95Z" fill="#fff" stroke="#008000" stroke-width="1.85"/><path d="M295.93,1659.13L300.33,1651.58L291.53,1651.58Z" fill="#fff" stroke="#008000" stroke-width="1.85"/><path d="M297.67,1698.82L302.07,1691.27L293.27,1691.27Z" fill="#fff" stroke="#008000" stroke-width="1.85"/><path d="M299.53,1723.16L303.93,1715.61L295.13,1715.61Z" fill="#fff" stroke="#008000" stroke-width="1.85"/><path d="M301.56,1680.8L305.96,1673.25L297.16,1673.25Z" fill="#fff" stroke="#008000" stroke-width="1.85"/><path d="M303.29,1623.44L307.69,1615.89L298.89,1615.89Z" fill="#fff" stroke="#008000" stroke-width="1.85"/><path d="M304.96,1671.87L309.36,1664.32L300.56,1664.32Z" fill="#fff" stroke="#008000" stroke-width="1.85"/><path d="M307.4,1677.7L311.8,1670.15L303,1670.15Z" fill="#fff" stroke="#008000" stroke-width="1.85"/><path d="M309.3,1626.29L313.7,1618.74L304.9,1618.74Z" fill="#fff" stroke="#008000" stroke-width="1.85"/><path d="M310.88,1674.72L315.28,1667.17L306.48,1667.17Z" fill="#fff" stroke="#008000" stroke-width="1.85"/><path d="M312.82,1650.39L317.22,1642.84L308.42,1642.84Z" fill="#fff" stroke="#008000" stroke-width="1.85"/><path d="M314.68,1661.5L319.08,1653.95L310.28,1653.95Z" fill="#fff" stroke="#008000" stroke-width="1.85"/><path d="M316.57,1677.7L320.97,1670.15L312.17,1670.15Z" fill="#fff" stroke="#008000" stroke-width="1.85"/><path d="M318.67,1680.8L323.07,1673.25L314.27,1673.25Z" fill="#fff" stroke="#008000" stroke-width="1.85"/><path d="M320.09,1680.8L324.49,1673.25L315.69,1673.25Z" fill="#fff" stroke="#008000" stroke-width="1.85"/><path d="M322.22,1656.84L326.62,1649.29L317.82,1649.29Z" fill="#fff" stroke="#008000" stroke-width="1.85"/><path d="M324.37,1659.13L328.77,1651.58L319.97,1651.58Z" fill="#fff" stroke="#008000" stroke-width="1.85"/><path d="M325.94,1674.72L330.34,1667.17L321.54,1667.17Z" fill="#fff" stroke="#008000" stroke-width="1.85"/><path d="M327.87,1663.95L332.27,1656.4L323.47,1656.4Z" fill="#fff" stroke="#008000" stroke-width="1.85"/><path d="M330.07,1684.05L334.47,1676.5L325.67,1676.5Z" fill="#fff" stroke="#008000" stroke-width="1.85"/><path d="M331.44,1663.95L335.84,1656.4L327.04,1656.4Z" fill="#fff" stroke="#008000" stroke-width="1.85"/><path d="M333.79,1680.8L338.19,1673.25L329.39,1673.25Z" fill="#fff" stroke="#008000" stroke-width="1.85"/><path d="M335.71,1656.84L340.11,1649.29L331.31,1649.29Z" fill="#fff" stroke="#008000" stroke-width="1.85"/><path d="M337.11,1707.57L341.51,1700.02L332.71,1700.02Z" fill="#fff" stroke="#008000" stroke-width="1.85"/><path d="M339.51,1680.8L343.91,1673.25L335.11,1673.25Z" fill="#fff" stroke="#008000" stroke-width="1.85"/><path d="M341.06,1671.87L345.46,1664.32L336.66,1664.32Z" fill="#fff" stroke="#008000" stroke-width="1.85"/><path d="M343.2,1659.13L347.6,1651.58L338.8,1651.58Z" fill="#fff" stroke="#008000" stroke-width="1.85"/><path d="M344.96,1674.72L349.36,1667.17L340.56,1667.17Z" fill="#fff" stroke="#008000" stroke-width="1.85"/><path d="M346.56,1674.72L350.96,1667.17L342.16,1667.17Z" fill="#fff" stroke="#008000" stroke-width="1.85"/><path d="M348.64,1698.82L353.04,1691.27L344.24,1691.27Z" fill="#fff" stroke="#008000" stroke-width="1.85"/><path d="M350.83,1674.72L355.23,1667.17L346.43,1667.17Z" fill="#fff" stroke="#008000" stroke-width="1.85"/><path d="M352.67,1663.95L357.07,1656.4L348.27,1656.4Z" fill="#fff" stroke="#008000" stroke-width="1.85"/><path d="M354.68,1687.46L359.08,1679.91L350.28,1679.91Z" fill="#fff" stroke="#008000" stroke-width="1.85"/><path d="M356.37,1703.06L360.77,1695.51L351.97,1695.51Z" fill="#fff" stroke="#008000" stroke-width="1.85"/><path d="M358.25,1684.05L362.65,1676.5L353.85,1676.5Z" fill="#fff" stroke="#008000" stroke-width="1.85"/><path d="M359.82,1663.95L364.22,1656.4L355.42,1656.4Z" fill="#fff" stroke="#008000" stroke-width="1.85"/><path d="M361.8,1729.24L366.2,1721.69L357.4,1721.69Z" fill="#fff" stroke="#008000" stroke-width="1.85"/><path d="M364.08,1652.47L368.48,1644.92L359.68,1644.92Z" fill="#fff" stroke="#008000" stroke-width="1.85"/><path d="M365.58,1684.05L369.98,1676.5L361.18,1676.5Z" fill="#fff" stroke="#008000" stroke-width="1.85"/><path d="M367.33,1698.82L371.73,1691.27L362.93,1691.27Z" fill="#fff" stroke="#008000" stroke-width="1.85"/><path d="M369.73,1717.57L374.13,1710.02L365.33,1710.02Z" fill="#fff" stroke="#008000" stroke-width="1.85"/><path d="M371.21,1671.87L375.61,1664.32L366.81,1664.32Z" fill="#fff" stroke="#008000" stroke-width="1.85"/><path d="M373.56,1723.16L377.96,1715.61L369.16,1715.61Z" fill="#fff" stroke="#008000" stroke-width="1.85"/><path d="M375.37,1694.83L379.77,1687.28L370.97,1687.28Z" fill="#fff" stroke="#008000" stroke-width="1.85"/><path d="M377.11,1691.05L381.51,1683.5L372.71,1683.5Z" fill="#fff" stroke="#008000" stroke-width="1.85"/><path d="M378.97,1703.06L383.37,1695.51L374.57,1695.51Z" fill="#fff" stroke="#008000" stroke-width="1.85"/><path d="M380.89,1659.13L385.29,1651.58L376.49,1651.58Z" fill="#fff" stroke="#008000" stroke-width="1.85"/><path d="M382.91,1743.26L387.31,1735.71L378.51,1735.71Z" fill="#fff" stroke="#008000" stroke-width="1.85"/><path d="M384.85,1717.57L389.25,1710.02L380.45,1710.02Z" fill="#fff" stroke="#008000" stroke-width="1.85"/><path d="M386.49,1674.72L390.89,1667.17L382.09,1667.17Z" fill="#fff" stroke="#008000" stroke-width="1.85"/><path d="M388.68,1698.82L393.08,1691.27L384.28,1691.27Z" fill="#fff" stroke="#008000" stroke-width="1.85"/><path d="M390.29,1694.83L394.69,1687.28L385.89,1687.28Z" fill="#fff" stroke="#008000" stroke-width="1.85"/><path d="M392.19,1677.7L396.59,1670.15L387.79,1670.15Z" fill="#fff" stroke="#008000" stroke-width="1.85"/><path d="M393.86,1674.72L398.26,1667.17L389.46,1667.17Z" fill="#fff" stroke="#008000" stroke-width="1.85"/><path d="M395.86,1661.5L400.26,1653.95L391.46,1653.95Z" fill="#fff" stroke="#008000" stroke-width="1.85"/><path d="M397.91,1723.16L402.31,1715.61L393.51,1715.61Z" fill="#fff" stroke="#008000" stroke-width="1.85"/><path d="M399.75,1723.16L404.15,1715.61L395.35,1715.61Z" fill="#fff" stroke="#008000" stroke-width="1.85"/><path d="M401.6,1671.87L406,1664.32L397.2,1664.32Z" fill="#fff" stroke="#008000" stroke-width="1.85"/><path d="M403.25,1687.46L407.65,1679.91L398.85,1679.91Z" fill="#fff" stroke="#008000" stroke-width="1.85"/><path d="M405.24,1729.24L409.64,1721.69L400.84,1721.69Z" fill="#fff" stroke="#008000" stroke-width="1.85"/><path d="M407.31,1707.57L411.71,1700.02L402.91,1700.02Z" fill="#fff" stroke="#008000" stroke-width="1.85"/><path d="M409.35,1687.46L413.75,1679.91L404.95,1679.91Z" fill="#fff" stroke="#008000" stroke-width="1.85"/><path d="M411.04,1687.46L415.44,1679.91L406.64,1679.91Z" fill="#fff" stroke="#008000" stroke-width="1.85"/><path d="M412.87,1712.39L417.27,1704.84L408.47,1704.84Z" fill="#fff" stroke="#008000" stroke-width="1.85"/><path d="M414.65,1684.05L419.05,1676.5L410.25,1676.5Z" fill="#fff" stroke="#008000" stroke-width="1.85"/><path d="M416.67,1735.9L421.07,1728.35L412.27,1728.35Z" fill="#fff" stroke="#008000" stroke-width="1.85"/><path d="M418.96,1703.06L423.36,1695.51L414.56,1695.51Z" fill="#fff" stroke="#008000" stroke-width="1.85"/><path d="M420.28,1723.16L424.68,1715.61L415.88,1715.61Z" fill="#fff" stroke="#008000" stroke-width="1.85"/><path d="M422.67,1680.8L427.07,1673.25L418.27,1673.25Z" fill="#fff" stroke="#008000" stroke-width="1.85"/><path d="M424.15,1735.9L428.55,1728.35L419.75,1728.35Z" fill="#fff" stroke="#008000" stroke-width="1.85"/><path d="M425.94,1707.57L430.34,1700.02L421.54,1700.02Z" fill="#fff" stroke="#008000" stroke-width="1.85"/><path d="M428.29,1729.24L432.69,1721.69L423.89,1721.69Z" fill="#fff" stroke="#008000" stroke-width="1.85"/><path d="M430.29,1717.57L434.69,1710.02L425.89,1710.02Z" fill="#fff" stroke="#008000" stroke-width="1.85"/><path d="M432.06,1717.57L436.46,1710.02L427.66,1710.02Z" fill="#fff" stroke="#008000" stroke-width="1.85"/><path d="M433.82,1703.06L438.22,1695.51L429.42,1695.51Z" fill="#fff" stroke="#008000" stroke-width="1.85"/><path d="M435.49,1687.46L439.89,1679.91L431.09,1679.91Z" fill="#fff" stroke="#008000" stroke-width="1.85"/><path d="M437.85,1691.05L442.25,1683.5L433.45,1683.5Z" fill="#fff" stroke="#008000" stroke-width="1.85"/><path d="M439.65,1691.05L444.05,1683.5L435.25,1683.5Z" fill="#fff" stroke="#008000" stroke-width="1.85"/><path d="M441.59,1671.87L445.99,1664.32L437.19,1664.32Z" fill="#fff" stroke="#008000" stroke-width="1.85"/><path d="M443.4,1680.8L447.8,1673.25L439,1673.25Z" fill="#fff" stroke="#008000" stroke-width="1.85"/><path d="M444.91,1703.06L449.31,1695.51L440.51,1695.51Z" fill="#fff" stroke="#008000" stroke-width="1.85"/><path d="M447.13,1694.83L451.53,1687.28L442.73,1687.28Z" fill="#fff" stroke="#008000" stroke-width="1.85"/><path d="M448.7,1703.06L453.1,1695.51L444.3,1695.51Z" fill="#fff" stroke="#008000" stroke-width="1.85"/><path d="M450.53,1703.06L454.93,1695.51L446.13,1695.51Z" fill="#fff" stroke="#008000" stroke-width="1.85"/><path d="M452.69,1684.05L457.09,1676.5L448.29,1676.5Z" fill="#fff" stroke="#008000" stroke-width="1.85"/><path d="M454.56,1698.82L458.96,1691.27L450.16,1691.27Z" fill="#fff" stroke="#008000" stroke-width="1.85"/><path d="M456.3,1735.9L460.7,1728.35L451.9,1728.35Z" fill="#fff" stroke="#008000" stroke-width="1.85"/><path d="M458.52,1723.16L462.92,1715.61L454.12,1715.61Z" fill="#fff" stroke="#008000" stroke-width="1.85"/><path d="M460.03,1751.49L464.43,1743.94L455.63,1743.94Z" fill="#fff" stroke="#008000" stroke-width="1.85"/><path d="M462.21,1674.72L466.61,1667.17L457.81,1667.17Z" fill="#fff" stroke="#008000" stroke-width="1.85"/><path d="M463.79,1717.57L468.19,1710.02L459.39,1710.02Z" fill="#fff" stroke="#008000" stroke-width="1.85"/><path d="M465.99,1729.24L470.39,1721.69L461.59,1721.69Z" fill="#fff" stroke="#008000" stroke-width="1.85"/><path d="M468.05,1784.34L472.45,1776.79L463.65,1776.79Z" fill="#fff" stroke="#008000" stroke-width="1.85"/><path d="M469.46,1723.16L473.86,1715.61L465.06,1715.61Z" fill="#fff" stroke="#008000" stroke-width="1.85"/><path d="M471.39,1717.57L475.79,1710.02L466.99,1710.02Z" fill="#fff" stroke="#008000" stroke-width="1.85"/><path d="M473.7,1751.49L478.1,1743.94L469.3,1743.94Z" fill="#fff" stroke="#008000" stroke-width="1.85"/><path d="M475.29,1784.34L479.69,1776.79L470.89,1776.79Z" fill="#fff" stroke="#008000" stroke-width="1.85"/><path d="M477.41,1723.16L481.81,1715.61L473.01,1715.61Z" fill="#fff" stroke="#008000" stroke-width="1.85"/><path d="M479.31,1743.26L483.71,1735.71L474.91,1735.71Z" fill="#fff" stroke="#008000" stroke-width="1.85"/><path d="M480.87,1751.49L485.27,1743.94L476.47,1743.94Z" fill="#fff" stroke="#008000" stroke-width="1.85"/><path d="M483.04,1723.16L487.44,1715.61L478.64,1715.61Z" fill="#fff" stroke="#008000" stroke-width="1.85"/><path d="M485.01,1729.24L489.41,1721.69L480.61,1721.69Z" fill="#fff" stroke="#008000" stroke-width="1.85"/><path d="M486.64,1784.34L491.04,1776.79L482.24,1776.79Z" fill="#fff" stroke="#008000" stroke-width="1.85"/><path d="M488.4,1729.24L492.8,1721.69L484,1721.69Z" fill="#fff" stroke="#008000" stroke-width="1.85"/><path d="M490.61,1717.57L495.01,1710.02L486.21,1710.02Z" fill="#fff" stroke="#008000" stroke-width="1.85"/><path d="M492.15,1743.26L496.55,1735.71L487.75,1735.71Z" fill="#fff" stroke="#008000" stroke-width="1.85"/><path d="M494.23,1735.9L498.63,1728.35L489.83,1728.35Z" fill="#fff" stroke="#008000" stroke-width="1.85"/><path d="M496.25,1751.49L500.65,1743.94L491.85,1743.94Z" fill="#fff" stroke="#008000" stroke-width="1.85"/><path d="M498.3,1712.39L502.7,1704.84L493.9,1704.84Z" fill="#fff" stroke="#008000" stroke-width="1.85"/><path d="M500.06,1751.49L504.46,1743.94L495.66,1743.94Z" fill="#fff" stroke="#008000" stroke-width="1.85"/><path d="M502.01,1760.82L506.41,1753.27L497.61,1753.27Z" fill="#fff" stroke="#008000" stroke-width="1.85"/><path d="M503.9,1717.57L508.3,1710.02L499.5,1710.02Z" fill="#fff" stroke="#008000" stroke-width="1.85"/><path d="M505.63,1784.34L510.03,1776.79L501.23,1776.79Z" fill="#fff" stroke="#008000" stroke-width="1.85"/><path d="M507.47,1743.26L511.87,1735.71L503.07,1735.71Z" fill="#fff" stroke="#008000" stroke-width="1.85"/><path d="M509.15,1723.16L513.55,1715.61L504.75,1715.61Z" fill="#fff" stroke="#008000" stroke-width="1.85"/><path d="M511.04,1771.6L515.44,1764.05L506.64,1764.05Z" fill="#fff" stroke="#008000" stroke-width="1.85"/><path d="M513.09,1751.49L517.49,1743.94L508.69,1743.94Z" fill="#fff" stroke="#008000" stroke-width="1.85"/><path d="M515,1743.26L519.4,1735.71L510.6,1735.71Z" fill="#fff" stroke="#008000" stroke-width="1.85"/><path d="M517.1,1723.16L521.5,1715.61L512.7,1715.61Z" fill="#fff" stroke="#008000" stroke-width="1.85"/><path d="M518.73,1735.9L523.13,1728.35L514.33,1728.35Z" fill="#fff" stroke="#008000" stroke-width="1.85"/><path d="M520.69,1743.26L525.09,1735.71L516.29,1735.71Z" fill="#fff" stroke="#008000" stroke-width="1.85"/><path d="M522.45,1799.93L526.85,1792.38L518.05,1792.38Z" fill="#fff" stroke="#008000" stroke-width="1.85"/><path d="M524.49,1771.6L528.89,1764.05L520.09,1764.05Z" fill="#fff" stroke="#008000" stroke-width="1.85"/><path d="M526.58,1729.24L530.98,1721.69L522.18,1721.69Z" fill="#fff" stroke="#008000" stroke-width="1.85"/><path d="M528.23,1743.26L532.63,1735.71L523.83,1735.71Z" fill="#fff" stroke="#008000" stroke-width="1.85"/><path d="M529.98,1771.6L534.38,1764.05L525.58,1764.05Z" fill="#fff" stroke="#008000" stroke-width="1.85"/><path d="M532.24,1784.34L536.64,1776.79L527.84,1776.79Z" fill="#fff" stroke="#008000" stroke-width="1.85"/><path d="M533.83,1743.26L538.23,1735.71L529.43,1735.71Z" fill="#fff" stroke="#008000" stroke-width="1.85"/><path d="M536.07,1799.93L540.47,1792.38L531.67,1792.38Z" fill="#fff" stroke="#008000" stroke-width="1.85"/><path d="M537.97,1743.26L542.37,1735.71L533.57,1735.71Z" fill="#fff" stroke="#008000" stroke-width="1.85"/><path d="M539.55,1743.26L543.95,1735.71L535.15,1735.71Z" fill="#fff" stroke="#008000" stroke-width="1.85"/><path d="M541.47,1771.6L545.87,1764.05L537.07,1764.05Z" fill="#fff" stroke="#008000" stroke-width="1.85"/><path d="M543.37,1771.6L547.77,1764.05L538.97,1764.05Z" fill="#fff" stroke="#008000" stroke-width="1.85"/><path d="M545.2,1784.34L549.6,1776.79L540.8,1776.79Z" fill="#fff" stroke="#008000" stroke-width="1.85"/><path d="M547.15,1760.82L551.55,1753.27L542.75,1753.27Z" fill="#fff" stroke="#008000" stroke-width="1.85"/><path d="M549.33,1771.6L553.73,1764.05L544.93,1764.05Z" fill="#fff" stroke="#008000" stroke-width="1.85"/><path d="M551.22,1771.6L555.62,1764.05L546.82,1764.05Z" fill="#fff" stroke="#008000" stroke-width="1.85"/><path d="M552.67,1743.26L557.07,1735.71L548.27,1735.71Z" fill="#fff" stroke="#008000" stroke-width="1.85"/><path d="M555.07,1723.16L559.47,1715.61L550.67,1715.61Z" fill="#fff" stroke="#008000" stroke-width="1.85"/><path d="M556.86,1760.82L561.26,1753.27L552.46,1753.27Z" fill="#fff" stroke="#008000" stroke-width="1.85"/><path d="M558.51,1723.16L562.91,1715.61L554.11,1715.61Z" fill="#fff" stroke="#008000" stroke-width="1.85"/><path d="M560.43,1723.16L564.83,1715.61L556.03,1715.61Z" fill="#fff" stroke="#008000" stroke-width="1.85"/><path d="M562.21,1784.34L566.61,1776.79L557.81,1776.79Z" fill="#fff" stroke="#008000" stroke-width="1.85"/><path d="M564.3,1771.6L568.7,1764.05L559.9,1764.05Z" fill="#fff" stroke="#008000" stroke-width="1.85"/><path d="M566.06,1751.49L570.46,1743.94L561.66,1743.94Z" fill="#fff" stroke="#008000" stroke-width="1.85"/><path d="M568.02,1729.24L572.42,1721.69L563.62,1721.69Z" fill="#fff" stroke="#008000" stroke-width="1.85"/><path d="M570.15,1712.39L574.55,1704.84L565.75,1704.84Z" fill="#fff" stroke="#008000" stroke-width="1.85"/><path d="M572,1784.34L576.4,1776.79L567.6,1776.79Z" fill="#fff" stroke="#008000" stroke-width="1.85"/><path d="M573.71,1820.03L578.11,1812.48L569.31,1812.48Z" fill="#fff" stroke="#008000" stroke-width="1.85"/><path d="M575.88,1723.16L580.28,1715.61L571.48,1715.61Z" fill="#fff" stroke="#008000" stroke-width="1.85"/><path d="M577.26,1729.24L581.66,1721.69L572.86,1721.69Z" fill="#fff" stroke="#008000" stroke-width="1.85"/><path d="M579.43,1784.34L583.83,1776.79L575.03,1776.79Z" fill="#fff" stroke="#008000" stroke-width="1.85"/><path d="M581.54,1723.16L585.94,1715.61L577.14,1715.61Z" fill="#fff" stroke="#008000" stroke-width="1.85"/><path d="M583.33,1771.6L587.73,1764.05L578.93,1764.05Z" fill="#fff" stroke="#008000" stroke-width="1.85"/><path d="M584.93,1784.34L589.33,1776.79L580.53,1776.79Z" fill="#fff" stroke="#008000" stroke-width="1.85"/><path d="M586.99,1751.49L591.39,1743.94L582.59,1743.94Z" fill="#fff" stroke="#008000" stroke-width="1.85"/><path d="M588.6,1799.93L593,1792.38L584.2,1792.38Z" fill="#fff" stroke="#008000" stroke-width="1.85"/><path d="M590.87,1771.6L595.27,1764.05L586.47,1764.05Z" fill="#fff" stroke="#008000" stroke-width="1.85"/><path d="M592.83,1771.6L597.23,1764.05L588.43,1764.05Z" fill="#fff" stroke="#008000" stroke-width="1.85"/><path d="M594.34,1743.26L598.74,1735.71L589.94,1735.71Z" fill="#fff" stroke="#008000" stroke-width="1.85"/><path d="M596.34,1723.16L600.74,1715.61L591.94,1715.61Z" fill="#fff" stroke="#008000" stroke-width="1.85"/><path d="M598.28,1848.36L602.68,1840.81L593.88,1840.81Z" fill="#fff" stroke="#008000" stroke-width="1.85"/><path d="M599.89,1743.26L604.29,1735.71L595.49,1735.71Z" fill="#fff" stroke="#008000" stroke-width="1.85"/><path d="M601.84,1760.82L606.24,1753.27L597.44,1753.27Z" fill="#fff" stroke="#008000" stroke-width="1.85"/><path d="M604.12,1760.82L608.52,1753.27L599.72,1753.27Z" fill="#fff" stroke="#008000" stroke-width="1.85"/><path d="M605.96,1751.49L610.36,1743.94L601.56,1743.94Z" fill="#fff" stroke="#008000" stroke-width="1.85"/><path d="M607.56,1784.34L611.96,1776.79L603.16,1776.79Z" fill="#fff" stroke="#008000" stroke-width="1.85"/><path d="M609.4,1784.34L613.8,1776.79L605,1776.79Z" fill="#fff" stroke="#008000" stroke-width="1.85"/><path d="M611.23,1743.26L615.63,1735.71L606.83,1735.71Z" fill="#fff" stroke="#008000" stroke-width="1.85"/><path d="M613.41,1751.49L617.81,1743.94L609.01,1743.94Z" fill="#fff" stroke="#008000" stroke-width="1.85"/><path d="M615.36,1729.24L619.76,1721.69L610.96,1721.69Z" fill="#fff" stroke="#008000" stroke-width="1.85"/><path d="M617.19,1771.6L621.59,1764.05L612.79,1764.05Z" fill="#fff" stroke="#008000" stroke-width="1.85"/><path d="M619.23,1799.93L623.63,1792.38L614.83,1792.38Z" fill="#fff" stroke="#008000" stroke-width="1.85"/><path d="M620.81,1712.39L625.21,1704.84L616.41,1704.84Z" fill="#fff" stroke="#008000" stroke-width="1.85"/><path d="M622.84,1771.6L627.24,1764.05L618.44,1764.05Z" fill="#fff" stroke="#008000" stroke-width="1.85"/><path d="M625.03,1735.9L629.43,1728.35L620.63,1728.35Z" fill="#fff" stroke="#008000" stroke-width="1.85"/><path d="M626.52,1820.03L630.92,1812.48L622.12,1812.48Z" fill="#fff" stroke="#008000" stroke-width="1.85"/><path d="M628.73,1784.34L633.13,1776.79L624.33,1776.79Z" fill="#fff" stroke="#008000" stroke-width="1.85"/><path d="M630.17,1743.26L634.57,1735.71L625.77,1735.71Z" fill="#fff" stroke="#008000" stroke-width="1.85"/><path d="M632.22,1743.26L636.62,1735.71L627.82,1735.71Z" fill="#fff" stroke="#008000" stroke-width="1.85"/><path d="M634.33,1698.82L638.73,1691.27L629.93,1691.27Z" fill="#fff" stroke="#008000" stroke-width="1.85"/><path d="M635.86,1771.6L640.26,1764.05L631.46,1764.05Z" fill="#fff" stroke="#008000" stroke-width="1.85"/><path d="M637.69,1820.03L642.09,1812.48L633.29,1812.48Z" fill="#fff" stroke="#008000" stroke-width="1.85"/><path d="M639.58,1723.16L643.98,1715.61L635.18,1715.61Z" fill="#fff" stroke="#008000" stroke-width="1.85"/><path d="M643.66,1712.39L648.06,1704.84L639.26,1704.84Z" fill="#fff" stroke="#008000" stroke-width="1.85"/><path d="M645.73,1743.26L650.13,1735.71L641.33,1735.71Z" fill="#fff" stroke="#008000" stroke-width="1.85"/><path d="M647.6,1820.03L652,1812.48L643.2,1812.48Z" fill="#fff" stroke="#008000" stroke-width="1.85"/><path d="M649.33,1771.6L653.73,1764.05L644.93,1764.05Z" fill="#fff" stroke="#008000" stroke-width="1.85"/><path d="M651,1784.34L655.4,1776.79L646.6,1776.79Z" fill="#fff" stroke="#008000" stroke-width="1.85"/><path d="M652.81,1771.6L657.21,1764.05L648.41,1764.05Z" fill="#fff" stroke="#008000" stroke-width="1.85"/><path d="M655.21,1760.82L659.61,1753.27L650.81,1753.27Z" fill="#fff" stroke="#008000" stroke-width="1.85"/><path d="M656.88,1751.49L661.28,1743.94L652.48,1743.94Z" fill="#fff" stroke="#008000" stroke-width="1.85"/><path d="M658.9,1729.24L663.3,1721.69L654.5,1721.69Z" fill="#fff" stroke="#008000" stroke-width="1.85"/><path d="M660.43,1771.6L664.83,1764.05L656.03,1764.05Z" fill="#fff" stroke="#008000" stroke-width="1.85"/><path d="M662.25,1751.49L666.65,1743.94L657.85,1743.94Z" fill="#fff" stroke="#008000" stroke-width="1.85"/><path d="M664.3,1820.03L668.7,1812.48L659.9,1812.48Z" fill="#fff" stroke="#008000" stroke-width="1.85"/><path d="M666.41,1760.82L670.81,1753.27L662.01,1753.27Z" fill="#fff" stroke="#008000" stroke-width="1.85"/><path d="M668.2,1771.6L672.6,1764.05L663.8,1764.05Z" fill="#fff" stroke="#008000" stroke-width="1.85"/><path d="M669.91,1771.6L674.31,1764.05L665.51,1764.05Z" fill="#fff" stroke="#008000" stroke-width="1.85"/><path d="M672.07,1717.57L676.47,1710.02L667.67,1710.02Z" fill="#fff" stroke="#008000" stroke-width="1.85"/><path d="M673.97,1820.03L678.37,1812.48L669.57,1812.48Z" fill="#fff" stroke="#008000" stroke-width="1.85"/><path d="M675.87,1784.34L680.27,1776.79L671.47,1776.79Z" fill="#fff" stroke="#008000" stroke-width="1.85"/><path d="M677.7,1896.8L682.1,1889.25L673.3,1889.25Z" fill="#fff" stroke="#008000" stroke-width="1.85"/><path d="M679.32,1784.34L683.72,1776.79L674.92,1776.79Z" fill="#fff" stroke="#008000" stroke-width="1.85"/><path d="M681.62,1848.36L686.02,1840.81L677.22,1840.81Z" fill="#fff" stroke="#008000" stroke-width="1.85"/><path d="M683.07,1771.6L687.47,1764.05L678.67,1764.05Z" fill="#fff" stroke="#008000" stroke-width="1.85"/><path d="M685.47,1771.6L689.87,1764.05L681.07,1764.05Z" fill="#fff" stroke="#008000" stroke-width="1.85"/><path d="M687.02,1743.26L691.42,1735.71L682.62,1735.71Z" fill="#fff" stroke="#008000" stroke-width="1.85"/><path d="M688.96,1848.36L693.36,1840.81L684.56,1840.81Z" fill="#fff" stroke="#008000" stroke-width="1.85"/><path d="M690.74,1760.82L695.14,1753.27L686.34,1753.27Z" fill="#fff" stroke="#008000" stroke-width="1.85"/><path d="M692.56,1784.34L696.96,1776.79L688.16,1776.79Z" fill="#fff" stroke="#008000" stroke-width="1.85"/><path d="M694.88,1784.34L699.28,1776.79L690.48,1776.79Z" fill="#fff" stroke="#008000" stroke-width="1.85"/><path d="M696.76,1896.8L701.16,1889.25L692.36,1889.25Z" fill="#fff" stroke="#008000" stroke-width="1.85"/><path d="M698.33,1784.34L702.73,1776.79L693.93,1776.79Z" fill="#fff" stroke="#008000" stroke-width="1.85"/><path d="M700.53,1820.03L704.93,1812.48L696.13,1812.48Z" fill="#fff" stroke="#008000" stroke-width="1.85"/><path d="M702.53,1735.9L706.93,1728.35L698.13,1728.35Z" fill="#fff" stroke="#008000" stroke-width="1.85"/><path d="M704.34,1799.93L708.74,1792.38L699.94,1792.38Z" fill="#fff" stroke="#008000" stroke-width="1.85"/><path d="M705.92,1771.6L710.32,1764.05L701.52,1764.05Z" fill="#fff" stroke="#008000" stroke-width="1.85"/><path d="M707.94,1784.34L712.34,1776.79L703.54,1776.79Z" fill="#fff" stroke="#008000" stroke-width="1.85"/><path d="M710.07,1760.82L714.47,1753.27L705.67,1753.27Z" fill="#fff" stroke="#008000" stroke-width="1.85"/><path d="M711.99,1760.82L716.39,1753.27L707.59,1753.27Z" fill="#fff" stroke="#008000" stroke-width="1.85"/><path d="M713.76,1784.34L718.16,1776.79L709.36,1776.79Z" fill="#fff" stroke="#008000" stroke-width="1.85"/><path d="M715.21,1751.49L719.61,1743.94L710.81,1743.94Z" fill="#fff" stroke="#008000" stroke-width="1.85"/><path d="M717.28,1760.82L721.68,1753.27L712.88,1753.27Z" fill="#fff" stroke="#008000" stroke-width="1.85"/><path d="M719.21,1751.49L723.61,1743.94L714.81,1743.94Z" fill="#fff" stroke="#008000" stroke-width="1.85"/><path d="M721.39,1784.34L725.79,1776.79L716.99,1776.79Z" fill="#fff" stroke="#008000" stroke-width="1.85"/><path d="M723,1820.03L727.4,1812.48L718.6,1812.48Z" fill="#fff" stroke="#008000" stroke-width="1.85"/><path d="M724.8,1799.93L729.2,1792.38L720.4,1792.38Z" fill="#fff" stroke="#008000" stroke-width="1.85"/><path d="M727.11,1820.03L731.51,1812.48L722.71,1812.48Z" fill="#fff" stroke="#008000" stroke-width="1.85"/><path d="M728.47,1784.34L732.87,1776.79L724.07,1776.79Z" fill="#fff" stroke="#008000" stroke-width="1.85"/><path d="M730.35,1820.03L734.75,1812.48L725.95,1812.48Z" fill="#fff" stroke="#008000" stroke-width="1.85"/><path d="M732.58,1771.6L736.98,1764.05L728.18,1764.05Z" fill="#fff" stroke="#008000" stroke-width="1.85"/><path d="M734.35,1771.6L738.75,1764.05L729.95,1764.05Z" fill="#fff" stroke="#008000" stroke-width="1.85"/><path d="M736.29,1784.34L740.69,1776.79L731.89,1776.79Z" fill="#fff" stroke="#008000" stroke-width="1.85"/><path d="M738.3,1784.34L742.7,1776.79L733.9,1776.79Z" fill="#fff" stroke="#008000" stroke-width="1.85"/><path d="M739.88,1771.6L744.28,1764.05L735.48,1764.05Z" fill="#fff" stroke="#008000" stroke-width="1.85"/><path d="M741.71,1799.93L746.11,1792.38L737.31,1792.38Z" fill="#fff" stroke="#008000" stroke-width="1.85"/><path d="M744.05,1799.93L748.45,1792.38L739.65,1792.38Z" fill="#fff" stroke="#008000" stroke-width="1.85"/><path d="M745.77,1751.49L750.17,1743.94L741.37,1743.94Z" fill="#fff" stroke="#008000" stroke-width="1.85"/><path d="M747.87,1784.34L752.27,1776.79L743.47,1776.79Z" fill="#fff" stroke="#008000" stroke-width="1.85"/><path d="M749.39,1820.03L753.79,1812.48L744.99,1812.48Z" fill="#fff" stroke="#008000" stroke-width="1.85"/><path d="M751.48,1848.36L755.88,1840.81L747.08,1840.81Z" fill="#fff" stroke="#008000" stroke-width="1.85"/><path d="M153.3,1570.4L157.7,1562.85L148.9,1562.85Z" fill="#fff" stroke="#008000" stroke-width="1.85"/><path d="M148.7,1820.3L153.1,1812.75L144.3,1812.75Z" fill="#fff" stroke="#008000" stroke-width="1.85"/><path d="M146,1893L150.4,1885.45L141.6,1885.45Z" fill="#fff" stroke="#008000" stroke-width="1.85"/>
<path d="M153.2,1895 L153.5,1399 L154,1399 L156.5,1412.99 L159,1424.27 L161.49,1434.59 L163.99,1445.15 L166.49,1455.4 L168.99,1464.55 L171.49,1471.86 L173.98,1477.92 L176.48,1483.21 L178.98,1487.75 L181.48,1491.54 L183.97,1494.78 L186.47,1497.65 L188.97,1500.24 L191.47,1502.62 L193.97,1504.87 L196.46,1507.04 L198.96,1509.23 L201.46,1511.49 L203.96,1513.87 L206.46,1516.27 L208.95,1518.67 L211.45,1521.05 L213.95,1523.36 L216.45,1525.59 L218.95,1527.71 L221.44,1529.67 L223.94,1531.47 L226.44,1533.14 L228.94,1534.7 L231.44,1536.18 L233.93,1537.61 L236.43,1539.01 L238.93,1540.41 L241.43,1541.84 L243.92,1543.31 L246.42,1544.81 L248.92,1546.29 L251.42,1547.77 L253.92,1549.26 L256.41,1550.76 L258.91,1552.26 L261.41,1553.79 L263.91,1555.34 L266.41,1556.96 L268.9,1558.65 L271.4,1560.41 L273.9,1562.2 L276.4,1564 L278.9,1565.78 L281.39,1567.51 L283.89,1569.17 L286.39,1570.73 L288.89,1572.17 L291.38,1573.45 L293.88,1574.61 L296.38,1575.74 L298.88,1576.82 L301.38,1577.87 L303.87,1578.88 L306.37,1579.86 L308.87,1580.82 L311.37,1581.74 L313.87,1582.63 L316.36,1583.5 L318.86,1584.34 L321.36,1585.16 L323.86,1585.96 L326.36,1586.74 L328.85,1587.51 L331.35,1588.26 L333.85,1588.99 L336.35,1589.71 L338.85,1590.42 L341.34,1591.13 L343.84,1591.82 L346.34,1592.5 L348.84,1593.15 L351.33,1593.78 L353.83,1594.4 L356.33,1594.99 L358.83,1595.58 L361.33,1596.14 L363.82,1596.7 L366.32,1597.25 L368.82,1597.79 L371.32,1598.32 L373.82,1598.86 L376.31,1599.39 L378.81,1599.92 L381.31,1600.45 L383.81,1600.99 L386.31,1601.54 L388.8,1602.09 L391.3,1602.66 L393.8,1603.24 L396.3,1603.83 L398.79,1604.44 L401.29,1605.08 L403.79,1605.73 L406.29,1606.4 L408.79,1607.08 L411.28,1607.77 L413.78,1608.46 L416.28,1609.16 L418.78,1609.85 L421.28,1610.53 L423.77,1611.2 L426.27,1611.86 L428.77,1612.49 L431.27,1613.1 L433.77,1613.69 L436.26,1614.24 L438.76,1614.76 L441.26,1615.24 L443.76,1615.7 L446.26,1616.15 L448.75,1616.59 L451.25,1617.01 L453.75,1617.42 L456.25,1617.82 L458.74,1618.2 L461.24,1618.58 L463.74,1618.95 L466.24,1619.32 L468.74,1619.67 L471.23,1620.03 L473.73,1620.37 L476.23,1620.72 L478.73,1621.06 L481.23,1621.4 L483.72,1621.74 L486.22,1622.08 L488.72,1622.42 L491.22,1622.76 L493.72,1623.11 L496.21,1623.46 L498.71,1623.81 L501.21,1624.17 L503.71,1624.53 L506.21,1624.89 L508.7,1625.24 L511.2,1625.59 L513.7,1625.93 L516.2,1626.28 L518.69,1626.62 L521.19,1626.96 L523.69,1627.29 L526.19,1627.63 L528.69,1627.97 L531.18,1628.3 L533.68,1628.63 L536.18,1628.97 L538.68,1629.3 L541.18,1629.64 L543.67,1629.97 L546.17,1630.31 L548.67,1630.64 L551.17,1630.98 L553.67,1631.32 L556.16,1631.66 L558.66,1632.01 L561.16,1632.35 L563.66,1632.7 L566.15,1633.06 L568.65,1633.41 L571.15,1633.77 L573.65,1634.14 L576.15,1634.5 L578.64,1634.88 L581.14,1635.25 L583.64,1635.63 L586.14,1636.02 L588.64,1636.42 L591.13,1636.82 L593.63,1637.23 L596.13,1637.64 L598.63,1638.07 L601.13,1638.5 L603.62,1638.93 L606.12,1639.37 L608.62,1639.81 L611.12,1640.26 L613.62,1640.71 L616.11,1641.16 L618.61,1641.62 L621.11,1642.08 L623.61,1642.53 L626.1,1642.99 L628.6,1643.45 L631.1,1643.91 L633.6,1644.37 L636.1,1644.82 L638.59,1645.27 L641.09,1645.73 L643.59,1646.17 L646.09,1646.62 L648.59,1647.06 L651.08,1647.49 L653.58,1647.92 L656.08,1648.35 L658.58,1648.76 L661.08,1649.18 L663.57,1649.59 L666.07,1649.99 L668.57,1650.4 L671.07,1650.81 L673.56,1651.21 L676.06,1651.61 L678.56,1652.02 L681.06,1652.42 L683.56,1652.82 L686.05,1653.21 L688.55,1653.61 L691.05,1654 L693.55,1654.4 L696.05,1654.79 L698.54,1655.18 L701.04,1655.57 L703.54,1655.95 L706.04,1656.34 L708.54,1656.72 L711.03,1657.11 L713.53,1657.49 L716.03,1657.87 L718.53,1658.24 L721.03,1658.62 L723.52,1659 L726.02,1659.37 L728.52,1659.74 L731.02,1660.11 L733.51,1660.48 L736.01,1660.84 L738.51,1661.21 L741.01,1661.57 L743.51,1661.93 L746,1662.29 L748.5,1662.64 L751,1663" fill="none" stroke="#000" stroke-width="2.8" stroke-linejoin="round"/>
<path d="M153.2,1895 L153.5,1398 L154,1398 L156.5,1417.99 L159,1431.82 L161.49,1443.01 L163.99,1453.23 L166.49,1462.56 L168.99,1470.89 L171.49,1478.12 L173.98,1484.58 L176.48,1490.4 L178.98,1495.52 L181.48,1499.88 L183.97,1503.68 L186.47,1507.13 L188.97,1510.29 L191.47,1513.22 L193.97,1515.98 L196.46,1518.63 L198.96,1521.23 L201.46,1523.83 L203.96,1526.47 L206.46,1529.09 L208.95,1531.68 L211.45,1534.19 L213.95,1536.62 L216.45,1538.92 L218.95,1541.08 L221.44,1543.07 L223.94,1544.87 L226.44,1546.49 L228.94,1547.99 L231.44,1549.38 L233.93,1550.72 L236.43,1552.05 L238.93,1553.4 L241.43,1554.81 L243.92,1556.33 L246.42,1557.92 L248.92,1559.57 L251.42,1561.25 L253.92,1562.95 L256.41,1564.66 L258.91,1566.37 L261.41,1568.07 L263.91,1569.74 L266.41,1571.41 L268.9,1573.11 L271.4,1574.83 L273.9,1576.56 L276.4,1578.28 L278.9,1579.97 L281.39,1581.63 L283.89,1583.24 L286.39,1584.79 L288.89,1586.26 L291.38,1587.63 L293.88,1588.94 L296.38,1590.21 L298.88,1591.45 L301.38,1592.67 L303.87,1593.86 L306.37,1595.02 L308.87,1596.16 L311.37,1597.28 L313.87,1598.37 L316.36,1599.44 L318.86,1600.49 L321.36,1601.52 L323.86,1602.52 L326.36,1603.51 L328.85,1604.48 L331.35,1605.43 L333.85,1606.37 L336.35,1607.29 L338.85,1608.19 L341.34,1609.08 L343.84,1609.95 L346.34,1610.81 L348.84,1611.65 L351.33,1612.47 L353.83,1613.27 L356.33,1614.05 L358.83,1614.82 L361.33,1615.58 L363.82,1616.33 L366.32,1617.06 L368.82,1617.78 L371.32,1618.5 L373.82,1619.2 L376.31,1619.9 L378.81,1620.6 L381.31,1621.29 L383.81,1621.97 L386.31,1622.66 L388.8,1623.34 L391.3,1624.03 L393.8,1624.72 L396.3,1625.41 L398.79,1626.1 L401.29,1626.79 L403.79,1627.48 L406.29,1628.18 L408.79,1628.87 L411.28,1629.55 L413.78,1630.24 L416.28,1630.91 L418.78,1631.58 L421.28,1632.25 L423.77,1632.9 L426.27,1633.55 L428.77,1634.19 L431.27,1634.81 L433.77,1635.43 L436.26,1636.03 L438.76,1636.61 L441.26,1637.19 L443.76,1637.75 L446.26,1638.31 L448.75,1638.86 L451.25,1639.41 L453.75,1639.95 L456.25,1640.48 L458.74,1641.01 L461.24,1641.53 L463.74,1642.05 L466.24,1642.56 L468.74,1643.06 L471.23,1643.57 L473.73,1644.06 L476.23,1644.56 L478.73,1645.05 L481.23,1645.53 L483.72,1646.01 L486.22,1646.49 L488.72,1646.96 L491.22,1647.44 L493.72,1647.9 L496.21,1648.37 L498.71,1648.83 L501.21,1649.3 L503.71,1649.75 L506.21,1650.21 L508.7,1650.67 L511.2,1651.12 L513.7,1651.58 L516.2,1652.03 L518.69,1652.48 L521.19,1652.93 L523.69,1653.38 L526.19,1653.83 L528.69,1654.28 L531.18,1654.73 L533.68,1655.18 L536.18,1655.64 L538.68,1656.09 L541.18,1656.54 L543.67,1657 L546.17,1657.45 L548.67,1657.91 L551.17,1658.37 L553.67,1658.83 L556.16,1659.3 L558.66,1659.77 L561.16,1660.24 L563.66,1660.71 L566.15,1661.18 L568.65,1661.66 L571.15,1662.15 L573.65,1662.63 L576.15,1663.12 L578.64,1663.62 L581.14,1664.12 L583.64,1664.62 L586.14,1665.13 L588.64,1665.64 L591.13,1666.15 L593.63,1666.66 L596.13,1667.18 L598.63,1667.69 L601.13,1668.21 L603.62,1668.73 L606.12,1669.25 L608.62,1669.76 L611.12,1670.28 L613.62,1670.81 L616.11,1671.33 L618.61,1671.85 L621.11,1672.38 L623.61,1672.9 L626.1,1673.43 L628.6,1673.95 L631.1,1674.48 L633.6,1675.01 L636.1,1675.54 L638.59,1676.07 L641.09,1676.61 L643.59,1677.14 L646.09,1677.67 L648.59,1678.21 L651.08,1678.74 L653.58,1679.28 L656.08,1679.82 L658.58,1680.36 L661.08,1680.9 L663.57,1681.44 L666.07,1681.98 L668.57,1682.53 L671.07,1683.07 L673.56,1683.62 L676.06,1684.16 L678.56,1684.71 L681.06,1685.26 L683.56,1685.81 L686.05,1686.36 L688.55,1686.91 L691.05,1687.46 L693.55,1688.01 L696.05,1688.57 L698.54,1689.12 L701.04,1689.68 L703.54,1690.23 L706.04,1690.79 L708.54,1691.35 L711.03,1691.91 L713.53,1692.47 L716.03,1693.03 L718.53,1693.6 L721.03,1694.16 L723.52,1694.72 L726.02,1695.29 L728.52,1695.86 L731.02,1696.42 L733.51,1696.99 L736.01,1697.56 L738.51,1698.13 L741.01,1698.7 L743.51,1699.28 L746,1699.85 L748.5,1700.42 L751,1701" fill="none" stroke="#f00" stroke-width="2.8" stroke-linejoin="round"/>
<path d="M153.2,1895 L153.5,1397 L154,1397 L156.5,1420.98 L159,1438.44 L161.49,1451.74 L163.99,1462.72 L166.49,1472.29 L168.99,1480.82 L171.49,1488.69 L173.98,1496.05 L176.48,1502.83 L178.98,1508.95 L181.48,1514.36 L183.97,1519.25 L186.47,1523.83 L188.97,1528.12 L191.47,1532.17 L193.97,1535.98 L196.46,1539.61 L198.96,1543.07 L201.46,1546.4 L203.96,1549.6 L206.46,1552.68 L208.95,1555.62 L211.45,1558.43 L213.95,1561.14 L216.45,1563.73 L218.95,1566.23 L221.44,1568.63 L223.94,1570.93 L226.44,1573.11 L228.94,1575.18 L231.44,1577.17 L233.93,1579.1 L236.43,1581.01 L238.93,1582.91 L241.43,1584.84 L243.92,1586.82 L246.42,1588.88 L248.92,1591 L251.42,1593.13 L253.92,1595.24 L256.41,1597.31 L258.91,1599.28 L261.41,1601.14 L263.91,1602.84 L266.41,1604.41 L268.9,1605.91 L271.4,1607.35 L273.9,1608.74 L276.4,1610.07 L278.9,1611.36 L281.39,1612.61 L283.89,1613.83 L286.39,1615.02 L288.89,1616.2 L291.38,1617.35 L293.88,1618.5 L296.38,1619.61 L298.88,1620.71 L301.38,1621.78 L303.87,1622.83 L306.37,1623.87 L308.87,1624.88 L311.37,1625.89 L313.87,1626.88 L316.36,1627.85 L318.86,1628.82 L321.36,1629.78 L323.86,1630.74 L326.36,1631.69 L328.85,1632.64 L331.35,1633.59 L333.85,1634.53 L336.35,1635.49 L338.85,1636.44 L341.34,1637.4 L343.84,1638.37 L346.34,1639.34 L348.84,1640.31 L351.33,1641.27 L353.83,1642.23 L356.33,1643.19 L358.83,1644.14 L361.33,1645.09 L363.82,1646.04 L366.32,1646.99 L368.82,1647.93 L371.32,1648.87 L373.82,1649.81 L376.31,1650.75 L378.81,1651.69 L381.31,1652.63 L383.81,1653.56 L386.31,1654.5 L388.8,1655.43 L391.3,1656.37 L393.8,1657.3 L396.3,1658.24 L398.79,1659.18 L401.29,1660.14 L403.79,1661.11 L406.29,1662.1 L408.79,1663.09 L411.28,1664.09 L413.78,1665.09 L416.28,1666.08 L418.78,1667.06 L421.28,1668.03 L423.77,1668.98 L426.27,1669.91 L428.77,1670.81 L431.27,1671.67 L433.77,1672.51 L436.26,1673.3 L438.76,1674.05 L441.26,1674.75 L443.76,1675.44 L446.26,1676.11 L448.75,1676.78 L451.25,1677.43 L453.75,1678.07 L456.25,1678.69 L458.74,1679.31 L461.24,1679.92 L463.74,1680.52 L466.24,1681.1 L468.74,1681.68 L471.23,1682.25 L473.73,1682.81 L476.23,1683.37 L478.73,1683.91 L481.23,1684.45 L483.72,1684.98 L486.22,1685.5 L488.72,1686.02 L491.22,1686.53 L493.72,1687.03 L496.21,1687.53 L498.71,1688.03 L501.21,1688.51 L503.71,1689 L506.21,1689.48 L508.7,1689.96 L511.2,1690.43 L513.7,1690.9 L516.2,1691.37 L518.69,1691.83 L521.19,1692.29 L523.69,1692.75 L526.19,1693.21 L528.69,1693.67 L531.18,1694.13 L533.68,1694.59 L536.18,1695.05 L538.68,1695.5 L541.18,1695.96 L543.67,1696.42 L546.17,1696.88 L548.67,1697.35 L551.17,1697.81 L553.67,1698.28 L556.16,1698.75 L558.66,1699.22 L561.16,1699.7 L563.66,1700.18 L566.15,1700.66 L568.65,1701.15 L571.15,1701.65 L573.65,1702.14 L576.15,1702.65 L578.64,1703.16 L581.14,1703.68 L583.64,1704.2 L586.14,1704.73 L588.64,1705.26 L591.13,1705.8 L593.63,1706.33 L596.13,1706.87 L598.63,1707.4 L601.13,1707.94 L603.62,1708.47 L606.12,1709.01 L608.62,1709.55 L611.12,1710.09 L613.62,1710.62 L616.11,1711.16 L618.61,1711.7 L621.11,1712.24 L623.61,1712.78 L626.1,1713.32 L628.6,1713.87 L631.1,1714.41 L633.6,1714.95 L636.1,1715.49 L638.59,1716.04 L641.09,1716.58 L643.59,1717.12 L646.09,1717.67 L648.59,1718.21 L651.08,1718.76 L653.58,1719.31 L656.08,1719.85 L658.58,1720.4 L661.08,1720.95 L663.57,1721.5 L666.07,1722.04 L668.57,1722.59 L671.07,1723.14 L673.56,1723.69 L676.06,1724.24 L678.56,1724.8 L681.06,1725.35 L683.56,1725.9 L686.05,1726.45 L688.55,1727.01 L691.05,1727.56 L693.55,1728.11 L696.05,1728.67 L698.54,1729.22 L701.04,1729.78 L703.54,1730.34 L706.04,1730.89 L708.54,1731.45 L711.03,1732.01 L713.53,1732.57 L716.03,1733.12 L718.53,1733.68 L721.03,1734.24 L723.52,1734.8 L726.02,1735.36 L728.52,1735.93 L731.02,1736.49 L733.51,1737.05 L736.01,1737.61 L738.51,1738.18 L741.01,1738.74 L743.51,1739.3 L746,1739.87 L748.5,1740.43 L751,1741" fill="none" stroke="#00f" stroke-width="2.8" stroke-linejoin="round"/>
<path d="M153.2,1895 L153.5,1396 L154,1396 L156.5,1431.28 L159,1449.26 L161.49,1462.02 L163.99,1472.73 L166.49,1482.02 L168.99,1490.61 L171.49,1499.2 L173.98,1507.92 L176.48,1516.38 L178.98,1524.21 L181.48,1531.05 L183.97,1537.14 L186.47,1542.88 L188.97,1548.28 L191.47,1553.36 L193.97,1558.16 L196.46,1562.68 L198.96,1566.97 L201.46,1571.05 L203.96,1574.93 L206.46,1578.66 L208.95,1582.22 L211.45,1585.62 L213.95,1588.85 L216.45,1591.91 L218.95,1594.79 L221.44,1597.5 L223.94,1600.03 L226.44,1602.37 L228.94,1604.54 L231.44,1606.6 L233.93,1608.57 L236.43,1610.5 L238.93,1612.43 L241.43,1614.4 L243.92,1616.43 L246.42,1618.52 L248.92,1620.61 L251.42,1622.7 L253.92,1624.79 L256.41,1626.86 L258.91,1628.92 L261.41,1630.94 L263.91,1632.93 L266.41,1634.92 L268.9,1636.94 L271.4,1638.99 L273.9,1641.03 L276.4,1643.05 L278.9,1645.03 L281.39,1646.94 L283.89,1648.77 L286.39,1650.49 L288.89,1652.08 L291.38,1653.53 L293.88,1654.85 L296.38,1656.11 L298.88,1657.32 L301.38,1658.48 L303.87,1659.59 L306.37,1660.66 L308.87,1661.7 L311.37,1662.7 L313.87,1663.67 L316.36,1664.61 L318.86,1665.54 L321.36,1666.45 L323.86,1667.34 L326.36,1668.23 L328.85,1669.12 L331.35,1670 L333.85,1670.89 L336.35,1671.79 L338.85,1672.69 L341.34,1673.62 L343.84,1674.57 L346.34,1675.52 L348.84,1676.46 L351.33,1677.4 L353.83,1678.34 L356.33,1679.26 L358.83,1680.19 L361.33,1681.11 L363.82,1682.02 L366.32,1682.94 L368.82,1683.85 L371.32,1684.75 L373.82,1685.66 L376.31,1686.56 L378.81,1687.46 L381.31,1688.36 L383.81,1689.26 L386.31,1690.15 L388.8,1691.05 L391.3,1691.95 L393.8,1692.85 L396.3,1693.75 L398.79,1694.65 L401.29,1695.55 L403.79,1696.46 L406.29,1697.37 L408.79,1698.28 L411.28,1699.19 L413.78,1700.1 L416.28,1701 L418.78,1701.9 L421.28,1702.8 L423.77,1703.69 L426.27,1704.58 L428.77,1705.46 L431.27,1706.33 L433.77,1707.19 L436.26,1708.05 L438.76,1708.89 L441.26,1709.72 L443.76,1710.55 L446.26,1711.37 L448.75,1712.19 L451.25,1713.01 L453.75,1713.83 L456.25,1714.65 L458.74,1715.46 L461.24,1716.28 L463.74,1717.09 L466.24,1717.89 L468.74,1718.7 L471.23,1719.5 L473.73,1720.3 L476.23,1721.1 L478.73,1721.9 L481.23,1722.69 L483.72,1723.48 L486.22,1724.27 L488.72,1725.06 L491.22,1725.84 L493.72,1726.62 L496.21,1727.4 L498.71,1728.18 L501.21,1728.95 L503.71,1729.72 L506.21,1730.49 L508.7,1731.26 L511.2,1732.02 L513.7,1732.78 L516.2,1733.54 L518.69,1734.29 L521.19,1735.04 L523.69,1735.79 L526.19,1736.54 L528.69,1737.28 L531.18,1738.02 L533.68,1738.76 L536.18,1739.5 L538.68,1740.23 L541.18,1740.96 L543.67,1741.68 L546.17,1742.41 L548.67,1743.12 L551.17,1743.84 L553.67,1744.55 L556.16,1745.27 L558.66,1745.97 L561.16,1746.68 L563.66,1747.38 L566.15,1748.07 L568.65,1748.77 L571.15,1749.46 L573.65,1750.15 L576.15,1750.83 L578.64,1751.51 L581.14,1752.19 L583.64,1752.87 L586.14,1753.54 L588.64,1754.21 L591.13,1754.87 L593.63,1755.54 L596.13,1756.2 L598.63,1756.86 L601.13,1757.52 L603.62,1758.18 L606.12,1758.83 L608.62,1759.49 L611.12,1760.14 L613.62,1760.79 L616.11,1761.44 L618.61,1762.08 L621.11,1762.72 L623.61,1763.37 L626.1,1764.01 L628.6,1764.64 L631.1,1765.28 L633.6,1765.91 L636.1,1766.54 L638.59,1767.17 L641.09,1767.8 L643.59,1768.42 L646.09,1769.05 L648.59,1769.67 L651.08,1770.29 L653.58,1770.9 L656.08,1771.52 L658.58,1772.13 L661.08,1772.74 L663.57,1773.34 L666.07,1773.95 L668.57,1774.55 L671.07,1775.15 L673.56,1775.75 L676.06,1776.34 L678.56,1776.94 L681.06,1777.53 L683.56,1778.11 L686.05,1778.7 L688.55,1779.28 L691.05,1779.86 L693.55,1780.44 L696.05,1781.02 L698.54,1781.59 L701.04,1782.16 L703.54,1782.73 L706.04,1783.29 L708.54,1783.85 L711.03,1784.41 L713.53,1784.97 L716.03,1785.53 L718.53,1786.08 L721.03,1786.63 L723.52,1787.17 L726.02,1787.72 L728.52,1788.26 L731.02,1788.8 L733.51,1789.33 L736.01,1789.86 L738.51,1790.39 L741.01,1790.92 L743.51,1791.44 L746,1791.97 L748.5,1792.48 L751,1793" fill="none" stroke="#008000" stroke-width="2.8" stroke-linejoin="round"/>
</g>
<rect x="566.65" y="1428.75" width="5.9" height="5.9" fill="#fff" stroke="#000" stroke-width="1.85"/>
<text x="592" y="1441.4" font-size="24.5" text-anchor="start" >0.75 V</text>
<circle cx="569.6" cy="1475.6" r="3.0" fill="#fff" stroke="#f00" stroke-width="1.85"/>
<text x="592" y="1485.3" font-size="24.5" text-anchor="start" >0 V</text>
<path d="M569.6,1514.4L574,1521.95L565.2,1521.95Z" fill="#fff" stroke="#00f" stroke-width="1.85"/>
<text x="592" y="1529.1" font-size="24.5" text-anchor="start" >&#8211;1 V</text>
<path d="M569.6,1569.8L574,1562.25L565.2,1562.25Z" fill="#fff" stroke="#008000" stroke-width="1.85"/>
<text x="592" y="1574.5" font-size="24.5" text-anchor="start" >&#8211;2 V</text>
</svg></body></html>
